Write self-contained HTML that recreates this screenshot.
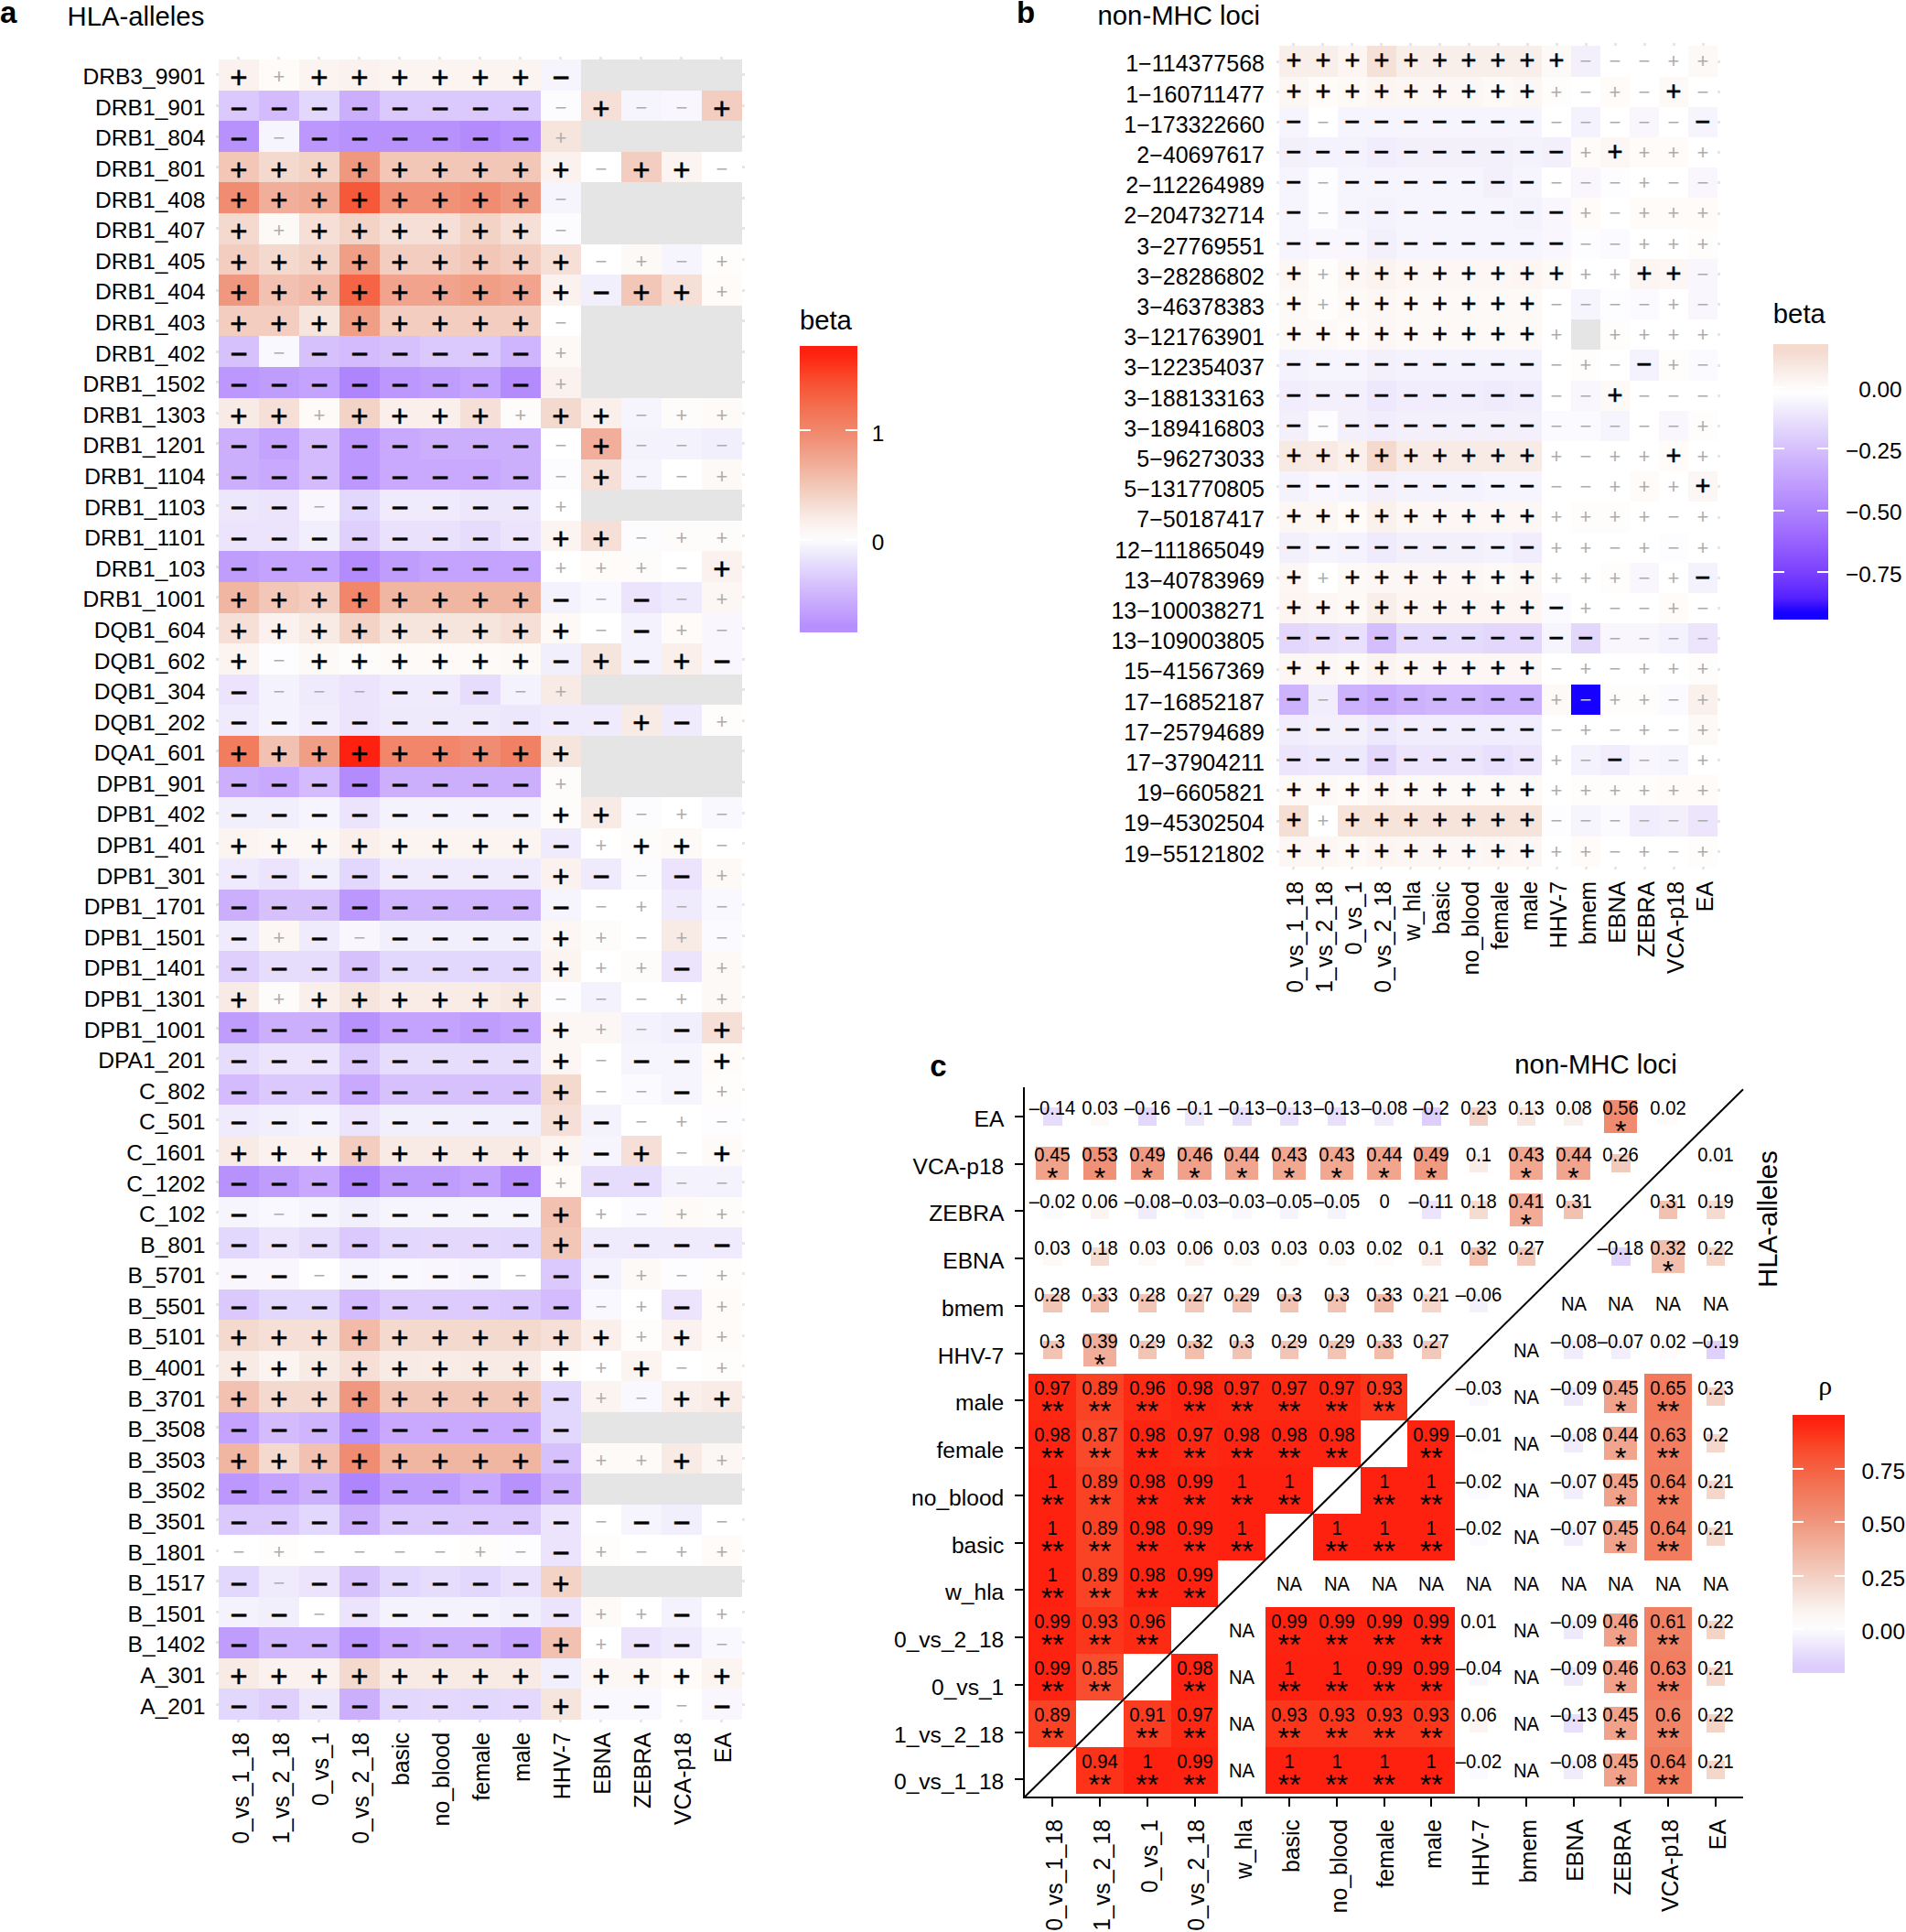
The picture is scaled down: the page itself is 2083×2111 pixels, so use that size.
<!DOCTYPE html>
<html><head><meta charset="utf-8"><title>figure</title><style>
html,body{margin:0;padding:0;background:#fff}
#r{position:relative;width:2083px;height:2111px;overflow:hidden;background:#fff;font-family:"Liberation Sans",Arial,Helvetica,sans-serif;color:#000}
#r div,#r i{position:absolute;display:block;white-space:nowrap}
.c{text-align:center;overflow:hidden}
.B{font-size:33px;line-height:38px;-webkit-text-stroke:0.5px #000}
.s{font-size:22px;line-height:37px;color:#adadad}
.b.B{font-size:29px;line-height:32px;-webkit-text-stroke:0.55px #000}
.b.s{line-height:33px}
.g{background:#e6e6e6}
.yb{font-size:25px !important}
.yl{width:300px;text-align:right;font-size:24.6px;line-height:30px;height:30px}
.ll{font-size:24.4px;line-height:30px;height:30px}
.xl{width:300px;height:30px;text-align:right;font-size:24.9px;line-height:30px;transform-origin:0 0;transform:rotate(-90deg)}
.tt{font-size:29.3px;line-height:36px;height:36px}
.pl{font-size:33px;line-height:40px;height:40px;font-weight:bold}
.t{height:2px;background:#fff}
.k{background:#000}
.v{width:80px;text-align:center;font-size:22.7px;line-height:24px;height:24px;transform:scaleX(0.89)}
.st{width:80px;text-align:center;font-size:32px;line-height:32px;height:32px}
.rho{width:60px;text-align:center;font-family:"Liberation Serif","DejaVu Serif",serif;font-size:30px;line-height:36px;height:36px}
</style></head><body><div id="r">
<i class="g" style="left:259.3px;top:62px;width:3px;height:1820px"></i>
<i class="g" style="left:303.3px;top:62px;width:3px;height:1820px"></i>
<i class="g" style="left:347.2px;top:62px;width:3px;height:1820px"></i>
<i class="g" style="left:391.2px;top:62px;width:3px;height:1820px"></i>
<i class="g" style="left:435.2px;top:62px;width:3px;height:1820px"></i>
<i class="g" style="left:479.2px;top:62px;width:3px;height:1820px"></i>
<i class="g" style="left:523.2px;top:62px;width:3px;height:1820px"></i>
<i class="g" style="left:567.1px;top:62px;width:3px;height:1820px"></i>
<i class="g" style="left:611.1px;top:62px;width:3px;height:1820px"></i>
<i class="g" style="left:655.1px;top:62px;width:3px;height:1820px"></i>
<i class="g" style="left:699.1px;top:62px;width:3px;height:1820px"></i>
<i class="g" style="left:743.1px;top:62px;width:3px;height:1820px"></i>
<i class="g" style="left:787.0px;top:62px;width:3px;height:1820px"></i>
<i class="g" style="left:236px;top:80.4px;width:578px;height:3px"></i>
<i class="g" style="left:236px;top:113.9px;width:578px;height:3px"></i>
<i class="g" style="left:236px;top:147.5px;width:578px;height:3px"></i>
<i class="g" style="left:236px;top:181.1px;width:578px;height:3px"></i>
<i class="g" style="left:236px;top:214.7px;width:578px;height:3px"></i>
<i class="g" style="left:236px;top:248.3px;width:578px;height:3px"></i>
<i class="g" style="left:236px;top:281.9px;width:578px;height:3px"></i>
<i class="g" style="left:236px;top:315.5px;width:578px;height:3px"></i>
<i class="g" style="left:236px;top:349.1px;width:578px;height:3px"></i>
<i class="g" style="left:236px;top:382.7px;width:578px;height:3px"></i>
<i class="g" style="left:236px;top:416.3px;width:578px;height:3px"></i>
<i class="g" style="left:236px;top:449.8px;width:578px;height:3px"></i>
<i class="g" style="left:236px;top:483.4px;width:578px;height:3px"></i>
<i class="g" style="left:236px;top:517.0px;width:578px;height:3px"></i>
<i class="g" style="left:236px;top:550.6px;width:578px;height:3px"></i>
<i class="g" style="left:236px;top:584.2px;width:578px;height:3px"></i>
<i class="g" style="left:236px;top:617.8px;width:578px;height:3px"></i>
<i class="g" style="left:236px;top:651.4px;width:578px;height:3px"></i>
<i class="g" style="left:236px;top:685.0px;width:578px;height:3px"></i>
<i class="g" style="left:236px;top:718.6px;width:578px;height:3px"></i>
<i class="g" style="left:236px;top:752.2px;width:578px;height:3px"></i>
<i class="g" style="left:236px;top:785.7px;width:578px;height:3px"></i>
<i class="g" style="left:236px;top:819.3px;width:578px;height:3px"></i>
<i class="g" style="left:236px;top:852.9px;width:578px;height:3px"></i>
<i class="g" style="left:236px;top:886.5px;width:578px;height:3px"></i>
<i class="g" style="left:236px;top:920.1px;width:578px;height:3px"></i>
<i class="g" style="left:236px;top:953.7px;width:578px;height:3px"></i>
<i class="g" style="left:236px;top:987.3px;width:578px;height:3px"></i>
<i class="g" style="left:236px;top:1020.9px;width:578px;height:3px"></i>
<i class="g" style="left:236px;top:1054.5px;width:578px;height:3px"></i>
<i class="g" style="left:236px;top:1088.1px;width:578px;height:3px"></i>
<i class="g" style="left:236px;top:1121.6px;width:578px;height:3px"></i>
<i class="g" style="left:236px;top:1155.2px;width:578px;height:3px"></i>
<i class="g" style="left:236px;top:1188.8px;width:578px;height:3px"></i>
<i class="g" style="left:236px;top:1222.4px;width:578px;height:3px"></i>
<i class="g" style="left:236px;top:1256.0px;width:578px;height:3px"></i>
<i class="g" style="left:236px;top:1289.6px;width:578px;height:3px"></i>
<i class="g" style="left:236px;top:1323.2px;width:578px;height:3px"></i>
<i class="g" style="left:236px;top:1356.8px;width:578px;height:3px"></i>
<i class="g" style="left:236px;top:1390.4px;width:578px;height:3px"></i>
<i class="g" style="left:236px;top:1424.0px;width:578px;height:3px"></i>
<i class="g" style="left:236px;top:1457.5px;width:578px;height:3px"></i>
<i class="g" style="left:236px;top:1491.1px;width:578px;height:3px"></i>
<i class="g" style="left:236px;top:1524.7px;width:578px;height:3px"></i>
<i class="g" style="left:236px;top:1558.3px;width:578px;height:3px"></i>
<i class="g" style="left:236px;top:1591.9px;width:578px;height:3px"></i>
<i class="g" style="left:236px;top:1625.5px;width:578px;height:3px"></i>
<i class="g" style="left:236px;top:1659.1px;width:578px;height:3px"></i>
<i class="g" style="left:236px;top:1692.7px;width:578px;height:3px"></i>
<i class="g" style="left:236px;top:1726.3px;width:578px;height:3px"></i>
<i class="g" style="left:236px;top:1759.9px;width:578px;height:3px"></i>
<i class="g" style="left:236px;top:1793.4px;width:578px;height:3px"></i>
<i class="g" style="left:236px;top:1827.0px;width:578px;height:3px"></i>
<i class="g" style="left:236px;top:1860.6px;width:578px;height:3px"></i>
<div class="yl ya" style="left:-75.6px;top:69.3px">DRB3_9901</div>
<div class="c a B" style="left:239px;top:65px;width:44px;height:34px;line-height:40.2px;background:#fbf2ef">+</div>
<div class="c a s" style="left:283px;top:65px;width:44px;height:34px;line-height:37.5px;background:#fefbf9">+</div>
<div class="c a B" style="left:327px;top:65px;width:44px;height:34px;line-height:40.2px;background:#fbf4f1">+</div>
<div class="c a B" style="left:371px;top:65px;width:44px;height:34px;line-height:40.2px;background:#fbf2ef">+</div>
<div class="c a B" style="left:415px;top:65px;width:44px;height:34px;line-height:40.2px;background:#fbf4f1">+</div>
<div class="c a B" style="left:459px;top:65px;width:44px;height:34px;line-height:40.2px;background:#fbf4f1">+</div>
<div class="c a B" style="left:503px;top:65px;width:44px;height:34px;line-height:40.2px;background:#fbf4f1">+</div>
<div class="c a B" style="left:547px;top:65px;width:44px;height:34px;line-height:40.2px;background:#fbf4f1">+</div>
<div class="c a B" style="left:591px;top:65px;width:44px;height:34px;line-height:40.2px;background:#f6f4fd">−</div>
<div class="c a" style="left:635px;top:65px;width:44px;height:34px;background:#e4e5e4"></div>
<div class="c a" style="left:679px;top:65px;width:44px;height:34px;background:#e4e5e4"></div>
<div class="c a" style="left:723px;top:65px;width:44px;height:34px;background:#e4e5e4"></div>
<div class="c a" style="left:767px;top:65px;width:44px;height:34px;background:#e4e5e4"></div>
<div class="yl ya" style="left:-75.6px;top:102.8px">DRB1_901</div>
<div class="c a B" style="left:239px;top:99px;width:44px;height:33px;line-height:40.2px;background:#dbc9fd">−</div>
<div class="c a B" style="left:283px;top:99px;width:44px;height:33px;line-height:40.2px;background:#d3bbfd">−</div>
<div class="c a B" style="left:327px;top:99px;width:44px;height:33px;line-height:40.2px;background:#e2d7fc">−</div>
<div class="c a B" style="left:371px;top:99px;width:44px;height:33px;line-height:40.2px;background:#cbaffd">−</div>
<div class="c a B" style="left:415px;top:99px;width:44px;height:33px;line-height:40.2px;background:#dbc9fd">−</div>
<div class="c a B" style="left:459px;top:99px;width:44px;height:33px;line-height:40.2px;background:#dbc9fd">−</div>
<div class="c a B" style="left:503px;top:99px;width:44px;height:33px;line-height:40.2px;background:#dbc9fd">−</div>
<div class="c a B" style="left:547px;top:99px;width:44px;height:33px;line-height:40.2px;background:#dbc9fd">−</div>
<div class="c a s" style="left:591px;top:99px;width:44px;height:33px;line-height:37.5px;background:#fcfbfe">−</div>
<div class="c a B" style="left:635px;top:99px;width:44px;height:33px;line-height:40.2px;background:#f5dfd6">+</div>
<div class="c a s" style="left:679px;top:99px;width:44px;height:33px;line-height:37.5px;background:#f6f4fd">−</div>
<div class="c a s" style="left:723px;top:99px;width:44px;height:33px;line-height:37.5px;background:#f9f7fd">−</div>
<div class="c a B" style="left:767px;top:99px;width:44px;height:33px;line-height:40.2px;background:#f3cdbf">+</div>
<div class="yl ya" style="left:-75.6px;top:136.4px">DRB1_804</div>
<div class="c a B" style="left:239px;top:132px;width:44px;height:34px;line-height:40.2px;background:#b792fd">−</div>
<div class="c a s" style="left:283px;top:132px;width:44px;height:34px;line-height:37.5px;background:#f6f4fd">−</div>
<div class="c a B" style="left:327px;top:132px;width:44px;height:34px;line-height:40.2px;background:#bc97fd">−</div>
<div class="c a B" style="left:371px;top:132px;width:44px;height:34px;line-height:40.2px;background:#b792fd">−</div>
<div class="c a B" style="left:415px;top:132px;width:44px;height:34px;line-height:40.2px;background:#b792fd">−</div>
<div class="c a B" style="left:459px;top:132px;width:44px;height:34px;line-height:40.2px;background:#b792fd">−</div>
<div class="c a B" style="left:503px;top:132px;width:44px;height:34px;line-height:40.2px;background:#b38bfd">−</div>
<div class="c a B" style="left:547px;top:132px;width:44px;height:34px;line-height:40.2px;background:#b792fd">−</div>
<div class="c a s" style="left:591px;top:132px;width:44px;height:34px;line-height:37.5px;background:#f6e5dd">+</div>
<div class="c a" style="left:635px;top:132px;width:44px;height:34px;background:#e4e5e4"></div>
<div class="c a" style="left:679px;top:132px;width:44px;height:34px;background:#e4e5e4"></div>
<div class="c a" style="left:723px;top:132px;width:44px;height:34px;background:#e4e5e4"></div>
<div class="c a" style="left:767px;top:132px;width:44px;height:34px;background:#e4e5e4"></div>
<div class="yl ya" style="left:-75.6px;top:170.0px">DRB1_801</div>
<div class="c a B" style="left:239px;top:166px;width:44px;height:33px;line-height:40.2px;background:#f2c7b8">+</div>
<div class="c a B" style="left:283px;top:166px;width:44px;height:33px;line-height:40.2px;background:#f4d9ce">+</div>
<div class="c a B" style="left:327px;top:166px;width:44px;height:33px;line-height:40.2px;background:#f4d3c7">+</div>
<div class="c a B" style="left:371px;top:166px;width:44px;height:33px;line-height:40.2px;background:#f0987f">+</div>
<div class="c a B" style="left:415px;top:166px;width:44px;height:33px;line-height:40.2px;background:#f2c7b8">+</div>
<div class="c a B" style="left:459px;top:166px;width:44px;height:33px;line-height:40.2px;background:#f2c7b8">+</div>
<div class="c a B" style="left:503px;top:166px;width:44px;height:33px;line-height:40.2px;background:#f2c7b8">+</div>
<div class="c a B" style="left:547px;top:166px;width:44px;height:33px;line-height:40.2px;background:#f2c7b8">+</div>
<div class="c a B" style="left:591px;top:166px;width:44px;height:33px;line-height:40.2px;background:#fbf2ef">+</div>
<div class="c a s" style="left:635px;top:166px;width:44px;height:33px;line-height:37.5px;background:#ffffff">−</div>
<div class="c a B" style="left:679px;top:166px;width:44px;height:33px;line-height:40.2px;background:#f3cdbf">+</div>
<div class="c a B" style="left:723px;top:166px;width:44px;height:33px;line-height:40.2px;background:#fbf4f1">+</div>
<div class="c a s" style="left:767px;top:166px;width:44px;height:33px;line-height:37.5px;background:#ffffff">−</div>
<div class="yl ya" style="left:-75.6px;top:203.6px">DRB1_408</div>
<div class="c a B" style="left:239px;top:199px;width:44px;height:34px;line-height:40.2px;background:#f08c71">+</div>
<div class="c a B" style="left:283px;top:199px;width:44px;height:34px;line-height:40.2px;background:#f1af9b">+</div>
<div class="c a B" style="left:327px;top:199px;width:44px;height:34px;line-height:40.2px;background:#f1aa94">+</div>
<div class="c a B" style="left:371px;top:199px;width:44px;height:34px;line-height:40.2px;background:#f65939">+</div>
<div class="c a B" style="left:415px;top:199px;width:44px;height:34px;line-height:40.2px;background:#f09178">+</div>
<div class="c a B" style="left:459px;top:199px;width:44px;height:34px;line-height:40.2px;background:#f09178">+</div>
<div class="c a B" style="left:503px;top:199px;width:44px;height:34px;line-height:40.2px;background:#f08c71">+</div>
<div class="c a B" style="left:547px;top:199px;width:44px;height:34px;line-height:40.2px;background:#f0987f">+</div>
<div class="c a s" style="left:591px;top:199px;width:44px;height:34px;line-height:37.5px;background:#f6f4fd">−</div>
<div class="c a" style="left:635px;top:199px;width:44px;height:34px;background:#e4e5e4"></div>
<div class="c a" style="left:679px;top:199px;width:44px;height:34px;background:#e4e5e4"></div>
<div class="c a" style="left:723px;top:199px;width:44px;height:34px;background:#e4e5e4"></div>
<div class="c a" style="left:767px;top:199px;width:44px;height:34px;background:#e4e5e4"></div>
<div class="yl ya" style="left:-75.6px;top:237.2px">DRB1_407</div>
<div class="c a B" style="left:239px;top:233px;width:44px;height:34px;line-height:40.2px;background:#f4d9ce">+</div>
<div class="c a s" style="left:283px;top:233px;width:44px;height:34px;line-height:37.5px;background:#fdf9f7">+</div>
<div class="c a B" style="left:327px;top:233px;width:44px;height:34px;line-height:40.2px;background:#f5dfd6">+</div>
<div class="c a B" style="left:371px;top:233px;width:44px;height:34px;line-height:40.2px;background:#f4d3c7">+</div>
<div class="c a B" style="left:415px;top:233px;width:44px;height:34px;line-height:40.2px;background:#f5dfd6">+</div>
<div class="c a B" style="left:459px;top:233px;width:44px;height:34px;line-height:40.2px;background:#f5dfd6">+</div>
<div class="c a B" style="left:503px;top:233px;width:44px;height:34px;line-height:40.2px;background:#f4d3c7">+</div>
<div class="c a B" style="left:547px;top:233px;width:44px;height:34px;line-height:40.2px;background:#f5dfd6">+</div>
<div class="c a s" style="left:591px;top:233px;width:44px;height:34px;line-height:37.5px;background:#fcfbfe">−</div>
<div class="c a" style="left:635px;top:233px;width:44px;height:34px;background:#e4e5e4"></div>
<div class="c a" style="left:679px;top:233px;width:44px;height:34px;background:#e4e5e4"></div>
<div class="c a" style="left:723px;top:233px;width:44px;height:34px;background:#e4e5e4"></div>
<div class="c a" style="left:767px;top:233px;width:44px;height:34px;background:#e4e5e4"></div>
<div class="yl ya" style="left:-75.6px;top:270.8px">DRB1_405</div>
<div class="c a B" style="left:239px;top:267px;width:44px;height:33px;line-height:40.2px;background:#f3cdbf">+</div>
<div class="c a B" style="left:283px;top:267px;width:44px;height:33px;line-height:40.2px;background:#f4d9ce">+</div>
<div class="c a B" style="left:327px;top:267px;width:44px;height:33px;line-height:40.2px;background:#f4d3c7">+</div>
<div class="c a B" style="left:371px;top:267px;width:44px;height:33px;line-height:40.2px;background:#f19e86">+</div>
<div class="c a B" style="left:415px;top:267px;width:44px;height:33px;line-height:40.2px;background:#f3cdbf">+</div>
<div class="c a B" style="left:459px;top:267px;width:44px;height:33px;line-height:40.2px;background:#f3cdbf">+</div>
<div class="c a B" style="left:503px;top:267px;width:44px;height:33px;line-height:40.2px;background:#f2c7b8">+</div>
<div class="c a B" style="left:547px;top:267px;width:44px;height:33px;line-height:40.2px;background:#f3cdbf">+</div>
<div class="c a B" style="left:591px;top:267px;width:44px;height:33px;line-height:40.2px;background:#f5dfd6">+</div>
<div class="c a s" style="left:635px;top:267px;width:44px;height:33px;line-height:37.5px;background:#ffffff">−</div>
<div class="c a s" style="left:679px;top:267px;width:44px;height:33px;line-height:37.5px;background:#fdf9f7">+</div>
<div class="c a s" style="left:723px;top:267px;width:44px;height:33px;line-height:37.5px;background:#f6f4fd">−</div>
<div class="c a s" style="left:767px;top:267px;width:44px;height:33px;line-height:37.5px;background:#fefdfc">+</div>
<div class="yl ya" style="left:-75.6px;top:304.4px">DRB1_404</div>
<div class="c a B" style="left:239px;top:300px;width:44px;height:34px;line-height:40.2px;background:#f0987f">+</div>
<div class="c a B" style="left:283px;top:300px;width:44px;height:34px;line-height:40.2px;background:#f2c1b1">+</div>
<div class="c a B" style="left:327px;top:300px;width:44px;height:34px;line-height:40.2px;background:#f2bba9">+</div>
<div class="c a B" style="left:371px;top:300px;width:44px;height:34px;line-height:40.2px;background:#f56545">+</div>
<div class="c a B" style="left:415px;top:300px;width:44px;height:34px;line-height:40.2px;background:#f1a38d">+</div>
<div class="c a B" style="left:459px;top:300px;width:44px;height:34px;line-height:40.2px;background:#f1a38d">+</div>
<div class="c a B" style="left:503px;top:300px;width:44px;height:34px;line-height:40.2px;background:#f19e86">+</div>
<div class="c a B" style="left:547px;top:300px;width:44px;height:34px;line-height:40.2px;background:#f1a38d">+</div>
<div class="c a B" style="left:591px;top:300px;width:44px;height:34px;line-height:40.2px;background:#fbf2ef">+</div>
<div class="c a B" style="left:635px;top:300px;width:44px;height:34px;line-height:40.2px;background:#f2effc">−</div>
<div class="c a B" style="left:679px;top:300px;width:44px;height:34px;line-height:40.2px;background:#f2c7b8">+</div>
<div class="c a B" style="left:723px;top:300px;width:44px;height:34px;line-height:40.2px;background:#f5dfd6">+</div>
<div class="c a s" style="left:767px;top:300px;width:44px;height:34px;line-height:37.5px;background:#fefbf9">+</div>
<div class="yl ya" style="left:-75.6px;top:338.0px">DRB1_403</div>
<div class="c a B" style="left:239px;top:334px;width:44px;height:33px;line-height:40.2px;background:#f3cdbf">+</div>
<div class="c a B" style="left:283px;top:334px;width:44px;height:33px;line-height:40.2px;background:#f3cdbf">+</div>
<div class="c a B" style="left:327px;top:334px;width:44px;height:33px;line-height:40.2px;background:#f6e5dd">+</div>
<div class="c a B" style="left:371px;top:334px;width:44px;height:33px;line-height:40.2px;background:#f19e86">+</div>
<div class="c a B" style="left:415px;top:334px;width:44px;height:33px;line-height:40.2px;background:#f3cdbf">+</div>
<div class="c a B" style="left:459px;top:334px;width:44px;height:33px;line-height:40.2px;background:#f3cdbf">+</div>
<div class="c a B" style="left:503px;top:334px;width:44px;height:33px;line-height:40.2px;background:#f3cdbf">+</div>
<div class="c a B" style="left:547px;top:334px;width:44px;height:33px;line-height:40.2px;background:#f3cdbf">+</div>
<div class="c a s" style="left:591px;top:334px;width:44px;height:33px;line-height:37.5px;background:#ffffff">−</div>
<div class="c a" style="left:635px;top:334px;width:44px;height:33px;background:#e4e5e4"></div>
<div class="c a" style="left:679px;top:334px;width:44px;height:33px;background:#e4e5e4"></div>
<div class="c a" style="left:723px;top:334px;width:44px;height:33px;background:#e4e5e4"></div>
<div class="c a" style="left:767px;top:334px;width:44px;height:33px;background:#e4e5e4"></div>
<div class="yl ya" style="left:-75.6px;top:371.6px">DRB1_402</div>
<div class="c a B" style="left:239px;top:367px;width:44px;height:34px;line-height:40.2px;background:#d7c1fd">−</div>
<div class="c a s" style="left:283px;top:367px;width:44px;height:34px;line-height:37.5px;background:#f9f8fe">−</div>
<div class="c a B" style="left:327px;top:367px;width:44px;height:34px;line-height:40.2px;background:#d7c1fd">−</div>
<div class="c a B" style="left:371px;top:367px;width:44px;height:34px;line-height:40.2px;background:#d3bbfd">−</div>
<div class="c a B" style="left:415px;top:367px;width:44px;height:34px;line-height:40.2px;background:#d7c1fd">−</div>
<div class="c a B" style="left:459px;top:367px;width:44px;height:34px;line-height:40.2px;background:#dbc9fd">−</div>
<div class="c a B" style="left:503px;top:367px;width:44px;height:34px;line-height:40.2px;background:#dbc9fd">−</div>
<div class="c a B" style="left:547px;top:367px;width:44px;height:34px;line-height:40.2px;background:#cfb5fd">−</div>
<div class="c a s" style="left:591px;top:367px;width:44px;height:34px;line-height:37.5px;background:#fdf9f7">+</div>
<div class="c a" style="left:635px;top:367px;width:44px;height:34px;background:#e4e5e4"></div>
<div class="c a" style="left:679px;top:367px;width:44px;height:34px;background:#e4e5e4"></div>
<div class="c a" style="left:723px;top:367px;width:44px;height:34px;background:#e4e5e4"></div>
<div class="c a" style="left:767px;top:367px;width:44px;height:34px;background:#e4e5e4"></div>
<div class="yl ya" style="left:-75.6px;top:405.2px">DRB1_1502</div>
<div class="c a B" style="left:239px;top:401px;width:44px;height:34px;line-height:40.2px;background:#bc97fd">−</div>
<div class="c a B" style="left:283px;top:401px;width:44px;height:34px;line-height:40.2px;background:#bf9dfd">−</div>
<div class="c a B" style="left:327px;top:401px;width:44px;height:34px;line-height:40.2px;background:#c3a3fd">−</div>
<div class="c a B" style="left:371px;top:401px;width:44px;height:34px;line-height:40.2px;background:#af85fd">−</div>
<div class="c a B" style="left:415px;top:401px;width:44px;height:34px;line-height:40.2px;background:#bc97fd">−</div>
<div class="c a B" style="left:459px;top:401px;width:44px;height:34px;line-height:40.2px;background:#bf9dfd">−</div>
<div class="c a B" style="left:503px;top:401px;width:44px;height:34px;line-height:40.2px;background:#c3a3fd">−</div>
<div class="c a B" style="left:547px;top:401px;width:44px;height:34px;line-height:40.2px;background:#b38bfd">−</div>
<div class="c a s" style="left:591px;top:401px;width:44px;height:34px;line-height:37.5px;background:#fbf2ef">+</div>
<div class="c a" style="left:635px;top:401px;width:44px;height:34px;background:#e4e5e4"></div>
<div class="c a" style="left:679px;top:401px;width:44px;height:34px;background:#e4e5e4"></div>
<div class="c a" style="left:723px;top:401px;width:44px;height:34px;background:#e4e5e4"></div>
<div class="c a" style="left:767px;top:401px;width:44px;height:34px;background:#e4e5e4"></div>
<div class="yl ya" style="left:-75.6px;top:438.7px">DRB1_1303</div>
<div class="c a B" style="left:239px;top:435px;width:44px;height:33px;line-height:40.2px;background:#f8eae4">+</div>
<div class="c a B" style="left:283px;top:435px;width:44px;height:33px;line-height:40.2px;background:#f5dfd6">+</div>
<div class="c a s" style="left:327px;top:435px;width:44px;height:33px;line-height:37.5px;background:#fdfaf8">+</div>
<div class="c a B" style="left:371px;top:435px;width:44px;height:33px;line-height:40.2px;background:#f4d3c7">+</div>
<div class="c a B" style="left:415px;top:435px;width:44px;height:33px;line-height:40.2px;background:#faefea">+</div>
<div class="c a B" style="left:459px;top:435px;width:44px;height:33px;line-height:40.2px;background:#faefea">+</div>
<div class="c a B" style="left:503px;top:435px;width:44px;height:33px;line-height:40.2px;background:#f5dfd6">+</div>
<div class="c a s" style="left:547px;top:435px;width:44px;height:33px;line-height:37.5px;background:#fefcfb">+</div>
<div class="c a B" style="left:591px;top:435px;width:44px;height:33px;line-height:40.2px;background:#f4d9ce">+</div>
<div class="c a B" style="left:635px;top:435px;width:44px;height:33px;line-height:40.2px;background:#faefea">+</div>
<div class="c a s" style="left:679px;top:435px;width:44px;height:33px;line-height:37.5px;background:#f6f4fd">−</div>
<div class="c a s" style="left:723px;top:435px;width:44px;height:33px;line-height:37.5px;background:#fefcfb">+</div>
<div class="c a s" style="left:767px;top:435px;width:44px;height:33px;line-height:37.5px;background:#fdfaf8">+</div>
<div class="yl ya" style="left:-75.6px;top:472.3px">DRB1_1201</div>
<div class="c a B" style="left:239px;top:468px;width:44px;height:34px;line-height:40.2px;background:#cbaffd">−</div>
<div class="c a B" style="left:283px;top:468px;width:44px;height:34px;line-height:40.2px;background:#c3a3fd">−</div>
<div class="c a B" style="left:327px;top:468px;width:44px;height:34px;line-height:40.2px;background:#d3bbfd">−</div>
<div class="c a B" style="left:371px;top:468px;width:44px;height:34px;line-height:40.2px;background:#bc97fd">−</div>
<div class="c a B" style="left:415px;top:468px;width:44px;height:34px;line-height:40.2px;background:#c8a9fd">−</div>
<div class="c a B" style="left:459px;top:468px;width:44px;height:34px;line-height:40.2px;background:#cbaffd">−</div>
<div class="c a B" style="left:503px;top:468px;width:44px;height:34px;line-height:40.2px;background:#cbaffd">−</div>
<div class="c a B" style="left:547px;top:468px;width:44px;height:34px;line-height:40.2px;background:#cbaffd">−</div>
<div class="c a s" style="left:591px;top:468px;width:44px;height:34px;line-height:37.5px;background:#ffffff">−</div>
<div class="c a B" style="left:635px;top:468px;width:44px;height:34px;line-height:40.2px;background:#f1af9b">+</div>
<div class="c a s" style="left:679px;top:468px;width:44px;height:34px;line-height:37.5px;background:#f4f2fc">−</div>
<div class="c a s" style="left:723px;top:468px;width:44px;height:34px;line-height:37.5px;background:#f4f2fc">−</div>
<div class="c a s" style="left:767px;top:468px;width:44px;height:34px;line-height:37.5px;background:#f2effc">−</div>
<div class="yl ya" style="left:-75.6px;top:505.9px">DRB1_1104</div>
<div class="c a B" style="left:239px;top:502px;width:44px;height:33px;line-height:40.2px;background:#cbaffd">−</div>
<div class="c a B" style="left:283px;top:502px;width:44px;height:33px;line-height:40.2px;background:#c8a9fd">−</div>
<div class="c a B" style="left:327px;top:502px;width:44px;height:33px;line-height:40.2px;background:#d3bbfd">−</div>
<div class="c a B" style="left:371px;top:502px;width:44px;height:33px;line-height:40.2px;background:#bc97fd">−</div>
<div class="c a B" style="left:415px;top:502px;width:44px;height:33px;line-height:40.2px;background:#c8a9fd">−</div>
<div class="c a B" style="left:459px;top:502px;width:44px;height:33px;line-height:40.2px;background:#c8a9fd">−</div>
<div class="c a B" style="left:503px;top:502px;width:44px;height:33px;line-height:40.2px;background:#c8a9fd">−</div>
<div class="c a B" style="left:547px;top:502px;width:44px;height:33px;line-height:40.2px;background:#cbaffd">−</div>
<div class="c a s" style="left:591px;top:502px;width:44px;height:33px;line-height:37.5px;background:#fcfbfe">−</div>
<div class="c a B" style="left:635px;top:502px;width:44px;height:33px;line-height:40.2px;background:#f5dfd6">+</div>
<div class="c a s" style="left:679px;top:502px;width:44px;height:33px;line-height:37.5px;background:#f6f4fd">−</div>
<div class="c a s" style="left:723px;top:502px;width:44px;height:33px;line-height:37.5px;background:#ffffff">−</div>
<div class="c a s" style="left:767px;top:502px;width:44px;height:33px;line-height:37.5px;background:#fdf9f7">+</div>
<div class="yl ya" style="left:-75.6px;top:539.5px">DRB1_1103</div>
<div class="c a B" style="left:239px;top:535px;width:44px;height:34px;line-height:40.2px;background:#ede7fc">−</div>
<div class="c a B" style="left:283px;top:535px;width:44px;height:34px;line-height:40.2px;background:#ebe4fc">−</div>
<div class="c a s" style="left:327px;top:535px;width:44px;height:34px;line-height:37.5px;background:#f9f7fd">−</div>
<div class="c a B" style="left:371px;top:535px;width:44px;height:34px;line-height:40.2px;background:#e2d7fc">−</div>
<div class="c a B" style="left:415px;top:535px;width:44px;height:34px;line-height:40.2px;background:#efebfc">−</div>
<div class="c a B" style="left:459px;top:535px;width:44px;height:34px;line-height:40.2px;background:#efebfc">−</div>
<div class="c a B" style="left:503px;top:535px;width:44px;height:34px;line-height:40.2px;background:#ede7fc">−</div>
<div class="c a B" style="left:547px;top:535px;width:44px;height:34px;line-height:40.2px;background:#ede7fc">−</div>
<div class="c a s" style="left:591px;top:535px;width:44px;height:34px;line-height:37.5px;background:#ffffff">+</div>
<div class="c a" style="left:635px;top:535px;width:44px;height:34px;background:#e4e5e4"></div>
<div class="c a" style="left:679px;top:535px;width:44px;height:34px;background:#e4e5e4"></div>
<div class="c a" style="left:723px;top:535px;width:44px;height:34px;background:#e4e5e4"></div>
<div class="c a" style="left:767px;top:535px;width:44px;height:34px;background:#e4e5e4"></div>
<div class="yl ya" style="left:-75.6px;top:573.1px">DRB1_1101</div>
<div class="c a B" style="left:239px;top:569px;width:44px;height:33px;line-height:40.2px;background:#ebe4fc">−</div>
<div class="c a B" style="left:283px;top:569px;width:44px;height:33px;line-height:40.2px;background:#ebe4fc">−</div>
<div class="c a B" style="left:327px;top:569px;width:44px;height:33px;line-height:40.2px;background:#f2effc">−</div>
<div class="c a B" style="left:371px;top:569px;width:44px;height:33px;line-height:40.2px;background:#decffc">−</div>
<div class="c a B" style="left:415px;top:569px;width:44px;height:33px;line-height:40.2px;background:#eae1fc">−</div>
<div class="c a B" style="left:459px;top:569px;width:44px;height:33px;line-height:40.2px;background:#eae1fc">−</div>
<div class="c a B" style="left:503px;top:569px;width:44px;height:33px;line-height:40.2px;background:#e6ddfc">−</div>
<div class="c a B" style="left:547px;top:569px;width:44px;height:33px;line-height:40.2px;background:#ebe4fc">−</div>
<div class="c a B" style="left:591px;top:569px;width:44px;height:33px;line-height:40.2px;background:#fbf4f1">+</div>
<div class="c a B" style="left:635px;top:569px;width:44px;height:33px;line-height:40.2px;background:#f5dfd6">+</div>
<div class="c a s" style="left:679px;top:569px;width:44px;height:33px;line-height:37.5px;background:#fcfbfe">−</div>
<div class="c a s" style="left:723px;top:569px;width:44px;height:33px;line-height:37.5px;background:#fefcfb">+</div>
<div class="c a s" style="left:767px;top:569px;width:44px;height:33px;line-height:37.5px;background:#fefcfb">+</div>
<div class="yl ya" style="left:-75.6px;top:606.7px">DRB1_103</div>
<div class="c a B" style="left:239px;top:602px;width:44px;height:34px;line-height:40.2px;background:#bf9dfd">−</div>
<div class="c a B" style="left:283px;top:602px;width:44px;height:34px;line-height:40.2px;background:#c3a3fd">−</div>
<div class="c a B" style="left:327px;top:602px;width:44px;height:34px;line-height:40.2px;background:#c3a3fd">−</div>
<div class="c a B" style="left:371px;top:602px;width:44px;height:34px;line-height:40.2px;background:#b38bfd">−</div>
<div class="c a B" style="left:415px;top:602px;width:44px;height:34px;line-height:40.2px;background:#bf9dfd">−</div>
<div class="c a B" style="left:459px;top:602px;width:44px;height:34px;line-height:40.2px;background:#c3a3fd">−</div>
<div class="c a B" style="left:503px;top:602px;width:44px;height:34px;line-height:40.2px;background:#c3a3fd">−</div>
<div class="c a B" style="left:547px;top:602px;width:44px;height:34px;line-height:40.2px;background:#c3a3fd">−</div>
<div class="c a s" style="left:591px;top:602px;width:44px;height:34px;line-height:37.5px;background:#ffffff">+</div>
<div class="c a s" style="left:635px;top:602px;width:44px;height:34px;line-height:37.5px;background:#fefbf9">+</div>
<div class="c a s" style="left:679px;top:602px;width:44px;height:34px;line-height:37.5px;background:#fefcfb">+</div>
<div class="c a s" style="left:723px;top:602px;width:44px;height:34px;line-height:37.5px;background:#ffffff">−</div>
<div class="c a B" style="left:767px;top:602px;width:44px;height:34px;line-height:40.2px;background:#fbf2ef">+</div>
<div class="yl ya" style="left:-75.6px;top:640.3px">DRB1_1001</div>
<div class="c a B" style="left:239px;top:636px;width:44px;height:34px;line-height:40.2px;background:#f1b6a2">+</div>
<div class="c a B" style="left:283px;top:636px;width:44px;height:34px;line-height:40.2px;background:#f2c7b8">+</div>
<div class="c a B" style="left:327px;top:636px;width:44px;height:34px;line-height:40.2px;background:#f3cdbf">+</div>
<div class="c a B" style="left:371px;top:636px;width:44px;height:34px;line-height:40.2px;background:#f1866a">+</div>
<div class="c a B" style="left:415px;top:636px;width:44px;height:34px;line-height:40.2px;background:#f1b6a2">+</div>
<div class="c a B" style="left:459px;top:636px;width:44px;height:34px;line-height:40.2px;background:#f1b6a2">+</div>
<div class="c a B" style="left:503px;top:636px;width:44px;height:34px;line-height:40.2px;background:#f1b6a2">+</div>
<div class="c a B" style="left:547px;top:636px;width:44px;height:34px;line-height:40.2px;background:#f1b6a2">+</div>
<div class="c a B" style="left:591px;top:636px;width:44px;height:34px;line-height:40.2px;background:#f4f2fc">−</div>
<div class="c a s" style="left:635px;top:636px;width:44px;height:34px;line-height:37.5px;background:#f9f8fe">−</div>
<div class="c a B" style="left:679px;top:636px;width:44px;height:34px;line-height:40.2px;background:#ebe4fc">−</div>
<div class="c a s" style="left:723px;top:636px;width:44px;height:34px;line-height:37.5px;background:#efebfc">−</div>
<div class="c a s" style="left:767px;top:636px;width:44px;height:34px;line-height:37.5px;background:#fcf7f4">+</div>
<div class="yl ya" style="left:-75.6px;top:673.9px">DQB1_604</div>
<div class="c a B" style="left:239px;top:670px;width:44px;height:33px;line-height:40.2px;background:#f5dfd6">+</div>
<div class="c a B" style="left:283px;top:670px;width:44px;height:33px;line-height:40.2px;background:#fbf2ef">+</div>
<div class="c a B" style="left:327px;top:670px;width:44px;height:33px;line-height:40.2px;background:#f8eae4">+</div>
<div class="c a B" style="left:371px;top:670px;width:44px;height:33px;line-height:40.2px;background:#f4d3c7">+</div>
<div class="c a B" style="left:415px;top:670px;width:44px;height:33px;line-height:40.2px;background:#f6e5dd">+</div>
<div class="c a B" style="left:459px;top:670px;width:44px;height:33px;line-height:40.2px;background:#f6e5dd">+</div>
<div class="c a B" style="left:503px;top:670px;width:44px;height:33px;line-height:40.2px;background:#f6e5dd">+</div>
<div class="c a B" style="left:547px;top:670px;width:44px;height:33px;line-height:40.2px;background:#f5dfd6">+</div>
<div class="c a B" style="left:591px;top:670px;width:44px;height:33px;line-height:40.2px;background:#fdf9f7">+</div>
<div class="c a s" style="left:635px;top:670px;width:44px;height:33px;line-height:37.5px;background:#ffffff">−</div>
<div class="c a B" style="left:679px;top:670px;width:44px;height:33px;line-height:40.2px;background:#f4f2fc">−</div>
<div class="c a s" style="left:723px;top:670px;width:44px;height:33px;line-height:37.5px;background:#fefbf9">+</div>
<div class="c a s" style="left:767px;top:670px;width:44px;height:33px;line-height:37.5px;background:#f9f7fd">−</div>
<div class="yl ya" style="left:-75.6px;top:707.5px">DQB1_602</div>
<div class="c a B" style="left:239px;top:703px;width:44px;height:34px;line-height:40.2px;background:#fbf4f1">+</div>
<div class="c a s" style="left:283px;top:703px;width:44px;height:34px;line-height:37.5px;background:#fdfcfe">−</div>
<div class="c a B" style="left:327px;top:703px;width:44px;height:34px;line-height:40.2px;background:#fdf9f7">+</div>
<div class="c a B" style="left:371px;top:703px;width:44px;height:34px;line-height:40.2px;background:#fefcfb">+</div>
<div class="c a B" style="left:415px;top:703px;width:44px;height:34px;line-height:40.2px;background:#fdfaf8">+</div>
<div class="c a B" style="left:459px;top:703px;width:44px;height:34px;line-height:40.2px;background:#fdfaf8">+</div>
<div class="c a B" style="left:503px;top:703px;width:44px;height:34px;line-height:40.2px;background:#fdfaf8">+</div>
<div class="c a B" style="left:547px;top:703px;width:44px;height:34px;line-height:40.2px;background:#fdf9f7">+</div>
<div class="c a B" style="left:591px;top:703px;width:44px;height:34px;line-height:40.2px;background:#f2effc">−</div>
<div class="c a B" style="left:635px;top:703px;width:44px;height:34px;line-height:40.2px;background:#f6e5dd">+</div>
<div class="c a B" style="left:679px;top:703px;width:44px;height:34px;line-height:40.2px;background:#f4f2fc">−</div>
<div class="c a B" style="left:723px;top:703px;width:44px;height:34px;line-height:40.2px;background:#faefea">+</div>
<div class="c a B" style="left:767px;top:703px;width:44px;height:34px;line-height:40.2px;background:#f9f7fd">−</div>
<div class="yl ya" style="left:-75.6px;top:741.1px">DQB1_304</div>
<div class="c a B" style="left:239px;top:737px;width:44px;height:33px;line-height:40.2px;background:#ebe4fc">−</div>
<div class="c a s" style="left:283px;top:737px;width:44px;height:33px;line-height:37.5px;background:#f4f2fc">−</div>
<div class="c a s" style="left:327px;top:737px;width:44px;height:33px;line-height:37.5px;background:#efebfc">−</div>
<div class="c a s" style="left:371px;top:737px;width:44px;height:33px;line-height:37.5px;background:#ebe4fc">−</div>
<div class="c a B" style="left:415px;top:737px;width:44px;height:33px;line-height:40.2px;background:#efebfc">−</div>
<div class="c a B" style="left:459px;top:737px;width:44px;height:33px;line-height:40.2px;background:#efebfc">−</div>
<div class="c a B" style="left:503px;top:737px;width:44px;height:33px;line-height:40.2px;background:#e6ddfc">−</div>
<div class="c a s" style="left:547px;top:737px;width:44px;height:33px;line-height:37.5px;background:#f4f2fc">−</div>
<div class="c a s" style="left:591px;top:737px;width:44px;height:33px;line-height:37.5px;background:#f8eae4">+</div>
<div class="c a" style="left:635px;top:737px;width:44px;height:33px;background:#e4e5e4"></div>
<div class="c a" style="left:679px;top:737px;width:44px;height:33px;background:#e4e5e4"></div>
<div class="c a" style="left:723px;top:737px;width:44px;height:33px;background:#e4e5e4"></div>
<div class="c a" style="left:767px;top:737px;width:44px;height:33px;background:#e4e5e4"></div>
<div class="yl ya" style="left:-75.6px;top:774.6px">DQB1_202</div>
<div class="c a B" style="left:239px;top:770px;width:44px;height:34px;line-height:40.2px;background:#efebfc">−</div>
<div class="c a B" style="left:283px;top:770px;width:44px;height:34px;line-height:40.2px;background:#f4f2fc">−</div>
<div class="c a B" style="left:327px;top:770px;width:44px;height:34px;line-height:40.2px;background:#f1edfc">−</div>
<div class="c a B" style="left:371px;top:770px;width:44px;height:34px;line-height:40.2px;background:#ebe4fc">−</div>
<div class="c a B" style="left:415px;top:770px;width:44px;height:34px;line-height:40.2px;background:#eeeafc">−</div>
<div class="c a B" style="left:459px;top:770px;width:44px;height:34px;line-height:40.2px;background:#eeeafc">−</div>
<div class="c a B" style="left:503px;top:770px;width:44px;height:34px;line-height:40.2px;background:#eeeafc">−</div>
<div class="c a B" style="left:547px;top:770px;width:44px;height:34px;line-height:40.2px;background:#ede7fc">−</div>
<div class="c a B" style="left:591px;top:770px;width:44px;height:34px;line-height:40.2px;background:#efebfc">−</div>
<div class="c a B" style="left:635px;top:770px;width:44px;height:34px;line-height:40.2px;background:#efebfc">−</div>
<div class="c a B" style="left:679px;top:770px;width:44px;height:34px;line-height:40.2px;background:#f8eae4">+</div>
<div class="c a B" style="left:723px;top:770px;width:44px;height:34px;line-height:40.2px;background:#efebfc">−</div>
<div class="c a s" style="left:767px;top:770px;width:44px;height:34px;line-height:37.5px;background:#fefdfc">+</div>
<div class="yl ya" style="left:-75.6px;top:808.2px">DQA1_601</div>
<div class="c a B" style="left:239px;top:804px;width:44px;height:34px;line-height:40.2px;background:#f27c5e">+</div>
<div class="c a B" style="left:283px;top:804px;width:44px;height:34px;line-height:40.2px;background:#f2c1b1">+</div>
<div class="c a B" style="left:327px;top:804px;width:44px;height:34px;line-height:40.2px;background:#f19e86">+</div>
<div class="c a B" style="left:371px;top:804px;width:44px;height:34px;line-height:40.2px;background:#fe2110">+</div>
<div class="c a B" style="left:415px;top:804px;width:44px;height:34px;line-height:40.2px;background:#f1866a">+</div>
<div class="c a B" style="left:459px;top:804px;width:44px;height:34px;line-height:40.2px;background:#f1866a">+</div>
<div class="c a B" style="left:503px;top:804px;width:44px;height:34px;line-height:40.2px;background:#f08c71">+</div>
<div class="c a B" style="left:547px;top:804px;width:44px;height:34px;line-height:40.2px;background:#f18165">+</div>
<div class="c a B" style="left:591px;top:804px;width:44px;height:34px;line-height:40.2px;background:#f6e5dd">+</div>
<div class="c a" style="left:635px;top:804px;width:44px;height:34px;background:#e4e5e4"></div>
<div class="c a" style="left:679px;top:804px;width:44px;height:34px;background:#e4e5e4"></div>
<div class="c a" style="left:723px;top:804px;width:44px;height:34px;background:#e4e5e4"></div>
<div class="c a" style="left:767px;top:804px;width:44px;height:34px;background:#e4e5e4"></div>
<div class="yl ya" style="left:-75.6px;top:841.8px">DPB1_901</div>
<div class="c a B" style="left:239px;top:838px;width:44px;height:33px;line-height:40.2px;background:#cbaffd">−</div>
<div class="c a B" style="left:283px;top:838px;width:44px;height:33px;line-height:40.2px;background:#c8a9fd">−</div>
<div class="c a B" style="left:327px;top:838px;width:44px;height:33px;line-height:40.2px;background:#d3bbfd">−</div>
<div class="c a B" style="left:371px;top:838px;width:44px;height:33px;line-height:40.2px;background:#b38bfd">−</div>
<div class="c a B" style="left:415px;top:838px;width:44px;height:33px;line-height:40.2px;background:#cbaffd">−</div>
<div class="c a B" style="left:459px;top:838px;width:44px;height:33px;line-height:40.2px;background:#cbaffd">−</div>
<div class="c a B" style="left:503px;top:838px;width:44px;height:33px;line-height:40.2px;background:#cbaffd">−</div>
<div class="c a B" style="left:547px;top:838px;width:44px;height:33px;line-height:40.2px;background:#cbaffd">−</div>
<div class="c a s" style="left:591px;top:838px;width:44px;height:33px;line-height:37.5px;background:#fefcfb">+</div>
<div class="c a" style="left:635px;top:838px;width:44px;height:33px;background:#e4e5e4"></div>
<div class="c a" style="left:679px;top:838px;width:44px;height:33px;background:#e4e5e4"></div>
<div class="c a" style="left:723px;top:838px;width:44px;height:33px;background:#e4e5e4"></div>
<div class="c a" style="left:767px;top:838px;width:44px;height:33px;background:#e4e5e4"></div>
<div class="yl ya" style="left:-75.6px;top:875.4px">DPB1_402</div>
<div class="c a B" style="left:239px;top:871px;width:44px;height:34px;line-height:40.2px;background:#f2effc">−</div>
<div class="c a B" style="left:283px;top:871px;width:44px;height:34px;line-height:40.2px;background:#f2effc">−</div>
<div class="c a B" style="left:327px;top:871px;width:44px;height:34px;line-height:40.2px;background:#f6f4fd">−</div>
<div class="c a B" style="left:371px;top:871px;width:44px;height:34px;line-height:40.2px;background:#ebe4fc">−</div>
<div class="c a B" style="left:415px;top:871px;width:44px;height:34px;line-height:40.2px;background:#f4f2fc">−</div>
<div class="c a B" style="left:459px;top:871px;width:44px;height:34px;line-height:40.2px;background:#f4f2fc">−</div>
<div class="c a B" style="left:503px;top:871px;width:44px;height:34px;line-height:40.2px;background:#f4f2fc">−</div>
<div class="c a B" style="left:547px;top:871px;width:44px;height:34px;line-height:40.2px;background:#f4f2fc">−</div>
<div class="c a B" style="left:591px;top:871px;width:44px;height:34px;line-height:40.2px;background:#fefcfb">+</div>
<div class="c a B" style="left:635px;top:871px;width:44px;height:34px;line-height:40.2px;background:#f8eae4">+</div>
<div class="c a s" style="left:679px;top:871px;width:44px;height:34px;line-height:37.5px;background:#fcfbfe">−</div>
<div class="c a s" style="left:723px;top:871px;width:44px;height:34px;line-height:37.5px;background:#ffffff">+</div>
<div class="c a s" style="left:767px;top:871px;width:44px;height:34px;line-height:37.5px;background:#f9f8fe">−</div>
<div class="yl ya" style="left:-75.6px;top:909.0px">DPB1_401</div>
<div class="c a B" style="left:239px;top:905px;width:44px;height:33px;line-height:40.2px;background:#fbf4f1">+</div>
<div class="c a B" style="left:283px;top:905px;width:44px;height:33px;line-height:40.2px;background:#fcf7f4">+</div>
<div class="c a B" style="left:327px;top:905px;width:44px;height:33px;line-height:40.2px;background:#fcf7f4">+</div>
<div class="c a B" style="left:371px;top:905px;width:44px;height:33px;line-height:40.2px;background:#faefea">+</div>
<div class="c a B" style="left:415px;top:905px;width:44px;height:33px;line-height:40.2px;background:#fbf4f1">+</div>
<div class="c a B" style="left:459px;top:905px;width:44px;height:33px;line-height:40.2px;background:#fbf4f1">+</div>
<div class="c a B" style="left:503px;top:905px;width:44px;height:33px;line-height:40.2px;background:#fbf4f1">+</div>
<div class="c a B" style="left:547px;top:905px;width:44px;height:33px;line-height:40.2px;background:#fbf4f1">+</div>
<div class="c a B" style="left:591px;top:905px;width:44px;height:33px;line-height:40.2px;background:#efebfc">−</div>
<div class="c a s" style="left:635px;top:905px;width:44px;height:33px;line-height:37.5px;background:#ffffff">+</div>
<div class="c a B" style="left:679px;top:905px;width:44px;height:33px;line-height:40.2px;background:#fefcfb">+</div>
<div class="c a B" style="left:723px;top:905px;width:44px;height:33px;line-height:40.2px;background:#fdf9f7">+</div>
<div class="c a s" style="left:767px;top:905px;width:44px;height:33px;line-height:37.5px;background:#ffffff">−</div>
<div class="yl ya" style="left:-75.6px;top:942.6px">DPB1_301</div>
<div class="c a B" style="left:239px;top:938px;width:44px;height:34px;line-height:40.2px;background:#efebfc">−</div>
<div class="c a B" style="left:283px;top:938px;width:44px;height:34px;line-height:40.2px;background:#ebe4fc">−</div>
<div class="c a B" style="left:327px;top:938px;width:44px;height:34px;line-height:40.2px;background:#f2effc">−</div>
<div class="c a B" style="left:371px;top:938px;width:44px;height:34px;line-height:40.2px;background:#e2d7fc">−</div>
<div class="c a B" style="left:415px;top:938px;width:44px;height:34px;line-height:40.2px;background:#efebfc">−</div>
<div class="c a B" style="left:459px;top:938px;width:44px;height:34px;line-height:40.2px;background:#efebfc">−</div>
<div class="c a B" style="left:503px;top:938px;width:44px;height:34px;line-height:40.2px;background:#efebfc">−</div>
<div class="c a B" style="left:547px;top:938px;width:44px;height:34px;line-height:40.2px;background:#efebfc">−</div>
<div class="c a B" style="left:591px;top:938px;width:44px;height:34px;line-height:40.2px;background:#fbf2ef">+</div>
<div class="c a B" style="left:635px;top:938px;width:44px;height:34px;line-height:40.2px;background:#efebfc">−</div>
<div class="c a s" style="left:679px;top:938px;width:44px;height:34px;line-height:37.5px;background:#fcfbfe">−</div>
<div class="c a B" style="left:723px;top:938px;width:44px;height:34px;line-height:40.2px;background:#ebe4fc">−</div>
<div class="c a s" style="left:767px;top:938px;width:44px;height:34px;line-height:37.5px;background:#fdf9f7">+</div>
<div class="yl ya" style="left:-75.6px;top:976.2px">DPB1_1701</div>
<div class="c a B" style="left:239px;top:972px;width:44px;height:34px;line-height:40.2px;background:#cbaffd">−</div>
<div class="c a B" style="left:283px;top:972px;width:44px;height:34px;line-height:40.2px;background:#d7c1fd">−</div>
<div class="c a B" style="left:327px;top:972px;width:44px;height:34px;line-height:40.2px;background:#d7c1fd">−</div>
<div class="c a B" style="left:371px;top:972px;width:44px;height:34px;line-height:40.2px;background:#bc97fd">−</div>
<div class="c a B" style="left:415px;top:972px;width:44px;height:34px;line-height:40.2px;background:#cfb5fd">−</div>
<div class="c a B" style="left:459px;top:972px;width:44px;height:34px;line-height:40.2px;background:#cfb5fd">−</div>
<div class="c a B" style="left:503px;top:972px;width:44px;height:34px;line-height:40.2px;background:#cfb5fd">−</div>
<div class="c a B" style="left:547px;top:972px;width:44px;height:34px;line-height:40.2px;background:#cfb5fd">−</div>
<div class="c a B" style="left:591px;top:972px;width:44px;height:34px;line-height:40.2px;background:#f6f4fd">−</div>
<div class="c a s" style="left:635px;top:972px;width:44px;height:34px;line-height:37.5px;background:#ffffff">−</div>
<div class="c a s" style="left:679px;top:972px;width:44px;height:34px;line-height:37.5px;background:#ffffff">+</div>
<div class="c a s" style="left:723px;top:972px;width:44px;height:34px;line-height:37.5px;background:#efebfc">−</div>
<div class="c a s" style="left:767px;top:972px;width:44px;height:34px;line-height:37.5px;background:#f9f8fe">−</div>
<div class="yl ya" style="left:-75.6px;top:1009.8px">DPB1_1501</div>
<div class="c a B" style="left:239px;top:1006px;width:44px;height:33px;line-height:40.2px;background:#efebfc">−</div>
<div class="c a s" style="left:283px;top:1006px;width:44px;height:33px;line-height:37.5px;background:#fcf7f4">+</div>
<div class="c a B" style="left:327px;top:1006px;width:44px;height:33px;line-height:40.2px;background:#efebfc">−</div>
<div class="c a s" style="left:371px;top:1006px;width:44px;height:33px;line-height:37.5px;background:#f9f7fd">−</div>
<div class="c a B" style="left:415px;top:1006px;width:44px;height:33px;line-height:40.2px;background:#f2effc">−</div>
<div class="c a B" style="left:459px;top:1006px;width:44px;height:33px;line-height:40.2px;background:#f2effc">−</div>
<div class="c a B" style="left:503px;top:1006px;width:44px;height:33px;line-height:40.2px;background:#f2effc">−</div>
<div class="c a B" style="left:547px;top:1006px;width:44px;height:33px;line-height:40.2px;background:#f2effc">−</div>
<div class="c a B" style="left:591px;top:1006px;width:44px;height:33px;line-height:40.2px;background:#fcf7f4">+</div>
<div class="c a s" style="left:635px;top:1006px;width:44px;height:33px;line-height:37.5px;background:#fefcfb">+</div>
<div class="c a s" style="left:679px;top:1006px;width:44px;height:33px;line-height:37.5px;background:#ffffff">−</div>
<div class="c a s" style="left:723px;top:1006px;width:44px;height:33px;line-height:37.5px;background:#f8eae4">+</div>
<div class="c a s" style="left:767px;top:1006px;width:44px;height:33px;line-height:37.5px;background:#fbfafe">−</div>
<div class="yl ya" style="left:-75.6px;top:1043.4px">DPB1_1401</div>
<div class="c a B" style="left:239px;top:1039px;width:44px;height:34px;line-height:40.2px;background:#decffc">−</div>
<div class="c a B" style="left:283px;top:1039px;width:44px;height:34px;line-height:40.2px;background:#e6ddfc">−</div>
<div class="c a B" style="left:327px;top:1039px;width:44px;height:34px;line-height:40.2px;background:#e6ddfc">−</div>
<div class="c a B" style="left:371px;top:1039px;width:44px;height:34px;line-height:40.2px;background:#d7c1fd">−</div>
<div class="c a B" style="left:415px;top:1039px;width:44px;height:34px;line-height:40.2px;background:#e2d7fc">−</div>
<div class="c a B" style="left:459px;top:1039px;width:44px;height:34px;line-height:40.2px;background:#e2d7fc">−</div>
<div class="c a B" style="left:503px;top:1039px;width:44px;height:34px;line-height:40.2px;background:#e2d7fc">−</div>
<div class="c a B" style="left:547px;top:1039px;width:44px;height:34px;line-height:40.2px;background:#e2d7fc">−</div>
<div class="c a B" style="left:591px;top:1039px;width:44px;height:34px;line-height:40.2px;background:#fbf4f1">+</div>
<div class="c a s" style="left:635px;top:1039px;width:44px;height:34px;line-height:37.5px;background:#ffffff">+</div>
<div class="c a s" style="left:679px;top:1039px;width:44px;height:34px;line-height:37.5px;background:#fefcfb">+</div>
<div class="c a B" style="left:723px;top:1039px;width:44px;height:34px;line-height:40.2px;background:#ebe4fc">−</div>
<div class="c a s" style="left:767px;top:1039px;width:44px;height:34px;line-height:37.5px;background:#fdf9f7">+</div>
<div class="yl ya" style="left:-75.6px;top:1077.0px">DPB1_1301</div>
<div class="c a B" style="left:239px;top:1073px;width:44px;height:33px;line-height:40.2px;background:#f8eae4">+</div>
<div class="c a s" style="left:283px;top:1073px;width:44px;height:33px;line-height:37.5px;background:#fefcfb">+</div>
<div class="c a B" style="left:327px;top:1073px;width:44px;height:33px;line-height:40.2px;background:#faefea">+</div>
<div class="c a B" style="left:371px;top:1073px;width:44px;height:33px;line-height:40.2px;background:#f6e5dd">+</div>
<div class="c a B" style="left:415px;top:1073px;width:44px;height:33px;line-height:40.2px;background:#f9ece6">+</div>
<div class="c a B" style="left:459px;top:1073px;width:44px;height:33px;line-height:40.2px;background:#f9ece6">+</div>
<div class="c a B" style="left:503px;top:1073px;width:44px;height:33px;line-height:40.2px;background:#f9ece6">+</div>
<div class="c a B" style="left:547px;top:1073px;width:44px;height:33px;line-height:40.2px;background:#f7e8e1">+</div>
<div class="c a s" style="left:591px;top:1073px;width:44px;height:33px;line-height:37.5px;background:#fdfcfe">−</div>
<div class="c a s" style="left:635px;top:1073px;width:44px;height:33px;line-height:37.5px;background:#f4f2fc">−</div>
<div class="c a s" style="left:679px;top:1073px;width:44px;height:33px;line-height:37.5px;background:#ffffff">−</div>
<div class="c a s" style="left:723px;top:1073px;width:44px;height:33px;line-height:37.5px;background:#ffffff">+</div>
<div class="c a s" style="left:767px;top:1073px;width:44px;height:33px;line-height:37.5px;background:#fdf9f7">+</div>
<div class="yl ya" style="left:-75.6px;top:1110.5px">DPB1_1001</div>
<div class="c a B" style="left:239px;top:1106px;width:44px;height:34px;line-height:40.2px;background:#bf9dfd">−</div>
<div class="c a B" style="left:283px;top:1106px;width:44px;height:34px;line-height:40.2px;background:#cbaffd">−</div>
<div class="c a B" style="left:327px;top:1106px;width:44px;height:34px;line-height:40.2px;background:#cbaffd">−</div>
<div class="c a B" style="left:371px;top:1106px;width:44px;height:34px;line-height:40.2px;background:#b792fd">−</div>
<div class="c a B" style="left:415px;top:1106px;width:44px;height:34px;line-height:40.2px;background:#c3a3fd">−</div>
<div class="c a B" style="left:459px;top:1106px;width:44px;height:34px;line-height:40.2px;background:#c3a3fd">−</div>
<div class="c a B" style="left:503px;top:1106px;width:44px;height:34px;line-height:40.2px;background:#bf9dfd">−</div>
<div class="c a B" style="left:547px;top:1106px;width:44px;height:34px;line-height:40.2px;background:#c3a3fd">−</div>
<div class="c a B" style="left:591px;top:1106px;width:44px;height:34px;line-height:40.2px;background:#fcf7f4">+</div>
<div class="c a s" style="left:635px;top:1106px;width:44px;height:34px;line-height:37.5px;background:#fcf7f4">+</div>
<div class="c a s" style="left:679px;top:1106px;width:44px;height:34px;line-height:37.5px;background:#f4f2fc">−</div>
<div class="c a B" style="left:723px;top:1106px;width:44px;height:34px;line-height:40.2px;background:#f2effc">−</div>
<div class="c a B" style="left:767px;top:1106px;width:44px;height:34px;line-height:40.2px;background:#f5dfd6">+</div>
<div class="yl ya" style="left:-75.6px;top:1144.1px">DPA1_201</div>
<div class="c a B" style="left:239px;top:1140px;width:44px;height:34px;line-height:40.2px;background:#e6ddfc">−</div>
<div class="c a B" style="left:283px;top:1140px;width:44px;height:34px;line-height:40.2px;background:#ebe4fc">−</div>
<div class="c a B" style="left:327px;top:1140px;width:44px;height:34px;line-height:40.2px;background:#ebe4fc">−</div>
<div class="c a B" style="left:371px;top:1140px;width:44px;height:34px;line-height:40.2px;background:#dbc9fd">−</div>
<div class="c a B" style="left:415px;top:1140px;width:44px;height:34px;line-height:40.2px;background:#e6ddfc">−</div>
<div class="c a B" style="left:459px;top:1140px;width:44px;height:34px;line-height:40.2px;background:#e6ddfc">−</div>
<div class="c a B" style="left:503px;top:1140px;width:44px;height:34px;line-height:40.2px;background:#e6ddfc">−</div>
<div class="c a B" style="left:547px;top:1140px;width:44px;height:34px;line-height:40.2px;background:#e6ddfc">−</div>
<div class="c a B" style="left:591px;top:1140px;width:44px;height:34px;line-height:40.2px;background:#fcf7f4">+</div>
<div class="c a s" style="left:635px;top:1140px;width:44px;height:34px;line-height:37.5px;background:#ffffff">−</div>
<div class="c a B" style="left:679px;top:1140px;width:44px;height:34px;line-height:40.2px;background:#f6f4fd">−</div>
<div class="c a B" style="left:723px;top:1140px;width:44px;height:34px;line-height:40.2px;background:#f6f4fd">−</div>
<div class="c a B" style="left:767px;top:1140px;width:44px;height:34px;line-height:40.2px;background:#fefbf9">+</div>
<div class="yl ya" style="left:-75.6px;top:1177.7px">C_802</div>
<div class="c a B" style="left:239px;top:1174px;width:44px;height:33px;line-height:40.2px;background:#d3bbfd">−</div>
<div class="c a B" style="left:283px;top:1174px;width:44px;height:33px;line-height:40.2px;background:#dbc9fd">−</div>
<div class="c a B" style="left:327px;top:1174px;width:44px;height:33px;line-height:40.2px;background:#dbc9fd">−</div>
<div class="c a B" style="left:371px;top:1174px;width:44px;height:33px;line-height:40.2px;background:#c8a9fd">−</div>
<div class="c a B" style="left:415px;top:1174px;width:44px;height:33px;line-height:40.2px;background:#d7c1fd">−</div>
<div class="c a B" style="left:459px;top:1174px;width:44px;height:33px;line-height:40.2px;background:#d7c1fd">−</div>
<div class="c a B" style="left:503px;top:1174px;width:44px;height:33px;line-height:40.2px;background:#d7c1fd">−</div>
<div class="c a B" style="left:547px;top:1174px;width:44px;height:33px;line-height:40.2px;background:#d7c1fd">−</div>
<div class="c a B" style="left:591px;top:1174px;width:44px;height:33px;line-height:40.2px;background:#f4d9ce">+</div>
<div class="c a s" style="left:635px;top:1174px;width:44px;height:33px;line-height:37.5px;background:#ffffff">−</div>
<div class="c a s" style="left:679px;top:1174px;width:44px;height:33px;line-height:37.5px;background:#fbfafe">−</div>
<div class="c a B" style="left:723px;top:1174px;width:44px;height:33px;line-height:40.2px;background:#f6f4fd">−</div>
<div class="c a s" style="left:767px;top:1174px;width:44px;height:33px;line-height:37.5px;background:#fefdfc">+</div>
<div class="yl ya" style="left:-75.6px;top:1211.3px">C_501</div>
<div class="c a B" style="left:239px;top:1207px;width:44px;height:34px;line-height:40.2px;background:#efebfc">−</div>
<div class="c a B" style="left:283px;top:1207px;width:44px;height:34px;line-height:40.2px;background:#f2effc">−</div>
<div class="c a B" style="left:327px;top:1207px;width:44px;height:34px;line-height:40.2px;background:#f4f2fc">−</div>
<div class="c a B" style="left:371px;top:1207px;width:44px;height:34px;line-height:40.2px;background:#ebe4fc">−</div>
<div class="c a B" style="left:415px;top:1207px;width:44px;height:34px;line-height:40.2px;background:#f2effc">−</div>
<div class="c a B" style="left:459px;top:1207px;width:44px;height:34px;line-height:40.2px;background:#f2effc">−</div>
<div class="c a B" style="left:503px;top:1207px;width:44px;height:34px;line-height:40.2px;background:#f2effc">−</div>
<div class="c a B" style="left:547px;top:1207px;width:44px;height:34px;line-height:40.2px;background:#f2effc">−</div>
<div class="c a B" style="left:591px;top:1207px;width:44px;height:34px;line-height:40.2px;background:#f5dfd6">+</div>
<div class="c a B" style="left:635px;top:1207px;width:44px;height:34px;line-height:40.2px;background:#f4f2fc">−</div>
<div class="c a s" style="left:679px;top:1207px;width:44px;height:34px;line-height:37.5px;background:#ffffff">−</div>
<div class="c a s" style="left:723px;top:1207px;width:44px;height:34px;line-height:37.5px;background:#ffffff">+</div>
<div class="c a s" style="left:767px;top:1207px;width:44px;height:34px;line-height:37.5px;background:#fdfcfe">−</div>
<div class="yl ya" style="left:-75.6px;top:1244.9px">C_1601</div>
<div class="c a B" style="left:239px;top:1241px;width:44px;height:33px;line-height:40.2px;background:#f8eae4">+</div>
<div class="c a B" style="left:283px;top:1241px;width:44px;height:33px;line-height:40.2px;background:#fbf2ef">+</div>
<div class="c a B" style="left:327px;top:1241px;width:44px;height:33px;line-height:40.2px;background:#fbf2ef">+</div>
<div class="c a B" style="left:371px;top:1241px;width:44px;height:33px;line-height:40.2px;background:#f3cdbf">+</div>
<div class="c a B" style="left:415px;top:1241px;width:44px;height:33px;line-height:40.2px;background:#f8eae4">+</div>
<div class="c a B" style="left:459px;top:1241px;width:44px;height:33px;line-height:40.2px;background:#f8eae4">+</div>
<div class="c a B" style="left:503px;top:1241px;width:44px;height:33px;line-height:40.2px;background:#f8eae4">+</div>
<div class="c a B" style="left:547px;top:1241px;width:44px;height:33px;line-height:40.2px;background:#f8eae4">+</div>
<div class="c a B" style="left:591px;top:1241px;width:44px;height:33px;line-height:40.2px;background:#fbf4f1">+</div>
<div class="c a B" style="left:635px;top:1241px;width:44px;height:33px;line-height:40.2px;background:#f6f4fd">−</div>
<div class="c a B" style="left:679px;top:1241px;width:44px;height:33px;line-height:40.2px;background:#f5dfd6">+</div>
<div class="c a s" style="left:723px;top:1241px;width:44px;height:33px;line-height:37.5px;background:#ffffff">−</div>
<div class="c a B" style="left:767px;top:1241px;width:44px;height:33px;line-height:40.2px;background:#fdfaf8">+</div>
<div class="yl ya" style="left:-75.6px;top:1278.5px">C_1202</div>
<div class="c a B" style="left:239px;top:1274px;width:44px;height:34px;line-height:40.2px;background:#b792fd">−</div>
<div class="c a B" style="left:283px;top:1274px;width:44px;height:34px;line-height:40.2px;background:#bf9dfd">−</div>
<div class="c a B" style="left:327px;top:1274px;width:44px;height:34px;line-height:40.2px;background:#c8a9fd">−</div>
<div class="c a B" style="left:371px;top:1274px;width:44px;height:34px;line-height:40.2px;background:#af85fd">−</div>
<div class="c a B" style="left:415px;top:1274px;width:44px;height:34px;line-height:40.2px;background:#bf9dfd">−</div>
<div class="c a B" style="left:459px;top:1274px;width:44px;height:34px;line-height:40.2px;background:#bf9dfd">−</div>
<div class="c a B" style="left:503px;top:1274px;width:44px;height:34px;line-height:40.2px;background:#c3a3fd">−</div>
<div class="c a B" style="left:547px;top:1274px;width:44px;height:34px;line-height:40.2px;background:#b38bfd">−</div>
<div class="c a s" style="left:591px;top:1274px;width:44px;height:34px;line-height:37.5px;background:#fefbf9">+</div>
<div class="c a B" style="left:635px;top:1274px;width:44px;height:34px;line-height:40.2px;background:#e6ddfc">−</div>
<div class="c a B" style="left:679px;top:1274px;width:44px;height:34px;line-height:40.2px;background:#e6ddfc">−</div>
<div class="c a s" style="left:723px;top:1274px;width:44px;height:34px;line-height:37.5px;background:#f4f2fc">−</div>
<div class="c a s" style="left:767px;top:1274px;width:44px;height:34px;line-height:37.5px;background:#f4f2fc">−</div>
<div class="yl ya" style="left:-75.6px;top:1312.1px">C_102</div>
<div class="c a B" style="left:239px;top:1308px;width:44px;height:33px;line-height:40.2px;background:#f6f4fd">−</div>
<div class="c a s" style="left:283px;top:1308px;width:44px;height:33px;line-height:37.5px;background:#f9f8fe">−</div>
<div class="c a B" style="left:327px;top:1308px;width:44px;height:33px;line-height:40.2px;background:#f6f4fd">−</div>
<div class="c a B" style="left:371px;top:1308px;width:44px;height:33px;line-height:40.2px;background:#f2effc">−</div>
<div class="c a B" style="left:415px;top:1308px;width:44px;height:33px;line-height:40.2px;background:#f6f4fd">−</div>
<div class="c a B" style="left:459px;top:1308px;width:44px;height:33px;line-height:40.2px;background:#f6f4fd">−</div>
<div class="c a B" style="left:503px;top:1308px;width:44px;height:33px;line-height:40.2px;background:#f6f4fd">−</div>
<div class="c a B" style="left:547px;top:1308px;width:44px;height:33px;line-height:40.2px;background:#f6f4fd">−</div>
<div class="c a B" style="left:591px;top:1308px;width:44px;height:33px;line-height:40.2px;background:#f2c1b1">+</div>
<div class="c a s" style="left:635px;top:1308px;width:44px;height:33px;line-height:37.5px;background:#ffffff">+</div>
<div class="c a s" style="left:679px;top:1308px;width:44px;height:33px;line-height:37.5px;background:#fbfafe">−</div>
<div class="c a s" style="left:723px;top:1308px;width:44px;height:33px;line-height:37.5px;background:#fdfaf8">+</div>
<div class="c a s" style="left:767px;top:1308px;width:44px;height:33px;line-height:37.5px;background:#fefcfb">+</div>
<div class="yl ya" style="left:-75.6px;top:1345.7px">B_801</div>
<div class="c a B" style="left:239px;top:1341px;width:44px;height:34px;line-height:40.2px;background:#e2d7fc">−</div>
<div class="c a B" style="left:283px;top:1341px;width:44px;height:34px;line-height:40.2px;background:#ebe4fc">−</div>
<div class="c a B" style="left:327px;top:1341px;width:44px;height:34px;line-height:40.2px;background:#e6ddfc">−</div>
<div class="c a B" style="left:371px;top:1341px;width:44px;height:34px;line-height:40.2px;background:#dbc9fd">−</div>
<div class="c a B" style="left:415px;top:1341px;width:44px;height:34px;line-height:40.2px;background:#e2d7fc">−</div>
<div class="c a B" style="left:459px;top:1341px;width:44px;height:34px;line-height:40.2px;background:#e4d9fc">−</div>
<div class="c a B" style="left:503px;top:1341px;width:44px;height:34px;line-height:40.2px;background:#e4d9fc">−</div>
<div class="c a B" style="left:547px;top:1341px;width:44px;height:34px;line-height:40.2px;background:#e2d7fc">−</div>
<div class="c a B" style="left:591px;top:1341px;width:44px;height:34px;line-height:40.2px;background:#f2c7b8">+</div>
<div class="c a B" style="left:635px;top:1341px;width:44px;height:34px;line-height:40.2px;background:#efebfc">−</div>
<div class="c a B" style="left:679px;top:1341px;width:44px;height:34px;line-height:40.2px;background:#efebfc">−</div>
<div class="c a B" style="left:723px;top:1341px;width:44px;height:34px;line-height:40.2px;background:#efebfc">−</div>
<div class="c a B" style="left:767px;top:1341px;width:44px;height:34px;line-height:40.2px;background:#efebfc">−</div>
<div class="yl ya" style="left:-75.6px;top:1379.3px">B_5701</div>
<div class="c a B" style="left:239px;top:1375px;width:44px;height:34px;line-height:40.2px;background:#f9f7fd">−</div>
<div class="c a B" style="left:283px;top:1375px;width:44px;height:34px;line-height:40.2px;background:#f9f7fd">−</div>
<div class="c a s" style="left:327px;top:1375px;width:44px;height:34px;line-height:37.5px;background:#ffffff">−</div>
<div class="c a B" style="left:371px;top:1375px;width:44px;height:34px;line-height:40.2px;background:#f6f4fd">−</div>
<div class="c a B" style="left:415px;top:1375px;width:44px;height:34px;line-height:40.2px;background:#f9f8fe">−</div>
<div class="c a B" style="left:459px;top:1375px;width:44px;height:34px;line-height:40.2px;background:#f9f7fd">−</div>
<div class="c a B" style="left:503px;top:1375px;width:44px;height:34px;line-height:40.2px;background:#f6f4fd">−</div>
<div class="c a s" style="left:547px;top:1375px;width:44px;height:34px;line-height:37.5px;background:#ffffff">−</div>
<div class="c a B" style="left:591px;top:1375px;width:44px;height:34px;line-height:40.2px;background:#dbc9fd">−</div>
<div class="c a B" style="left:635px;top:1375px;width:44px;height:34px;line-height:40.2px;background:#f4f2fc">−</div>
<div class="c a s" style="left:679px;top:1375px;width:44px;height:34px;line-height:37.5px;background:#fdf9f7">+</div>
<div class="c a s" style="left:723px;top:1375px;width:44px;height:34px;line-height:37.5px;background:#fdfcfe">−</div>
<div class="c a s" style="left:767px;top:1375px;width:44px;height:34px;line-height:37.5px;background:#fefdfc">+</div>
<div class="yl ya" style="left:-75.6px;top:1412.9px">B_5501</div>
<div class="c a B" style="left:239px;top:1409px;width:44px;height:33px;line-height:40.2px;background:#dbc9fd">−</div>
<div class="c a B" style="left:283px;top:1409px;width:44px;height:33px;line-height:40.2px;background:#e2d7fc">−</div>
<div class="c a B" style="left:327px;top:1409px;width:44px;height:33px;line-height:40.2px;background:#e2d7fc">−</div>
<div class="c a B" style="left:371px;top:1409px;width:44px;height:33px;line-height:40.2px;background:#d3bbfd">−</div>
<div class="c a B" style="left:415px;top:1409px;width:44px;height:33px;line-height:40.2px;background:#dccbfc">−</div>
<div class="c a B" style="left:459px;top:1409px;width:44px;height:33px;line-height:40.2px;background:#dccbfc">−</div>
<div class="c a B" style="left:503px;top:1409px;width:44px;height:33px;line-height:40.2px;background:#dccbfc">−</div>
<div class="c a B" style="left:547px;top:1409px;width:44px;height:33px;line-height:40.2px;background:#dbc9fd">−</div>
<div class="c a B" style="left:591px;top:1409px;width:44px;height:33px;line-height:40.2px;background:#d3bbfd">−</div>
<div class="c a s" style="left:635px;top:1409px;width:44px;height:33px;line-height:37.5px;background:#f9f8fe">−</div>
<div class="c a s" style="left:679px;top:1409px;width:44px;height:33px;line-height:37.5px;background:#ffffff">+</div>
<div class="c a B" style="left:723px;top:1409px;width:44px;height:33px;line-height:40.2px;background:#ebe4fc">−</div>
<div class="c a s" style="left:767px;top:1409px;width:44px;height:33px;line-height:37.5px;background:#fefbf9">+</div>
<div class="yl ya" style="left:-75.6px;top:1446.4px">B_5101</div>
<div class="c a B" style="left:239px;top:1442px;width:44px;height:34px;line-height:40.2px;background:#f4d9ce">+</div>
<div class="c a B" style="left:283px;top:1442px;width:44px;height:34px;line-height:40.2px;background:#f5dfd6">+</div>
<div class="c a B" style="left:327px;top:1442px;width:44px;height:34px;line-height:40.2px;background:#f5dfd6">+</div>
<div class="c a B" style="left:371px;top:1442px;width:44px;height:34px;line-height:40.2px;background:#f2bba9">+</div>
<div class="c a B" style="left:415px;top:1442px;width:44px;height:34px;line-height:40.2px;background:#f4d9ce">+</div>
<div class="c a B" style="left:459px;top:1442px;width:44px;height:34px;line-height:40.2px;background:#f4d9ce">+</div>
<div class="c a B" style="left:503px;top:1442px;width:44px;height:34px;line-height:40.2px;background:#f4d9ce">+</div>
<div class="c a B" style="left:547px;top:1442px;width:44px;height:34px;line-height:40.2px;background:#f4d9ce">+</div>
<div class="c a B" style="left:591px;top:1442px;width:44px;height:34px;line-height:40.2px;background:#f5dfd6">+</div>
<div class="c a B" style="left:635px;top:1442px;width:44px;height:34px;line-height:40.2px;background:#faefea">+</div>
<div class="c a s" style="left:679px;top:1442px;width:44px;height:34px;line-height:37.5px;background:#fefdfc">+</div>
<div class="c a B" style="left:723px;top:1442px;width:44px;height:34px;line-height:40.2px;background:#fbf2ef">+</div>
<div class="c a s" style="left:767px;top:1442px;width:44px;height:34px;line-height:37.5px;background:#fefbf9">+</div>
<div class="yl ya" style="left:-75.6px;top:1480.0px">B_4001</div>
<div class="c a B" style="left:239px;top:1476px;width:44px;height:33px;line-height:40.2px;background:#f8eae4">+</div>
<div class="c a B" style="left:283px;top:1476px;width:44px;height:33px;line-height:40.2px;background:#fbf4f1">+</div>
<div class="c a B" style="left:327px;top:1476px;width:44px;height:33px;line-height:40.2px;background:#f8eae4">+</div>
<div class="c a B" style="left:371px;top:1476px;width:44px;height:33px;line-height:40.2px;background:#f5dfd6">+</div>
<div class="c a B" style="left:415px;top:1476px;width:44px;height:33px;line-height:40.2px;background:#f8eae4">+</div>
<div class="c a B" style="left:459px;top:1476px;width:44px;height:33px;line-height:40.2px;background:#f9ece6">+</div>
<div class="c a B" style="left:503px;top:1476px;width:44px;height:33px;line-height:40.2px;background:#f8eae4">+</div>
<div class="c a B" style="left:547px;top:1476px;width:44px;height:33px;line-height:40.2px;background:#f8eae4">+</div>
<div class="c a B" style="left:591px;top:1476px;width:44px;height:33px;line-height:40.2px;background:#fefcfb">+</div>
<div class="c a s" style="left:635px;top:1476px;width:44px;height:33px;line-height:37.5px;background:#ffffff">+</div>
<div class="c a B" style="left:679px;top:1476px;width:44px;height:33px;line-height:40.2px;background:#fbf4f1">+</div>
<div class="c a s" style="left:723px;top:1476px;width:44px;height:33px;line-height:37.5px;background:#ffffff">−</div>
<div class="c a s" style="left:767px;top:1476px;width:44px;height:33px;line-height:37.5px;background:#fefdfc">+</div>
<div class="yl ya" style="left:-75.6px;top:1513.6px">B_3701</div>
<div class="c a B" style="left:239px;top:1509px;width:44px;height:34px;line-height:40.2px;background:#f2c1b1">+</div>
<div class="c a B" style="left:283px;top:1509px;width:44px;height:34px;line-height:40.2px;background:#f4d9ce">+</div>
<div class="c a B" style="left:327px;top:1509px;width:44px;height:34px;line-height:40.2px;background:#f4d9ce">+</div>
<div class="c a B" style="left:371px;top:1509px;width:44px;height:34px;line-height:40.2px;background:#f0987f">+</div>
<div class="c a B" style="left:415px;top:1509px;width:44px;height:34px;line-height:40.2px;background:#f2c7b8">+</div>
<div class="c a B" style="left:459px;top:1509px;width:44px;height:34px;line-height:40.2px;background:#f2c7b8">+</div>
<div class="c a B" style="left:503px;top:1509px;width:44px;height:34px;line-height:40.2px;background:#f2c7b8">+</div>
<div class="c a B" style="left:547px;top:1509px;width:44px;height:34px;line-height:40.2px;background:#f2c7b8">+</div>
<div class="c a B" style="left:591px;top:1509px;width:44px;height:34px;line-height:40.2px;background:#e2d7fc">−</div>
<div class="c a s" style="left:635px;top:1509px;width:44px;height:34px;line-height:37.5px;background:#fbf4f1">+</div>
<div class="c a s" style="left:679px;top:1509px;width:44px;height:34px;line-height:37.5px;background:#f9f8fe">−</div>
<div class="c a B" style="left:723px;top:1509px;width:44px;height:34px;line-height:40.2px;background:#faefea">+</div>
<div class="c a B" style="left:767px;top:1509px;width:44px;height:34px;line-height:40.2px;background:#f9ece6">+</div>
<div class="yl ya" style="left:-75.6px;top:1547.2px">B_3508</div>
<div class="c a B" style="left:239px;top:1543px;width:44px;height:34px;line-height:40.2px;background:#c3a3fd">−</div>
<div class="c a B" style="left:283px;top:1543px;width:44px;height:34px;line-height:40.2px;background:#d3bbfd">−</div>
<div class="c a B" style="left:327px;top:1543px;width:44px;height:34px;line-height:40.2px;background:#cfb5fd">−</div>
<div class="c a B" style="left:371px;top:1543px;width:44px;height:34px;line-height:40.2px;background:#b792fd">−</div>
<div class="c a B" style="left:415px;top:1543px;width:44px;height:34px;line-height:40.2px;background:#c8a9fd">−</div>
<div class="c a B" style="left:459px;top:1543px;width:44px;height:34px;line-height:40.2px;background:#c8a9fd">−</div>
<div class="c a B" style="left:503px;top:1543px;width:44px;height:34px;line-height:40.2px;background:#c8a9fd">−</div>
<div class="c a B" style="left:547px;top:1543px;width:44px;height:34px;line-height:40.2px;background:#c8a9fd">−</div>
<div class="c a B" style="left:591px;top:1543px;width:44px;height:34px;line-height:40.2px;background:#e2d7fc">−</div>
<div class="c a" style="left:635px;top:1543px;width:44px;height:34px;background:#e4e5e4"></div>
<div class="c a" style="left:679px;top:1543px;width:44px;height:34px;background:#e4e5e4"></div>
<div class="c a" style="left:723px;top:1543px;width:44px;height:34px;background:#e4e5e4"></div>
<div class="c a" style="left:767px;top:1543px;width:44px;height:34px;background:#e4e5e4"></div>
<div class="yl ya" style="left:-75.6px;top:1580.8px">B_3503</div>
<div class="c a B" style="left:239px;top:1577px;width:44px;height:33px;line-height:40.2px;background:#f1b6a2">+</div>
<div class="c a B" style="left:283px;top:1577px;width:44px;height:33px;line-height:40.2px;background:#f4d9ce">+</div>
<div class="c a B" style="left:327px;top:1577px;width:44px;height:33px;line-height:40.2px;background:#f2c1b1">+</div>
<div class="c a B" style="left:371px;top:1577px;width:44px;height:33px;line-height:40.2px;background:#f08c71">+</div>
<div class="c a B" style="left:415px;top:1577px;width:44px;height:33px;line-height:40.2px;background:#f1b6a2">+</div>
<div class="c a B" style="left:459px;top:1577px;width:44px;height:33px;line-height:40.2px;background:#f1b6a2">+</div>
<div class="c a B" style="left:503px;top:1577px;width:44px;height:33px;line-height:40.2px;background:#f1b6a2">+</div>
<div class="c a B" style="left:547px;top:1577px;width:44px;height:33px;line-height:40.2px;background:#f1b6a2">+</div>
<div class="c a B" style="left:591px;top:1577px;width:44px;height:33px;line-height:40.2px;background:#d7c1fd">−</div>
<div class="c a s" style="left:635px;top:1577px;width:44px;height:33px;line-height:37.5px;background:#fdfaf8">+</div>
<div class="c a s" style="left:679px;top:1577px;width:44px;height:33px;line-height:37.5px;background:#fdfaf8">+</div>
<div class="c a B" style="left:723px;top:1577px;width:44px;height:33px;line-height:40.2px;background:#f8eae4">+</div>
<div class="c a s" style="left:767px;top:1577px;width:44px;height:33px;line-height:37.5px;background:#fcf7f4">+</div>
<div class="yl ya" style="left:-75.6px;top:1614.4px">B_3502</div>
<div class="c a B" style="left:239px;top:1610px;width:44px;height:34px;line-height:40.2px;background:#bc97fd">−</div>
<div class="c a B" style="left:283px;top:1610px;width:44px;height:34px;line-height:40.2px;background:#c3a3fd">−</div>
<div class="c a B" style="left:327px;top:1610px;width:44px;height:34px;line-height:40.2px;background:#cbaffd">−</div>
<div class="c a B" style="left:371px;top:1610px;width:44px;height:34px;line-height:40.2px;background:#af85fd">−</div>
<div class="c a B" style="left:415px;top:1610px;width:44px;height:34px;line-height:40.2px;background:#bf9dfd">−</div>
<div class="c a B" style="left:459px;top:1610px;width:44px;height:34px;line-height:40.2px;background:#bf9dfd">−</div>
<div class="c a B" style="left:503px;top:1610px;width:44px;height:34px;line-height:40.2px;background:#c8a9fd">−</div>
<div class="c a B" style="left:547px;top:1610px;width:44px;height:34px;line-height:40.2px;background:#b792fd">−</div>
<div class="c a B" style="left:591px;top:1610px;width:44px;height:34px;line-height:40.2px;background:#cbaffd">−</div>
<div class="c a" style="left:635px;top:1610px;width:44px;height:34px;background:#e4e5e4"></div>
<div class="c a" style="left:679px;top:1610px;width:44px;height:34px;background:#e4e5e4"></div>
<div class="c a" style="left:723px;top:1610px;width:44px;height:34px;background:#e4e5e4"></div>
<div class="c a" style="left:767px;top:1610px;width:44px;height:34px;background:#e4e5e4"></div>
<div class="yl ya" style="left:-75.6px;top:1648.0px">B_3501</div>
<div class="c a B" style="left:239px;top:1644px;width:44px;height:33px;line-height:40.2px;background:#dbc9fd">−</div>
<div class="c a B" style="left:283px;top:1644px;width:44px;height:33px;line-height:40.2px;background:#dbc9fd">−</div>
<div class="c a B" style="left:327px;top:1644px;width:44px;height:33px;line-height:40.2px;background:#e2d7fc">−</div>
<div class="c a B" style="left:371px;top:1644px;width:44px;height:33px;line-height:40.2px;background:#cbaffd">−</div>
<div class="c a B" style="left:415px;top:1644px;width:44px;height:33px;line-height:40.2px;background:#dbc9fd">−</div>
<div class="c a B" style="left:459px;top:1644px;width:44px;height:33px;line-height:40.2px;background:#dbc9fd">−</div>
<div class="c a B" style="left:503px;top:1644px;width:44px;height:33px;line-height:40.2px;background:#dbc9fd">−</div>
<div class="c a B" style="left:547px;top:1644px;width:44px;height:33px;line-height:40.2px;background:#dbc9fd">−</div>
<div class="c a B" style="left:591px;top:1644px;width:44px;height:33px;line-height:40.2px;background:#ebe4fc">−</div>
<div class="c a s" style="left:635px;top:1644px;width:44px;height:33px;line-height:37.5px;background:#ffffff">−</div>
<div class="c a B" style="left:679px;top:1644px;width:44px;height:33px;line-height:40.2px;background:#f6f4fd">−</div>
<div class="c a B" style="left:723px;top:1644px;width:44px;height:33px;line-height:40.2px;background:#f2effc">−</div>
<div class="c a s" style="left:767px;top:1644px;width:44px;height:33px;line-height:37.5px;background:#ffffff">−</div>
<div class="yl ya" style="left:-75.6px;top:1681.6px">B_1801</div>
<div class="c a s" style="left:239px;top:1677px;width:44px;height:34px;line-height:37.5px;background:#ffffff">−</div>
<div class="c a s" style="left:283px;top:1677px;width:44px;height:34px;line-height:37.5px;background:#fefdfc">+</div>
<div class="c a s" style="left:327px;top:1677px;width:44px;height:34px;line-height:37.5px;background:#ffffff">−</div>
<div class="c a s" style="left:371px;top:1677px;width:44px;height:34px;line-height:37.5px;background:#ffffff">−</div>
<div class="c a s" style="left:415px;top:1677px;width:44px;height:34px;line-height:37.5px;background:#ffffff">−</div>
<div class="c a s" style="left:459px;top:1677px;width:44px;height:34px;line-height:37.5px;background:#ffffff">−</div>
<div class="c a s" style="left:503px;top:1677px;width:44px;height:34px;line-height:37.5px;background:#fefdfc">+</div>
<div class="c a s" style="left:547px;top:1677px;width:44px;height:34px;line-height:37.5px;background:#fdfcfe">−</div>
<div class="c a B" style="left:591px;top:1677px;width:44px;height:34px;line-height:40.2px;background:#ebe4fc">−</div>
<div class="c a s" style="left:635px;top:1677px;width:44px;height:34px;line-height:37.5px;background:#fefdfc">+</div>
<div class="c a s" style="left:679px;top:1677px;width:44px;height:34px;line-height:37.5px;background:#ffffff">−</div>
<div class="c a s" style="left:723px;top:1677px;width:44px;height:34px;line-height:37.5px;background:#ffffff">+</div>
<div class="c a s" style="left:767px;top:1677px;width:44px;height:34px;line-height:37.5px;background:#fefbf9">+</div>
<div class="yl ya" style="left:-75.6px;top:1715.2px">B_1517</div>
<div class="c a B" style="left:239px;top:1711px;width:44px;height:34px;line-height:40.2px;background:#e2d7fc">−</div>
<div class="c a s" style="left:283px;top:1711px;width:44px;height:34px;line-height:37.5px;background:#efebfc">−</div>
<div class="c a B" style="left:327px;top:1711px;width:44px;height:34px;line-height:40.2px;background:#ebe4fc">−</div>
<div class="c a B" style="left:371px;top:1711px;width:44px;height:34px;line-height:40.2px;background:#d7c1fd">−</div>
<div class="c a B" style="left:415px;top:1711px;width:44px;height:34px;line-height:40.2px;background:#e2d7fc">−</div>
<div class="c a B" style="left:459px;top:1711px;width:44px;height:34px;line-height:40.2px;background:#e6ddfc">−</div>
<div class="c a B" style="left:503px;top:1711px;width:44px;height:34px;line-height:40.2px;background:#e2d7fc">−</div>
<div class="c a B" style="left:547px;top:1711px;width:44px;height:34px;line-height:40.2px;background:#eae1fc">−</div>
<div class="c a B" style="left:591px;top:1711px;width:44px;height:34px;line-height:40.2px;background:#f4d3c7">+</div>
<div class="c a" style="left:635px;top:1711px;width:44px;height:34px;background:#e4e5e4"></div>
<div class="c a" style="left:679px;top:1711px;width:44px;height:34px;background:#e4e5e4"></div>
<div class="c a" style="left:723px;top:1711px;width:44px;height:34px;background:#e4e5e4"></div>
<div class="c a" style="left:767px;top:1711px;width:44px;height:34px;background:#e4e5e4"></div>
<div class="yl ya" style="left:-75.6px;top:1748.8px">B_1501</div>
<div class="c a B" style="left:239px;top:1745px;width:44px;height:33px;line-height:40.2px;background:#f4f2fc">−</div>
<div class="c a B" style="left:283px;top:1745px;width:44px;height:33px;line-height:40.2px;background:#f2effc">−</div>
<div class="c a s" style="left:327px;top:1745px;width:44px;height:33px;line-height:37.5px;background:#ffffff">−</div>
<div class="c a B" style="left:371px;top:1745px;width:44px;height:33px;line-height:40.2px;background:#ebe4fc">−</div>
<div class="c a B" style="left:415px;top:1745px;width:44px;height:33px;line-height:40.2px;background:#f4f2fc">−</div>
<div class="c a B" style="left:459px;top:1745px;width:44px;height:33px;line-height:40.2px;background:#f4f2fc">−</div>
<div class="c a B" style="left:503px;top:1745px;width:44px;height:33px;line-height:40.2px;background:#f4f2fc">−</div>
<div class="c a B" style="left:547px;top:1745px;width:44px;height:33px;line-height:40.2px;background:#f2effc">−</div>
<div class="c a B" style="left:591px;top:1745px;width:44px;height:33px;line-height:40.2px;background:#ebe4fc">−</div>
<div class="c a s" style="left:635px;top:1745px;width:44px;height:33px;line-height:37.5px;background:#fdfaf8">+</div>
<div class="c a s" style="left:679px;top:1745px;width:44px;height:33px;line-height:37.5px;background:#ffffff">+</div>
<div class="c a B" style="left:723px;top:1745px;width:44px;height:33px;line-height:40.2px;background:#f4f2fc">−</div>
<div class="c a s" style="left:767px;top:1745px;width:44px;height:33px;line-height:37.5px;background:#ffffff">+</div>
<div class="yl ya" style="left:-75.6px;top:1782.3px">B_1402</div>
<div class="c a B" style="left:239px;top:1778px;width:44px;height:34px;line-height:40.2px;background:#bf9dfd">−</div>
<div class="c a B" style="left:283px;top:1778px;width:44px;height:34px;line-height:40.2px;background:#cfb5fd">−</div>
<div class="c a B" style="left:327px;top:1778px;width:44px;height:34px;line-height:40.2px;background:#cfb5fd">−</div>
<div class="c a B" style="left:371px;top:1778px;width:44px;height:34px;line-height:40.2px;background:#bc97fd">−</div>
<div class="c a B" style="left:415px;top:1778px;width:44px;height:34px;line-height:40.2px;background:#c8a9fd">−</div>
<div class="c a B" style="left:459px;top:1778px;width:44px;height:34px;line-height:40.2px;background:#cbaffd">−</div>
<div class="c a B" style="left:503px;top:1778px;width:44px;height:34px;line-height:40.2px;background:#cbaffd">−</div>
<div class="c a B" style="left:547px;top:1778px;width:44px;height:34px;line-height:40.2px;background:#c3a3fd">−</div>
<div class="c a B" style="left:591px;top:1778px;width:44px;height:34px;line-height:40.2px;background:#f2c1b1">+</div>
<div class="c a s" style="left:635px;top:1778px;width:44px;height:34px;line-height:37.5px;background:#ffffff">+</div>
<div class="c a B" style="left:679px;top:1778px;width:44px;height:34px;line-height:40.2px;background:#ebe4fc">−</div>
<div class="c a B" style="left:723px;top:1778px;width:44px;height:34px;line-height:40.2px;background:#efebfc">−</div>
<div class="c a s" style="left:767px;top:1778px;width:44px;height:34px;line-height:37.5px;background:#f9f8fe">−</div>
<div class="yl ya" style="left:-75.6px;top:1815.9px">A_301</div>
<div class="c a B" style="left:239px;top:1812px;width:44px;height:33px;line-height:40.2px;background:#f8eae4">+</div>
<div class="c a B" style="left:283px;top:1812px;width:44px;height:33px;line-height:40.2px;background:#fbf2ef">+</div>
<div class="c a B" style="left:327px;top:1812px;width:44px;height:33px;line-height:40.2px;background:#fbf2ef">+</div>
<div class="c a B" style="left:371px;top:1812px;width:44px;height:33px;line-height:40.2px;background:#f4d9ce">+</div>
<div class="c a B" style="left:415px;top:1812px;width:44px;height:33px;line-height:40.2px;background:#f8eae4">+</div>
<div class="c a B" style="left:459px;top:1812px;width:44px;height:33px;line-height:40.2px;background:#f8eae4">+</div>
<div class="c a B" style="left:503px;top:1812px;width:44px;height:33px;line-height:40.2px;background:#f8eae4">+</div>
<div class="c a B" style="left:547px;top:1812px;width:44px;height:33px;line-height:40.2px;background:#f8eae4">+</div>
<div class="c a B" style="left:591px;top:1812px;width:44px;height:33px;line-height:40.2px;background:#f2effc">−</div>
<div class="c a B" style="left:635px;top:1812px;width:44px;height:33px;line-height:40.2px;background:#fcf7f4">+</div>
<div class="c a B" style="left:679px;top:1812px;width:44px;height:33px;line-height:40.2px;background:#fcf7f4">+</div>
<div class="c a B" style="left:723px;top:1812px;width:44px;height:33px;line-height:40.2px;background:#fefbf9">+</div>
<div class="c a B" style="left:767px;top:1812px;width:44px;height:33px;line-height:40.2px;background:#fbf4f1">+</div>
<div class="yl ya" style="left:-75.6px;top:1849.5px">A_201</div>
<div class="c a B" style="left:239px;top:1845px;width:44px;height:34px;line-height:40.2px;background:#e2d7fc">−</div>
<div class="c a B" style="left:283px;top:1845px;width:44px;height:34px;line-height:40.2px;background:#decffc">−</div>
<div class="c a B" style="left:327px;top:1845px;width:44px;height:34px;line-height:40.2px;background:#ede7fc">−</div>
<div class="c a B" style="left:371px;top:1845px;width:44px;height:34px;line-height:40.2px;background:#cbaffd">−</div>
<div class="c a B" style="left:415px;top:1845px;width:44px;height:34px;line-height:40.2px;background:#e2d7fc">−</div>
<div class="c a B" style="left:459px;top:1845px;width:44px;height:34px;line-height:40.2px;background:#e4d9fc">−</div>
<div class="c a B" style="left:503px;top:1845px;width:44px;height:34px;line-height:40.2px;background:#e2d7fc">−</div>
<div class="c a B" style="left:547px;top:1845px;width:44px;height:34px;line-height:40.2px;background:#e4d9fc">−</div>
<div class="c a B" style="left:591px;top:1845px;width:44px;height:34px;line-height:40.2px;background:#f6e5dd">+</div>
<div class="c a B" style="left:635px;top:1845px;width:44px;height:34px;line-height:40.2px;background:#f9f8fe">−</div>
<div class="c a B" style="left:679px;top:1845px;width:44px;height:34px;line-height:40.2px;background:#f9f8fe">−</div>
<div class="c a s" style="left:723px;top:1845px;width:44px;height:34px;line-height:37.5px;background:#ffffff">−</div>
<div class="c a B" style="left:767px;top:1845px;width:44px;height:34px;line-height:40.2px;background:#f9f7fd">−</div>
<div class="xl" style="left:247.5px;top:2192.8px">0_vs_1_18</div>
<div class="xl" style="left:291.5px;top:2192.8px">1_vs_2_18</div>
<div class="xl" style="left:335.4px;top:2192.8px">0_vs_1</div>
<div class="xl" style="left:379.4px;top:2192.8px">0_vs_2_18</div>
<div class="xl" style="left:423.4px;top:2192.8px">basic</div>
<div class="xl" style="left:467.4px;top:2192.8px">no_blood</div>
<div class="xl" style="left:511.4px;top:2192.8px">female</div>
<div class="xl" style="left:555.4px;top:2192.8px">male</div>
<div class="xl" style="left:599.3px;top:2192.8px">HHV-7</div>
<div class="xl" style="left:643.3px;top:2192.8px">EBNA</div>
<div class="xl" style="left:687.3px;top:2192.8px">ZEBRA</div>
<div class="xl" style="left:731.3px;top:2192.8px">VCA-p18</div>
<div class="xl" style="left:775.2px;top:2192.8px">EA</div>
<div style="position:absolute;left:873.9px;top:378.3px;width:62.8px;height:312.4px;background:linear-gradient(to bottom,#fe2110 2.5%,#fc381d 7.5%,#f84f31 12.5%,#f56242 17.5%,#f37254 22.5%,#f18165 27.5%,#f09076 32.5%,#f1a18a 37.5%,#f1b29e 42.5%,#f2c3b2 47.5%,#f4d3c7 52.5%,#f6e4dc 57.5%,#fbf2ef 62.5%,#fcfcfe 67.5%,#eeeafc 72.5%,#e2d7fc 77.5%,#d8c4fd 82.5%,#cdb2fd 87.5%,#c2a1fd 92.5%,#b790fd 97.5%)"></div>
<i class="t" style="left:873.9px;top:469.2px;width:12.6px"></i>
<i class="t" style="left:924.1px;top:469.2px;width:12.6px"></i>
<div class="ll" style="left:952.8px;top:458.8px">1</div>
<i class="t" style="left:873.9px;top:588.5px;width:12.6px"></i>
<i class="t" style="left:924.1px;top:588.5px;width:12.6px"></i>
<div class="ll" style="left:952.8px;top:578.1px">0</div>
<div class="tt" style="left:873.9px;top:331.5px">beta</div>
<div class="pl" style="left:0px;top:-5.6px">a</div>
<div class="tt" style="left:73.5px;top:-0.5px">HLA-alleles</div>
<i class="g" style="left:1412.1px;top:47px;width:3px;height:903px"></i>
<i class="g" style="left:1444.1px;top:47px;width:3px;height:903px"></i>
<i class="g" style="left:1476.0px;top:47px;width:3px;height:903px"></i>
<i class="g" style="left:1508.0px;top:47px;width:3px;height:903px"></i>
<i class="g" style="left:1540.0px;top:47px;width:3px;height:903px"></i>
<i class="g" style="left:1572.0px;top:47px;width:3px;height:903px"></i>
<i class="g" style="left:1604.0px;top:47px;width:3px;height:903px"></i>
<i class="g" style="left:1635.9px;top:47px;width:3px;height:903px"></i>
<i class="g" style="left:1667.9px;top:47px;width:3px;height:903px"></i>
<i class="g" style="left:1699.9px;top:47px;width:3px;height:903px"></i>
<i class="g" style="left:1731.9px;top:47px;width:3px;height:903px"></i>
<i class="g" style="left:1763.9px;top:47px;width:3px;height:903px"></i>
<i class="g" style="left:1795.8px;top:47px;width:3px;height:903px"></i>
<i class="g" style="left:1827.8px;top:47px;width:3px;height:903px"></i>
<i class="g" style="left:1859.8px;top:47px;width:3px;height:903px"></i>
<i class="g" style="left:1395px;top:65.5px;width:485px;height:3px"></i>
<i class="g" style="left:1395px;top:98.7px;width:485px;height:3px"></i>
<i class="g" style="left:1395px;top:131.9px;width:485px;height:3px"></i>
<i class="g" style="left:1395px;top:165.1px;width:485px;height:3px"></i>
<i class="g" style="left:1395px;top:198.3px;width:485px;height:3px"></i>
<i class="g" style="left:1395px;top:231.5px;width:485px;height:3px"></i>
<i class="g" style="left:1395px;top:264.7px;width:485px;height:3px"></i>
<i class="g" style="left:1395px;top:297.9px;width:485px;height:3px"></i>
<i class="g" style="left:1395px;top:331.1px;width:485px;height:3px"></i>
<i class="g" style="left:1395px;top:364.3px;width:485px;height:3px"></i>
<i class="g" style="left:1395px;top:397.5px;width:485px;height:3px"></i>
<i class="g" style="left:1395px;top:430.7px;width:485px;height:3px"></i>
<i class="g" style="left:1395px;top:463.9px;width:485px;height:3px"></i>
<i class="g" style="left:1395px;top:497.1px;width:485px;height:3px"></i>
<i class="g" style="left:1395px;top:530.3px;width:485px;height:3px"></i>
<i class="g" style="left:1395px;top:563.5px;width:485px;height:3px"></i>
<i class="g" style="left:1395px;top:596.7px;width:485px;height:3px"></i>
<i class="g" style="left:1395px;top:629.9px;width:485px;height:3px"></i>
<i class="g" style="left:1395px;top:663.1px;width:485px;height:3px"></i>
<i class="g" style="left:1395px;top:696.3px;width:485px;height:3px"></i>
<i class="g" style="left:1395px;top:729.5px;width:485px;height:3px"></i>
<i class="g" style="left:1395px;top:762.7px;width:485px;height:3px"></i>
<i class="g" style="left:1395px;top:795.9px;width:485px;height:3px"></i>
<i class="g" style="left:1395px;top:829.1px;width:485px;height:3px"></i>
<i class="g" style="left:1395px;top:862.3px;width:485px;height:3px"></i>
<i class="g" style="left:1395px;top:895.5px;width:485px;height:3px"></i>
<i class="g" style="left:1395px;top:928.7px;width:485px;height:3px"></i>
<div class="yl yb" style="left:1082.0px;top:54.4px">1−114377568</div>
<div class="c b B" style="left:1398px;top:50px;width:32px;height:34px;line-height:33.8px;background:#f9efea">+</div>
<div class="c b B" style="left:1430px;top:50px;width:32px;height:34px;line-height:33.8px;background:#f9efea">+</div>
<div class="c b B" style="left:1462px;top:50px;width:32px;height:34px;line-height:33.8px;background:#fcf5f2">+</div>
<div class="c b B" style="left:1494px;top:50px;width:32px;height:34px;line-height:33.8px;background:#f5e1d8">+</div>
<div class="c b B" style="left:1526px;top:50px;width:32px;height:34px;line-height:33.8px;background:#f9efea">+</div>
<div class="c b B" style="left:1558px;top:50px;width:31px;height:34px;line-height:33.8px;background:#f9efea">+</div>
<div class="c b B" style="left:1589px;top:50px;width:32px;height:34px;line-height:33.8px;background:#f9efea">+</div>
<div class="c b B" style="left:1621px;top:50px;width:32px;height:34px;line-height:33.8px;background:#f9efea">+</div>
<div class="c b B" style="left:1653px;top:50px;width:32px;height:34px;line-height:33.8px;background:#f9efea">+</div>
<div class="c b B" style="left:1685px;top:50px;width:32px;height:34px;line-height:33.8px;background:#fdf9f7">+</div>
<div class="c b s" style="left:1717px;top:50px;width:32px;height:34px;line-height:33.5px;background:#f3f0fc">−</div>
<div class="c b s" style="left:1749px;top:50px;width:32px;height:34px;line-height:33.5px;background:#ffffff">−</div>
<div class="c b s" style="left:1781px;top:50px;width:32px;height:34px;line-height:33.5px;background:#ffffff">−</div>
<div class="c b s" style="left:1813px;top:50px;width:32px;height:34px;line-height:33.5px;background:#ffffff">+</div>
<div class="c b s" style="left:1845px;top:50px;width:32px;height:34px;line-height:33.5px;background:#fdf9f7">+</div>
<div class="yl yb" style="left:1082.0px;top:87.6px">1−160711477</div>
<div class="c b B" style="left:1398px;top:84px;width:32px;height:33px;line-height:33.8px;background:#fcf7f5">+</div>
<div class="c b B" style="left:1430px;top:84px;width:32px;height:33px;line-height:33.8px;background:#fefbf9">+</div>
<div class="c b B" style="left:1462px;top:84px;width:32px;height:33px;line-height:33.8px;background:#fdf9f7">+</div>
<div class="c b B" style="left:1494px;top:84px;width:32px;height:33px;line-height:33.8px;background:#fcf5f2">+</div>
<div class="c b B" style="left:1526px;top:84px;width:32px;height:33px;line-height:33.8px;background:#fcf7f5">+</div>
<div class="c b B" style="left:1558px;top:84px;width:31px;height:33px;line-height:33.8px;background:#fcf7f5">+</div>
<div class="c b B" style="left:1589px;top:84px;width:32px;height:33px;line-height:33.8px;background:#fcf7f5">+</div>
<div class="c b B" style="left:1621px;top:84px;width:32px;height:33px;line-height:33.8px;background:#fdf9f7">+</div>
<div class="c b B" style="left:1653px;top:84px;width:32px;height:33px;line-height:33.8px;background:#fcf7f5">+</div>
<div class="c b s" style="left:1685px;top:84px;width:32px;height:33px;line-height:33.5px;background:#fefdfc">+</div>
<div class="c b s" style="left:1717px;top:84px;width:32px;height:33px;line-height:33.5px;background:#ffffff">−</div>
<div class="c b s" style="left:1749px;top:84px;width:32px;height:33px;line-height:33.5px;background:#fefbf9">+</div>
<div class="c b s" style="left:1781px;top:84px;width:32px;height:33px;line-height:33.5px;background:#ffffff">−</div>
<div class="c b B" style="left:1813px;top:84px;width:32px;height:33px;line-height:33.8px;background:#fdf9f7">+</div>
<div class="c b s" style="left:1845px;top:84px;width:32px;height:33px;line-height:33.5px;background:#ffffff">−</div>
<div class="yl yb" style="left:1082.0px;top:120.8px">1−173322660</div>
<div class="c b B" style="left:1398px;top:117px;width:32px;height:33px;line-height:33.8px;background:#f6f5fd">−</div>
<div class="c b s" style="left:1430px;top:117px;width:32px;height:33px;line-height:33.5px;background:#ffffff">−</div>
<div class="c b B" style="left:1462px;top:117px;width:32px;height:33px;line-height:33.8px;background:#f6f5fd">−</div>
<div class="c b B" style="left:1494px;top:117px;width:32px;height:33px;line-height:33.8px;background:#f6f5fd">−</div>
<div class="c b B" style="left:1526px;top:117px;width:32px;height:33px;line-height:33.8px;background:#f6f5fd">−</div>
<div class="c b B" style="left:1558px;top:117px;width:31px;height:33px;line-height:33.8px;background:#f6f5fd">−</div>
<div class="c b B" style="left:1589px;top:117px;width:32px;height:33px;line-height:33.8px;background:#f6f5fd">−</div>
<div class="c b B" style="left:1621px;top:117px;width:32px;height:33px;line-height:33.8px;background:#f6f5fd">−</div>
<div class="c b B" style="left:1653px;top:117px;width:32px;height:33px;line-height:33.8px;background:#f6f5fd">−</div>
<div class="c b s" style="left:1685px;top:117px;width:32px;height:33px;line-height:33.5px;background:#ffffff">−</div>
<div class="c b s" style="left:1717px;top:117px;width:32px;height:33px;line-height:33.5px;background:#f4f2fc">−</div>
<div class="c b s" style="left:1749px;top:117px;width:32px;height:33px;line-height:33.5px;background:#ffffff">−</div>
<div class="c b s" style="left:1781px;top:117px;width:32px;height:33px;line-height:33.5px;background:#f9f7fd">−</div>
<div class="c b s" style="left:1813px;top:117px;width:32px;height:33px;line-height:33.5px;background:#ffffff">−</div>
<div class="c b B" style="left:1845px;top:117px;width:32px;height:33px;line-height:33.8px;background:#f6f5fd">−</div>
<div class="yl yb" style="left:1082.0px;top:154.0px">2−40697617</div>
<div class="c b B" style="left:1398px;top:150px;width:32px;height:33px;line-height:33.8px;background:#f3f0fc">−</div>
<div class="c b B" style="left:1430px;top:150px;width:32px;height:33px;line-height:33.8px;background:#f4f2fc">−</div>
<div class="c b B" style="left:1462px;top:150px;width:32px;height:33px;line-height:33.8px;background:#f4f2fc">−</div>
<div class="c b B" style="left:1494px;top:150px;width:32px;height:33px;line-height:33.8px;background:#f1edfc">−</div>
<div class="c b B" style="left:1526px;top:150px;width:32px;height:33px;line-height:33.8px;background:#f3f0fc">−</div>
<div class="c b B" style="left:1558px;top:150px;width:31px;height:33px;line-height:33.8px;background:#f3f0fc">−</div>
<div class="c b B" style="left:1589px;top:150px;width:32px;height:33px;line-height:33.8px;background:#f3f0fc">−</div>
<div class="c b B" style="left:1621px;top:150px;width:32px;height:33px;line-height:33.8px;background:#f3f0fc">−</div>
<div class="c b B" style="left:1653px;top:150px;width:32px;height:33px;line-height:33.8px;background:#f4f2fc">−</div>
<div class="c b B" style="left:1685px;top:150px;width:32px;height:33px;line-height:33.8px;background:#f3f0fc">−</div>
<div class="c b s" style="left:1717px;top:150px;width:32px;height:33px;line-height:33.5px;background:#fefbf9">+</div>
<div class="c b B" style="left:1749px;top:150px;width:32px;height:33px;line-height:33.8px;background:#fcf7f5">+</div>
<div class="c b s" style="left:1781px;top:150px;width:32px;height:33px;line-height:33.5px;background:#fefbf9">+</div>
<div class="c b s" style="left:1813px;top:150px;width:32px;height:33px;line-height:33.5px;background:#fefbf9">+</div>
<div class="c b s" style="left:1845px;top:150px;width:32px;height:33px;line-height:33.5px;background:#ffffff">+</div>
<div class="yl yb" style="left:1082.0px;top:187.2px">2−112264989</div>
<div class="c b B" style="left:1398px;top:183px;width:32px;height:33px;line-height:33.8px;background:#f6f5fd">−</div>
<div class="c b s" style="left:1430px;top:183px;width:32px;height:33px;line-height:33.5px;background:#fdfcfe">−</div>
<div class="c b B" style="left:1462px;top:183px;width:32px;height:33px;line-height:33.8px;background:#f6f5fd">−</div>
<div class="c b B" style="left:1494px;top:183px;width:32px;height:33px;line-height:33.8px;background:#f6f5fd">−</div>
<div class="c b B" style="left:1526px;top:183px;width:32px;height:33px;line-height:33.8px;background:#f6f5fd">−</div>
<div class="c b B" style="left:1558px;top:183px;width:31px;height:33px;line-height:33.8px;background:#f6f5fd">−</div>
<div class="c b B" style="left:1589px;top:183px;width:32px;height:33px;line-height:33.8px;background:#f6f5fd">−</div>
<div class="c b B" style="left:1621px;top:183px;width:32px;height:33px;line-height:33.8px;background:#f3f0fc">−</div>
<div class="c b B" style="left:1653px;top:183px;width:32px;height:33px;line-height:33.8px;background:#f6f5fd">−</div>
<div class="c b s" style="left:1685px;top:183px;width:32px;height:33px;line-height:33.5px;background:#ffffff">−</div>
<div class="c b s" style="left:1717px;top:183px;width:32px;height:33px;line-height:33.5px;background:#f9f7fd">−</div>
<div class="c b s" style="left:1749px;top:183px;width:32px;height:33px;line-height:33.5px;background:#fdfcfe">−</div>
<div class="c b s" style="left:1781px;top:183px;width:32px;height:33px;line-height:33.5px;background:#ffffff">+</div>
<div class="c b s" style="left:1813px;top:183px;width:32px;height:33px;line-height:33.5px;background:#ffffff">−</div>
<div class="c b s" style="left:1845px;top:183px;width:32px;height:33px;line-height:33.5px;background:#f9f7fd">−</div>
<div class="yl yb" style="left:1082.0px;top:220.4px">2−204732714</div>
<div class="c b B" style="left:1398px;top:216px;width:32px;height:34px;line-height:33.8px;background:#f6f5fd">−</div>
<div class="c b s" style="left:1430px;top:216px;width:32px;height:34px;line-height:33.5px;background:#fdfcfe">−</div>
<div class="c b B" style="left:1462px;top:216px;width:32px;height:34px;line-height:33.8px;background:#f6f5fd">−</div>
<div class="c b B" style="left:1494px;top:216px;width:32px;height:34px;line-height:33.8px;background:#f4f2fc">−</div>
<div class="c b B" style="left:1526px;top:216px;width:32px;height:34px;line-height:33.8px;background:#f6f5fd">−</div>
<div class="c b B" style="left:1558px;top:216px;width:31px;height:34px;line-height:33.8px;background:#f6f5fd">−</div>
<div class="c b B" style="left:1589px;top:216px;width:32px;height:34px;line-height:33.8px;background:#f6f5fd">−</div>
<div class="c b B" style="left:1621px;top:216px;width:32px;height:34px;line-height:33.8px;background:#f6f5fd">−</div>
<div class="c b B" style="left:1653px;top:216px;width:32px;height:34px;line-height:33.8px;background:#f4f2fc">−</div>
<div class="c b B" style="left:1685px;top:216px;width:32px;height:34px;line-height:33.8px;background:#f9f7fd">−</div>
<div class="c b s" style="left:1717px;top:216px;width:32px;height:34px;line-height:33.5px;background:#fefbf9">+</div>
<div class="c b s" style="left:1749px;top:216px;width:32px;height:34px;line-height:33.5px;background:#ffffff">−</div>
<div class="c b s" style="left:1781px;top:216px;width:32px;height:34px;line-height:33.5px;background:#fefbf9">+</div>
<div class="c b s" style="left:1813px;top:216px;width:32px;height:34px;line-height:33.5px;background:#fefbf9">+</div>
<div class="c b s" style="left:1845px;top:216px;width:32px;height:34px;line-height:33.5px;background:#fefbf9">+</div>
<div class="yl yb" style="left:1082.0px;top:253.6px">3−27769551</div>
<div class="c b B" style="left:1398px;top:250px;width:32px;height:33px;line-height:33.8px;background:#f6f5fd">−</div>
<div class="c b B" style="left:1430px;top:250px;width:32px;height:33px;line-height:33.8px;background:#f9f7fd">−</div>
<div class="c b B" style="left:1462px;top:250px;width:32px;height:33px;line-height:33.8px;background:#f9f7fd">−</div>
<div class="c b B" style="left:1494px;top:250px;width:32px;height:33px;line-height:33.8px;background:#f3f0fc">−</div>
<div class="c b B" style="left:1526px;top:250px;width:32px;height:33px;line-height:33.8px;background:#f6f5fd">−</div>
<div class="c b B" style="left:1558px;top:250px;width:31px;height:33px;line-height:33.8px;background:#f6f5fd">−</div>
<div class="c b B" style="left:1589px;top:250px;width:32px;height:33px;line-height:33.8px;background:#f6f5fd">−</div>
<div class="c b B" style="left:1621px;top:250px;width:32px;height:33px;line-height:33.8px;background:#f6f5fd">−</div>
<div class="c b B" style="left:1653px;top:250px;width:32px;height:33px;line-height:33.8px;background:#f6f5fd">−</div>
<div class="c b B" style="left:1685px;top:250px;width:32px;height:33px;line-height:33.8px;background:#f9f7fd">−</div>
<div class="c b s" style="left:1717px;top:250px;width:32px;height:33px;line-height:33.5px;background:#fdfcfe">−</div>
<div class="c b s" style="left:1749px;top:250px;width:32px;height:33px;line-height:33.5px;background:#fbfafe">−</div>
<div class="c b s" style="left:1781px;top:250px;width:32px;height:33px;line-height:33.5px;background:#ffffff">+</div>
<div class="c b s" style="left:1813px;top:250px;width:32px;height:33px;line-height:33.5px;background:#ffffff">+</div>
<div class="c b s" style="left:1845px;top:250px;width:32px;height:33px;line-height:33.5px;background:#fefdfc">+</div>
<div class="yl yb" style="left:1082.0px;top:286.8px">3−28286802</div>
<div class="c b B" style="left:1398px;top:283px;width:32px;height:33px;line-height:33.8px;background:#fcf7f5">+</div>
<div class="c b s" style="left:1430px;top:283px;width:32px;height:33px;line-height:33.5px;background:#fefdfc">+</div>
<div class="c b B" style="left:1462px;top:283px;width:32px;height:33px;line-height:33.8px;background:#fcf7f5">+</div>
<div class="c b B" style="left:1494px;top:283px;width:32px;height:33px;line-height:33.8px;background:#fbf3ef">+</div>
<div class="c b B" style="left:1526px;top:283px;width:32px;height:33px;line-height:33.8px;background:#fcf7f5">+</div>
<div class="c b B" style="left:1558px;top:283px;width:31px;height:33px;line-height:33.8px;background:#fcf7f5">+</div>
<div class="c b B" style="left:1589px;top:283px;width:32px;height:33px;line-height:33.8px;background:#fcf7f5">+</div>
<div class="c b B" style="left:1621px;top:283px;width:32px;height:33px;line-height:33.8px;background:#fcf7f5">+</div>
<div class="c b B" style="left:1653px;top:283px;width:32px;height:33px;line-height:33.8px;background:#fcf5f2">+</div>
<div class="c b B" style="left:1685px;top:283px;width:32px;height:33px;line-height:33.8px;background:#fdf9f7">+</div>
<div class="c b s" style="left:1717px;top:283px;width:32px;height:33px;line-height:33.5px;background:#ffffff">+</div>
<div class="c b s" style="left:1749px;top:283px;width:32px;height:33px;line-height:33.5px;background:#ffffff">+</div>
<div class="c b B" style="left:1781px;top:283px;width:32px;height:33px;line-height:33.8px;background:#fcf5f2">+</div>
<div class="c b B" style="left:1813px;top:283px;width:32px;height:33px;line-height:33.8px;background:#fcf7f5">+</div>
<div class="c b s" style="left:1845px;top:283px;width:32px;height:33px;line-height:33.5px;background:#f9f7fd">−</div>
<div class="yl yb" style="left:1082.0px;top:320.0px">3−46378383</div>
<div class="c b B" style="left:1398px;top:316px;width:32px;height:33px;line-height:33.8px;background:#fdf9f7">+</div>
<div class="c b s" style="left:1430px;top:316px;width:32px;height:33px;line-height:33.5px;background:#fefdfc">+</div>
<div class="c b B" style="left:1462px;top:316px;width:32px;height:33px;line-height:33.8px;background:#fdf9f7">+</div>
<div class="c b B" style="left:1494px;top:316px;width:32px;height:33px;line-height:33.8px;background:#fcf7f5">+</div>
<div class="c b B" style="left:1526px;top:316px;width:32px;height:33px;line-height:33.8px;background:#fdf9f7">+</div>
<div class="c b B" style="left:1558px;top:316px;width:31px;height:33px;line-height:33.8px;background:#fdf9f7">+</div>
<div class="c b B" style="left:1589px;top:316px;width:32px;height:33px;line-height:33.8px;background:#fdf9f7">+</div>
<div class="c b B" style="left:1621px;top:316px;width:32px;height:33px;line-height:33.8px;background:#fdf9f7">+</div>
<div class="c b B" style="left:1653px;top:316px;width:32px;height:33px;line-height:33.8px;background:#fdf9f7">+</div>
<div class="c b s" style="left:1685px;top:316px;width:32px;height:33px;line-height:33.5px;background:#ffffff">−</div>
<div class="c b s" style="left:1717px;top:316px;width:32px;height:33px;line-height:33.5px;background:#f6f5fd">−</div>
<div class="c b s" style="left:1749px;top:316px;width:32px;height:33px;line-height:33.5px;background:#fdfcfe">−</div>
<div class="c b s" style="left:1781px;top:316px;width:32px;height:33px;line-height:33.5px;background:#fbfafe">−</div>
<div class="c b s" style="left:1813px;top:316px;width:32px;height:33px;line-height:33.5px;background:#ffffff">+</div>
<div class="c b s" style="left:1845px;top:316px;width:32px;height:33px;line-height:33.5px;background:#f9f7fd">−</div>
<div class="yl yb" style="left:1082.0px;top:353.2px">3−121763901</div>
<div class="c b B" style="left:1398px;top:349px;width:32px;height:33px;line-height:33.8px;background:#fdf9f7">+</div>
<div class="c b B" style="left:1430px;top:349px;width:32px;height:33px;line-height:33.8px;background:#fdf9f7">+</div>
<div class="c b B" style="left:1462px;top:349px;width:32px;height:33px;line-height:33.8px;background:#fefbf9">+</div>
<div class="c b B" style="left:1494px;top:349px;width:32px;height:33px;line-height:33.8px;background:#fcf7f5">+</div>
<div class="c b B" style="left:1526px;top:349px;width:32px;height:33px;line-height:33.8px;background:#fdf9f7">+</div>
<div class="c b B" style="left:1558px;top:349px;width:31px;height:33px;line-height:33.8px;background:#fdf9f7">+</div>
<div class="c b B" style="left:1589px;top:349px;width:32px;height:33px;line-height:33.8px;background:#fdf9f7">+</div>
<div class="c b B" style="left:1621px;top:349px;width:32px;height:33px;line-height:33.8px;background:#fdf9f7">+</div>
<div class="c b B" style="left:1653px;top:349px;width:32px;height:33px;line-height:33.8px;background:#fdf9f7">+</div>
<div class="c b s" style="left:1685px;top:349px;width:32px;height:33px;line-height:33.5px;background:#ffffff">+</div>
<div class="c b" style="left:1717px;top:349px;width:32px;height:33px;background:#e4e5e4"></div>
<div class="c b s" style="left:1749px;top:349px;width:32px;height:33px;line-height:33.5px;background:#fefdfc">+</div>
<div class="c b s" style="left:1781px;top:349px;width:32px;height:33px;line-height:33.5px;background:#ffffff">+</div>
<div class="c b s" style="left:1813px;top:349px;width:32px;height:33px;line-height:33.5px;background:#ffffff">+</div>
<div class="c b s" style="left:1845px;top:349px;width:32px;height:33px;line-height:33.5px;background:#ffffff">+</div>
<div class="yl yb" style="left:1082.0px;top:386.4px">3−122354037</div>
<div class="c b B" style="left:1398px;top:382px;width:32px;height:34px;line-height:33.8px;background:#f4f2fc">−</div>
<div class="c b B" style="left:1430px;top:382px;width:32px;height:34px;line-height:33.8px;background:#f6f5fd">−</div>
<div class="c b B" style="left:1462px;top:382px;width:32px;height:34px;line-height:33.8px;background:#f6f5fd">−</div>
<div class="c b B" style="left:1494px;top:382px;width:32px;height:34px;line-height:33.8px;background:#f3f0fc">−</div>
<div class="c b B" style="left:1526px;top:382px;width:32px;height:34px;line-height:33.8px;background:#f4f2fc">−</div>
<div class="c b B" style="left:1558px;top:382px;width:31px;height:34px;line-height:33.8px;background:#f4f2fc">−</div>
<div class="c b B" style="left:1589px;top:382px;width:32px;height:34px;line-height:33.8px;background:#f4f2fc">−</div>
<div class="c b B" style="left:1621px;top:382px;width:32px;height:34px;line-height:33.8px;background:#f4f2fc">−</div>
<div class="c b B" style="left:1653px;top:382px;width:32px;height:34px;line-height:33.8px;background:#f4f2fc">−</div>
<div class="c b s" style="left:1685px;top:382px;width:32px;height:34px;line-height:33.5px;background:#ffffff">−</div>
<div class="c b s" style="left:1717px;top:382px;width:32px;height:34px;line-height:33.5px;background:#fefdfc">+</div>
<div class="c b s" style="left:1749px;top:382px;width:32px;height:34px;line-height:33.5px;background:#ffffff">−</div>
<div class="c b B" style="left:1781px;top:382px;width:32px;height:34px;line-height:33.8px;background:#f4f2fc">−</div>
<div class="c b s" style="left:1813px;top:382px;width:32px;height:34px;line-height:33.5px;background:#fefdfc">+</div>
<div class="c b s" style="left:1845px;top:382px;width:32px;height:34px;line-height:33.5px;background:#fbfafe">−</div>
<div class="yl yb" style="left:1082.0px;top:419.6px">3−188133163</div>
<div class="c b B" style="left:1398px;top:416px;width:32px;height:33px;line-height:33.8px;background:#f1edfc">−</div>
<div class="c b B" style="left:1430px;top:416px;width:32px;height:33px;line-height:33.8px;background:#f3f0fc">−</div>
<div class="c b B" style="left:1462px;top:416px;width:32px;height:33px;line-height:33.8px;background:#f3f0fc">−</div>
<div class="c b B" style="left:1494px;top:416px;width:32px;height:33px;line-height:33.8px;background:#ede8fc">−</div>
<div class="c b B" style="left:1526px;top:416px;width:32px;height:33px;line-height:33.8px;background:#f1edfc">−</div>
<div class="c b B" style="left:1558px;top:416px;width:31px;height:33px;line-height:33.8px;background:#f1edfc">−</div>
<div class="c b B" style="left:1589px;top:416px;width:32px;height:33px;line-height:33.8px;background:#f1edfc">−</div>
<div class="c b B" style="left:1621px;top:416px;width:32px;height:33px;line-height:33.8px;background:#efebfc">−</div>
<div class="c b B" style="left:1653px;top:416px;width:32px;height:33px;line-height:33.8px;background:#f1edfc">−</div>
<div class="c b s" style="left:1685px;top:416px;width:32px;height:33px;line-height:33.5px;background:#ffffff">−</div>
<div class="c b s" style="left:1717px;top:416px;width:32px;height:33px;line-height:33.5px;background:#f9f7fd">−</div>
<div class="c b B" style="left:1749px;top:416px;width:32px;height:33px;line-height:33.8px;background:#fdf9f7">+</div>
<div class="c b s" style="left:1781px;top:416px;width:32px;height:33px;line-height:33.5px;background:#ffffff">−</div>
<div class="c b s" style="left:1813px;top:416px;width:32px;height:33px;line-height:33.5px;background:#ffffff">−</div>
<div class="c b s" style="left:1845px;top:416px;width:32px;height:33px;line-height:33.5px;background:#ffffff">−</div>
<div class="yl yb" style="left:1082.0px;top:452.8px">3−189416803</div>
<div class="c b B" style="left:1398px;top:449px;width:32px;height:33px;line-height:33.8px;background:#f3f0fc">−</div>
<div class="c b s" style="left:1430px;top:449px;width:32px;height:33px;line-height:33.5px;background:#fdfcfe">−</div>
<div class="c b B" style="left:1462px;top:449px;width:32px;height:33px;line-height:33.8px;background:#f3f0fc">−</div>
<div class="c b B" style="left:1494px;top:449px;width:32px;height:33px;line-height:33.8px;background:#f1edfc">−</div>
<div class="c b B" style="left:1526px;top:449px;width:32px;height:33px;line-height:33.8px;background:#f3f0fc">−</div>
<div class="c b B" style="left:1558px;top:449px;width:31px;height:33px;line-height:33.8px;background:#f3f0fc">−</div>
<div class="c b B" style="left:1589px;top:449px;width:32px;height:33px;line-height:33.8px;background:#f3f0fc">−</div>
<div class="c b B" style="left:1621px;top:449px;width:32px;height:33px;line-height:33.8px;background:#f3f0fc">−</div>
<div class="c b B" style="left:1653px;top:449px;width:32px;height:33px;line-height:33.8px;background:#f3f0fc">−</div>
<div class="c b s" style="left:1685px;top:449px;width:32px;height:33px;line-height:33.5px;background:#fbfafe">−</div>
<div class="c b s" style="left:1717px;top:449px;width:32px;height:33px;line-height:33.5px;background:#fbfafe">−</div>
<div class="c b s" style="left:1749px;top:449px;width:32px;height:33px;line-height:33.5px;background:#f6f5fd">−</div>
<div class="c b s" style="left:1781px;top:449px;width:32px;height:33px;line-height:33.5px;background:#ffffff">−</div>
<div class="c b s" style="left:1813px;top:449px;width:32px;height:33px;line-height:33.5px;background:#f9f7fd">−</div>
<div class="c b s" style="left:1845px;top:449px;width:32px;height:33px;line-height:33.5px;background:#fefdfc">+</div>
<div class="yl yb" style="left:1082.0px;top:486.0px">5−96273033</div>
<div class="c b B" style="left:1398px;top:482px;width:32px;height:33px;line-height:33.8px;background:#f7e9e3">+</div>
<div class="c b B" style="left:1430px;top:482px;width:32px;height:33px;line-height:33.8px;background:#f8ebe5">+</div>
<div class="c b B" style="left:1462px;top:482px;width:32px;height:33px;line-height:33.8px;background:#faf1ed">+</div>
<div class="c b B" style="left:1494px;top:482px;width:32px;height:33px;line-height:33.8px;background:#f4d9ce">+</div>
<div class="c b B" style="left:1526px;top:482px;width:32px;height:33px;line-height:33.8px;background:#f8ebe5">+</div>
<div class="c b B" style="left:1558px;top:482px;width:31px;height:33px;line-height:33.8px;background:#f8ebe5">+</div>
<div class="c b B" style="left:1589px;top:482px;width:32px;height:33px;line-height:33.8px;background:#f8ebe5">+</div>
<div class="c b B" style="left:1621px;top:482px;width:32px;height:33px;line-height:33.8px;background:#f8ebe5">+</div>
<div class="c b B" style="left:1653px;top:482px;width:32px;height:33px;line-height:33.8px;background:#f8ebe5">+</div>
<div class="c b s" style="left:1685px;top:482px;width:32px;height:33px;line-height:33.5px;background:#ffffff">+</div>
<div class="c b s" style="left:1717px;top:482px;width:32px;height:33px;line-height:33.5px;background:#ffffff">−</div>
<div class="c b s" style="left:1749px;top:482px;width:32px;height:33px;line-height:33.5px;background:#ffffff">+</div>
<div class="c b s" style="left:1781px;top:482px;width:32px;height:33px;line-height:33.5px;background:#ffffff">+</div>
<div class="c b B" style="left:1813px;top:482px;width:32px;height:33px;line-height:33.8px;background:#fefbf9">+</div>
<div class="c b s" style="left:1845px;top:482px;width:32px;height:33px;line-height:33.5px;background:#ffffff">+</div>
<div class="yl yb" style="left:1082.0px;top:519.2px">5−131770805</div>
<div class="c b B" style="left:1398px;top:515px;width:32px;height:33px;line-height:33.8px;background:#f4f2fc">−</div>
<div class="c b B" style="left:1430px;top:515px;width:32px;height:33px;line-height:33.8px;background:#f9f7fd">−</div>
<div class="c b B" style="left:1462px;top:515px;width:32px;height:33px;line-height:33.8px;background:#f6f5fd">−</div>
<div class="c b B" style="left:1494px;top:515px;width:32px;height:33px;line-height:33.8px;background:#f3f0fc">−</div>
<div class="c b B" style="left:1526px;top:515px;width:32px;height:33px;line-height:33.8px;background:#f4f2fc">−</div>
<div class="c b B" style="left:1558px;top:515px;width:31px;height:33px;line-height:33.8px;background:#f4f2fc">−</div>
<div class="c b B" style="left:1589px;top:515px;width:32px;height:33px;line-height:33.8px;background:#f4f2fc">−</div>
<div class="c b B" style="left:1621px;top:515px;width:32px;height:33px;line-height:33.8px;background:#f6f5fd">−</div>
<div class="c b B" style="left:1653px;top:515px;width:32px;height:33px;line-height:33.8px;background:#f6f5fd">−</div>
<div class="c b s" style="left:1685px;top:515px;width:32px;height:33px;line-height:33.5px;background:#ffffff">−</div>
<div class="c b s" style="left:1717px;top:515px;width:32px;height:33px;line-height:33.5px;background:#ffffff">−</div>
<div class="c b s" style="left:1749px;top:515px;width:32px;height:33px;line-height:33.5px;background:#ffffff">+</div>
<div class="c b s" style="left:1781px;top:515px;width:32px;height:33px;line-height:33.5px;background:#fefbf9">+</div>
<div class="c b s" style="left:1813px;top:515px;width:32px;height:33px;line-height:33.5px;background:#ffffff">+</div>
<div class="c b B" style="left:1845px;top:515px;width:32px;height:33px;line-height:33.8px;background:#fcf7f5">+</div>
<div class="yl yb" style="left:1082.0px;top:552.4px">7−50187417</div>
<div class="c b B" style="left:1398px;top:548px;width:32px;height:34px;line-height:33.8px;background:#fcf7f5">+</div>
<div class="c b B" style="left:1430px;top:548px;width:32px;height:34px;line-height:33.8px;background:#fcf7f5">+</div>
<div class="c b B" style="left:1462px;top:548px;width:32px;height:34px;line-height:33.8px;background:#fefbf9">+</div>
<div class="c b B" style="left:1494px;top:548px;width:32px;height:34px;line-height:33.8px;background:#faf1ed">+</div>
<div class="c b B" style="left:1526px;top:548px;width:32px;height:34px;line-height:33.8px;background:#fcf7f5">+</div>
<div class="c b B" style="left:1558px;top:548px;width:31px;height:34px;line-height:33.8px;background:#fcf7f5">+</div>
<div class="c b B" style="left:1589px;top:548px;width:32px;height:34px;line-height:33.8px;background:#fcf7f5">+</div>
<div class="c b B" style="left:1621px;top:548px;width:32px;height:34px;line-height:33.8px;background:#fcf7f5">+</div>
<div class="c b B" style="left:1653px;top:548px;width:32px;height:34px;line-height:33.8px;background:#fcf7f5">+</div>
<div class="c b s" style="left:1685px;top:548px;width:32px;height:34px;line-height:33.5px;background:#ffffff">+</div>
<div class="c b s" style="left:1717px;top:548px;width:32px;height:34px;line-height:33.5px;background:#fefdfc">+</div>
<div class="c b s" style="left:1749px;top:548px;width:32px;height:34px;line-height:33.5px;background:#fefdfc">+</div>
<div class="c b s" style="left:1781px;top:548px;width:32px;height:34px;line-height:33.5px;background:#ffffff">+</div>
<div class="c b s" style="left:1813px;top:548px;width:32px;height:34px;line-height:33.5px;background:#ffffff">−</div>
<div class="c b s" style="left:1845px;top:548px;width:32px;height:34px;line-height:33.5px;background:#ffffff">+</div>
<div class="yl yb" style="left:1082.0px;top:585.6px">12−111865049</div>
<div class="c b B" style="left:1398px;top:582px;width:32px;height:33px;line-height:33.8px;background:#f3f0fc">−</div>
<div class="c b B" style="left:1430px;top:582px;width:32px;height:33px;line-height:33.8px;background:#f6f5fd">−</div>
<div class="c b B" style="left:1462px;top:582px;width:32px;height:33px;line-height:33.8px;background:#f4f2fc">−</div>
<div class="c b B" style="left:1494px;top:582px;width:32px;height:33px;line-height:33.8px;background:#efebfc">−</div>
<div class="c b B" style="left:1526px;top:582px;width:32px;height:33px;line-height:33.8px;background:#f3f0fc">−</div>
<div class="c b B" style="left:1558px;top:582px;width:31px;height:33px;line-height:33.8px;background:#f3f0fc">−</div>
<div class="c b B" style="left:1589px;top:582px;width:32px;height:33px;line-height:33.8px;background:#f3f0fc">−</div>
<div class="c b B" style="left:1621px;top:582px;width:32px;height:33px;line-height:33.8px;background:#f4f2fc">−</div>
<div class="c b B" style="left:1653px;top:582px;width:32px;height:33px;line-height:33.8px;background:#f1edfc">−</div>
<div class="c b s" style="left:1685px;top:582px;width:32px;height:33px;line-height:33.5px;background:#ffffff">+</div>
<div class="c b s" style="left:1717px;top:582px;width:32px;height:33px;line-height:33.5px;background:#ffffff">+</div>
<div class="c b s" style="left:1749px;top:582px;width:32px;height:33px;line-height:33.5px;background:#ffffff">−</div>
<div class="c b s" style="left:1781px;top:582px;width:32px;height:33px;line-height:33.5px;background:#ffffff">+</div>
<div class="c b s" style="left:1813px;top:582px;width:32px;height:33px;line-height:33.5px;background:#fdfcfe">−</div>
<div class="c b s" style="left:1845px;top:582px;width:32px;height:33px;line-height:33.5px;background:#ffffff">+</div>
<div class="yl yb" style="left:1082.0px;top:618.8px">13−40783969</div>
<div class="c b B" style="left:1398px;top:615px;width:32px;height:33px;line-height:33.8px;background:#fcf7f5">+</div>
<div class="c b s" style="left:1430px;top:615px;width:32px;height:33px;line-height:33.5px;background:#ffffff">+</div>
<div class="c b B" style="left:1462px;top:615px;width:32px;height:33px;line-height:33.8px;background:#fdf9f7">+</div>
<div class="c b B" style="left:1494px;top:615px;width:32px;height:33px;line-height:33.8px;background:#fcf7f5">+</div>
<div class="c b B" style="left:1526px;top:615px;width:32px;height:33px;line-height:33.8px;background:#fcf7f5">+</div>
<div class="c b B" style="left:1558px;top:615px;width:31px;height:33px;line-height:33.8px;background:#fcf7f5">+</div>
<div class="c b B" style="left:1589px;top:615px;width:32px;height:33px;line-height:33.8px;background:#fcf7f5">+</div>
<div class="c b B" style="left:1621px;top:615px;width:32px;height:33px;line-height:33.8px;background:#fdf9f7">+</div>
<div class="c b B" style="left:1653px;top:615px;width:32px;height:33px;line-height:33.8px;background:#fcf7f5">+</div>
<div class="c b s" style="left:1685px;top:615px;width:32px;height:33px;line-height:33.5px;background:#ffffff">+</div>
<div class="c b s" style="left:1717px;top:615px;width:32px;height:33px;line-height:33.5px;background:#ffffff">+</div>
<div class="c b s" style="left:1749px;top:615px;width:32px;height:33px;line-height:33.5px;background:#fefdfc">+</div>
<div class="c b s" style="left:1781px;top:615px;width:32px;height:33px;line-height:33.5px;background:#f9f7fd">−</div>
<div class="c b s" style="left:1813px;top:615px;width:32px;height:33px;line-height:33.5px;background:#ffffff">+</div>
<div class="c b B" style="left:1845px;top:615px;width:32px;height:33px;line-height:33.8px;background:#f4f2fc">−</div>
<div class="yl yb" style="left:1082.0px;top:652.0px">13−100038271</div>
<div class="c b B" style="left:1398px;top:648px;width:32px;height:33px;line-height:33.8px;background:#fcf5f2">+</div>
<div class="c b B" style="left:1430px;top:648px;width:32px;height:33px;line-height:33.8px;background:#fcf7f5">+</div>
<div class="c b B" style="left:1462px;top:648px;width:32px;height:33px;line-height:33.8px;background:#fdf9f7">+</div>
<div class="c b B" style="left:1494px;top:648px;width:32px;height:33px;line-height:33.8px;background:#f9efea">+</div>
<div class="c b B" style="left:1526px;top:648px;width:32px;height:33px;line-height:33.8px;background:#fcf5f2">+</div>
<div class="c b B" style="left:1558px;top:648px;width:31px;height:33px;line-height:33.8px;background:#fcf5f2">+</div>
<div class="c b B" style="left:1589px;top:648px;width:32px;height:33px;line-height:33.8px;background:#fcf5f2">+</div>
<div class="c b B" style="left:1621px;top:648px;width:32px;height:33px;line-height:33.8px;background:#fcf5f2">+</div>
<div class="c b B" style="left:1653px;top:648px;width:32px;height:33px;line-height:33.8px;background:#fcf5f2">+</div>
<div class="c b B" style="left:1685px;top:648px;width:32px;height:33px;line-height:33.8px;background:#fbfafe">−</div>
<div class="c b s" style="left:1717px;top:648px;width:32px;height:33px;line-height:33.5px;background:#ffffff">+</div>
<div class="c b s" style="left:1749px;top:648px;width:32px;height:33px;line-height:33.5px;background:#ffffff">−</div>
<div class="c b s" style="left:1781px;top:648px;width:32px;height:33px;line-height:33.5px;background:#ffffff">−</div>
<div class="c b s" style="left:1813px;top:648px;width:32px;height:33px;line-height:33.5px;background:#fefbf9">+</div>
<div class="c b s" style="left:1845px;top:648px;width:32px;height:33px;line-height:33.5px;background:#ffffff">−</div>
<div class="yl yb" style="left:1082.0px;top:685.2px">13−109003805</div>
<div class="c b B" style="left:1398px;top:681px;width:32px;height:33px;line-height:33.8px;background:#e3d8fc">−</div>
<div class="c b B" style="left:1430px;top:681px;width:32px;height:33px;line-height:33.8px;background:#e6ddfc">−</div>
<div class="c b B" style="left:1462px;top:681px;width:32px;height:33px;line-height:33.8px;background:#e8e0fc">−</div>
<div class="c b B" style="left:1494px;top:681px;width:32px;height:33px;line-height:33.8px;background:#d5befd">−</div>
<div class="c b B" style="left:1526px;top:681px;width:32px;height:33px;line-height:33.8px;background:#e5dbfc">−</div>
<div class="c b B" style="left:1558px;top:681px;width:31px;height:33px;line-height:33.8px;background:#e5dbfc">−</div>
<div class="c b B" style="left:1589px;top:681px;width:32px;height:33px;line-height:33.8px;background:#e5dbfc">−</div>
<div class="c b B" style="left:1621px;top:681px;width:32px;height:33px;line-height:33.8px;background:#e3d8fc">−</div>
<div class="c b B" style="left:1653px;top:681px;width:32px;height:33px;line-height:33.8px;background:#e3d8fc">−</div>
<div class="c b B" style="left:1685px;top:681px;width:32px;height:33px;line-height:33.8px;background:#f6f5fd">−</div>
<div class="c b B" style="left:1717px;top:681px;width:32px;height:33px;line-height:33.8px;background:#e3d8fc">−</div>
<div class="c b s" style="left:1749px;top:681px;width:32px;height:33px;line-height:33.5px;background:#f9f7fd">−</div>
<div class="c b s" style="left:1781px;top:681px;width:32px;height:33px;line-height:33.5px;background:#f9f7fd">−</div>
<div class="c b s" style="left:1813px;top:681px;width:32px;height:33px;line-height:33.5px;background:#f4f2fc">−</div>
<div class="c b s" style="left:1845px;top:681px;width:32px;height:33px;line-height:33.5px;background:#ece5fc">−</div>
<div class="yl yb" style="left:1082.0px;top:718.4px">15−41567369</div>
<div class="c b B" style="left:1398px;top:714px;width:32px;height:34px;line-height:33.8px;background:#fcf7f5">+</div>
<div class="c b B" style="left:1430px;top:714px;width:32px;height:34px;line-height:33.8px;background:#fcf7f5">+</div>
<div class="c b B" style="left:1462px;top:714px;width:32px;height:34px;line-height:33.8px;background:#fdf9f7">+</div>
<div class="c b B" style="left:1494px;top:714px;width:32px;height:34px;line-height:33.8px;background:#fbf3ef">+</div>
<div class="c b B" style="left:1526px;top:714px;width:32px;height:34px;line-height:33.8px;background:#fcf7f5">+</div>
<div class="c b B" style="left:1558px;top:714px;width:31px;height:34px;line-height:33.8px;background:#fcf7f5">+</div>
<div class="c b B" style="left:1589px;top:714px;width:32px;height:34px;line-height:33.8px;background:#fcf7f5">+</div>
<div class="c b B" style="left:1621px;top:714px;width:32px;height:34px;line-height:33.8px;background:#fcf7f5">+</div>
<div class="c b B" style="left:1653px;top:714px;width:32px;height:34px;line-height:33.8px;background:#fcf7f5">+</div>
<div class="c b s" style="left:1685px;top:714px;width:32px;height:34px;line-height:33.5px;background:#ffffff">−</div>
<div class="c b s" style="left:1717px;top:714px;width:32px;height:34px;line-height:33.5px;background:#ffffff">+</div>
<div class="c b s" style="left:1749px;top:714px;width:32px;height:34px;line-height:33.5px;background:#ffffff">−</div>
<div class="c b s" style="left:1781px;top:714px;width:32px;height:34px;line-height:33.5px;background:#ffffff">+</div>
<div class="c b s" style="left:1813px;top:714px;width:32px;height:34px;line-height:33.5px;background:#ffffff">+</div>
<div class="c b s" style="left:1845px;top:714px;width:32px;height:34px;line-height:33.5px;background:#fefdfc">+</div>
<div class="yl yb" style="left:1082.0px;top:751.6px">17−16852187</div>
<div class="c b B" style="left:1398px;top:748px;width:32px;height:33px;line-height:33.8px;background:#cdb3fd">−</div>
<div class="c b s" style="left:1430px;top:748px;width:32px;height:33px;line-height:33.5px;background:#f1edfc">−</div>
<div class="c b B" style="left:1462px;top:748px;width:32px;height:33px;line-height:33.8px;background:#cdb3fd">−</div>
<div class="c b B" style="left:1494px;top:748px;width:32px;height:33px;line-height:33.8px;background:#c9abfd">−</div>
<div class="c b B" style="left:1526px;top:748px;width:32px;height:33px;line-height:33.8px;background:#cdb3fd">−</div>
<div class="c b B" style="left:1558px;top:748px;width:31px;height:33px;line-height:33.8px;background:#d0b6fd">−</div>
<div class="c b B" style="left:1589px;top:748px;width:32px;height:33px;line-height:33.8px;background:#d0b6fd">−</div>
<div class="c b B" style="left:1621px;top:748px;width:32px;height:33px;line-height:33.8px;background:#cdb3fd">−</div>
<div class="c b B" style="left:1653px;top:748px;width:32px;height:33px;line-height:33.8px;background:#cdb3fd">−</div>
<div class="c b s" style="left:1685px;top:748px;width:32px;height:33px;line-height:33.5px;background:#fdf9f7">+</div>
<div class="c b s" style="left:1717px;top:748px;width:32px;height:33px;line-height:33.5px;background:#1600ff;color:#c9c9d9">−</div>
<div class="c b s" style="left:1749px;top:748px;width:32px;height:33px;line-height:33.5px;background:#fefdfc">+</div>
<div class="c b s" style="left:1781px;top:748px;width:32px;height:33px;line-height:33.5px;background:#fefdfc">+</div>
<div class="c b s" style="left:1813px;top:748px;width:32px;height:33px;line-height:33.5px;background:#fbfafe">−</div>
<div class="c b s" style="left:1845px;top:748px;width:32px;height:33px;line-height:33.5px;background:#faf1ed">+</div>
<div class="yl yb" style="left:1082.0px;top:784.8px">17−25794689</div>
<div class="c b B" style="left:1398px;top:781px;width:32px;height:33px;line-height:33.8px;background:#f1edfc">−</div>
<div class="c b B" style="left:1430px;top:781px;width:32px;height:33px;line-height:33.8px;background:#f3f0fc">−</div>
<div class="c b B" style="left:1462px;top:781px;width:32px;height:33px;line-height:33.8px;background:#f3f0fc">−</div>
<div class="c b B" style="left:1494px;top:781px;width:32px;height:33px;line-height:33.8px;background:#ede8fc">−</div>
<div class="c b B" style="left:1526px;top:781px;width:32px;height:33px;line-height:33.8px;background:#f1edfc">−</div>
<div class="c b B" style="left:1558px;top:781px;width:31px;height:33px;line-height:33.8px;background:#f1edfc">−</div>
<div class="c b B" style="left:1589px;top:781px;width:32px;height:33px;line-height:33.8px;background:#f1edfc">−</div>
<div class="c b B" style="left:1621px;top:781px;width:32px;height:33px;line-height:33.8px;background:#f1edfc">−</div>
<div class="c b B" style="left:1653px;top:781px;width:32px;height:33px;line-height:33.8px;background:#f1edfc">−</div>
<div class="c b s" style="left:1685px;top:781px;width:32px;height:33px;line-height:33.5px;background:#ffffff">−</div>
<div class="c b s" style="left:1717px;top:781px;width:32px;height:33px;line-height:33.5px;background:#ffffff">+</div>
<div class="c b s" style="left:1749px;top:781px;width:32px;height:33px;line-height:33.5px;background:#ffffff">−</div>
<div class="c b s" style="left:1781px;top:781px;width:32px;height:33px;line-height:33.5px;background:#ffffff">+</div>
<div class="c b s" style="left:1813px;top:781px;width:32px;height:33px;line-height:33.5px;background:#ffffff">−</div>
<div class="c b s" style="left:1845px;top:781px;width:32px;height:33px;line-height:33.5px;background:#fdf9f7">+</div>
<div class="yl yb" style="left:1082.0px;top:818.0px">17−37904211</div>
<div class="c b B" style="left:1398px;top:814px;width:32px;height:33px;line-height:33.8px;background:#ece5fc">−</div>
<div class="c b B" style="left:1430px;top:814px;width:32px;height:33px;line-height:33.8px;background:#ede8fc">−</div>
<div class="c b B" style="left:1462px;top:814px;width:32px;height:33px;line-height:33.8px;background:#ede8fc">−</div>
<div class="c b B" style="left:1494px;top:814px;width:32px;height:33px;line-height:33.8px;background:#e3d8fc">−</div>
<div class="c b B" style="left:1526px;top:814px;width:32px;height:33px;line-height:33.8px;background:#ece5fc">−</div>
<div class="c b B" style="left:1558px;top:814px;width:31px;height:33px;line-height:33.8px;background:#ece5fc">−</div>
<div class="c b B" style="left:1589px;top:814px;width:32px;height:33px;line-height:33.8px;background:#ece5fc">−</div>
<div class="c b B" style="left:1621px;top:814px;width:32px;height:33px;line-height:33.8px;background:#e8e0fc">−</div>
<div class="c b B" style="left:1653px;top:814px;width:32px;height:33px;line-height:33.8px;background:#ece5fc">−</div>
<div class="c b s" style="left:1685px;top:814px;width:32px;height:33px;line-height:33.5px;background:#ffffff">+</div>
<div class="c b s" style="left:1717px;top:814px;width:32px;height:33px;line-height:33.5px;background:#f4f2fc">−</div>
<div class="c b B" style="left:1749px;top:814px;width:32px;height:33px;line-height:33.8px;background:#f1edfc">−</div>
<div class="c b s" style="left:1781px;top:814px;width:32px;height:33px;line-height:33.5px;background:#f9f7fd">−</div>
<div class="c b s" style="left:1813px;top:814px;width:32px;height:33px;line-height:33.5px;background:#f6f5fd">−</div>
<div class="c b s" style="left:1845px;top:814px;width:32px;height:33px;line-height:33.5px;background:#ffffff">+</div>
<div class="yl yb" style="left:1082.0px;top:851.2px">19−6605821</div>
<div class="c b B" style="left:1398px;top:847px;width:32px;height:33px;line-height:33.8px;background:#fdf9f7">+</div>
<div class="c b B" style="left:1430px;top:847px;width:32px;height:33px;line-height:33.8px;background:#fdf9f7">+</div>
<div class="c b B" style="left:1462px;top:847px;width:32px;height:33px;line-height:33.8px;background:#fefbf9">+</div>
<div class="c b B" style="left:1494px;top:847px;width:32px;height:33px;line-height:33.8px;background:#fcf7f5">+</div>
<div class="c b B" style="left:1526px;top:847px;width:32px;height:33px;line-height:33.8px;background:#fdf9f7">+</div>
<div class="c b B" style="left:1558px;top:847px;width:31px;height:33px;line-height:33.8px;background:#fdf9f7">+</div>
<div class="c b B" style="left:1589px;top:847px;width:32px;height:33px;line-height:33.8px;background:#fdf9f7">+</div>
<div class="c b B" style="left:1621px;top:847px;width:32px;height:33px;line-height:33.8px;background:#fdf9f7">+</div>
<div class="c b B" style="left:1653px;top:847px;width:32px;height:33px;line-height:33.8px;background:#fdf9f7">+</div>
<div class="c b s" style="left:1685px;top:847px;width:32px;height:33px;line-height:33.5px;background:#ffffff">+</div>
<div class="c b s" style="left:1717px;top:847px;width:32px;height:33px;line-height:33.5px;background:#fefdfc">+</div>
<div class="c b s" style="left:1749px;top:847px;width:32px;height:33px;line-height:33.5px;background:#fefdfc">+</div>
<div class="c b s" style="left:1781px;top:847px;width:32px;height:33px;line-height:33.5px;background:#fefdfc">+</div>
<div class="c b s" style="left:1813px;top:847px;width:32px;height:33px;line-height:33.5px;background:#fefbf9">+</div>
<div class="c b s" style="left:1845px;top:847px;width:32px;height:33px;line-height:33.5px;background:#fefbf9">+</div>
<div class="yl yb" style="left:1082.0px;top:884.4px">19−45302504</div>
<div class="c b B" style="left:1398px;top:880px;width:32px;height:34px;line-height:33.8px;background:#f5dfd5">+</div>
<div class="c b s" style="left:1430px;top:880px;width:32px;height:34px;line-height:33.5px;background:#ffffff">+</div>
<div class="c b B" style="left:1462px;top:880px;width:32px;height:34px;line-height:33.8px;background:#f6e3da">+</div>
<div class="c b B" style="left:1494px;top:880px;width:32px;height:34px;line-height:33.8px;background:#f6e3da">+</div>
<div class="c b B" style="left:1526px;top:880px;width:32px;height:34px;line-height:33.8px;background:#f6e3da">+</div>
<div class="c b B" style="left:1558px;top:880px;width:31px;height:34px;line-height:33.8px;background:#f6e3da">+</div>
<div class="c b B" style="left:1589px;top:880px;width:32px;height:34px;line-height:33.8px;background:#f6e3da">+</div>
<div class="c b B" style="left:1621px;top:880px;width:32px;height:34px;line-height:33.8px;background:#f6e3da">+</div>
<div class="c b B" style="left:1653px;top:880px;width:32px;height:34px;line-height:33.8px;background:#f6e3da">+</div>
<div class="c b s" style="left:1685px;top:880px;width:32px;height:34px;line-height:33.5px;background:#fdfcfe">−</div>
<div class="c b s" style="left:1717px;top:880px;width:32px;height:34px;line-height:33.5px;background:#f6f5fd">−</div>
<div class="c b s" style="left:1749px;top:880px;width:32px;height:34px;line-height:33.5px;background:#fbfafe">−</div>
<div class="c b s" style="left:1781px;top:880px;width:32px;height:34px;line-height:33.5px;background:#f1edfc">−</div>
<div class="c b s" style="left:1813px;top:880px;width:32px;height:34px;line-height:33.5px;background:#f3f0fc">−</div>
<div class="c b s" style="left:1845px;top:880px;width:32px;height:34px;line-height:33.5px;background:#ece5fc">−</div>
<div class="yl yb" style="left:1082.0px;top:917.6px">19−55121802</div>
<div class="c b B" style="left:1398px;top:914px;width:32px;height:33px;line-height:33.8px;background:#fcf7f5">+</div>
<div class="c b B" style="left:1430px;top:914px;width:32px;height:33px;line-height:33.8px;background:#fcf7f5">+</div>
<div class="c b B" style="left:1462px;top:914px;width:32px;height:33px;line-height:33.8px;background:#fdf9f7">+</div>
<div class="c b B" style="left:1494px;top:914px;width:32px;height:33px;line-height:33.8px;background:#fcf5f2">+</div>
<div class="c b B" style="left:1526px;top:914px;width:32px;height:33px;line-height:33.8px;background:#fcf7f5">+</div>
<div class="c b B" style="left:1558px;top:914px;width:31px;height:33px;line-height:33.8px;background:#fcf7f5">+</div>
<div class="c b B" style="left:1589px;top:914px;width:32px;height:33px;line-height:33.8px;background:#fcf7f5">+</div>
<div class="c b B" style="left:1621px;top:914px;width:32px;height:33px;line-height:33.8px;background:#fcf5f2">+</div>
<div class="c b B" style="left:1653px;top:914px;width:32px;height:33px;line-height:33.8px;background:#fcf7f5">+</div>
<div class="c b s" style="left:1685px;top:914px;width:32px;height:33px;line-height:33.5px;background:#ffffff">+</div>
<div class="c b s" style="left:1717px;top:914px;width:32px;height:33px;line-height:33.5px;background:#fefbf9">+</div>
<div class="c b s" style="left:1749px;top:914px;width:32px;height:33px;line-height:33.5px;background:#ffffff">−</div>
<div class="c b s" style="left:1781px;top:914px;width:32px;height:33px;line-height:33.5px;background:#ffffff">+</div>
<div class="c b s" style="left:1813px;top:914px;width:32px;height:33px;line-height:33.5px;background:#ffffff">−</div>
<div class="c b s" style="left:1845px;top:914px;width:32px;height:33px;line-height:33.5px;background:#fefdfc">+</div>
<div class="xl" style="left:1400.3px;top:1262.5px">0_vs_1_18</div>
<div class="xl" style="left:1432.3px;top:1262.5px">1_vs_2_18</div>
<div class="xl" style="left:1464.2px;top:1262.5px">0_vs_1</div>
<div class="xl" style="left:1496.2px;top:1262.5px">0_vs_2_18</div>
<div class="xl" style="left:1528.2px;top:1262.5px">w_hla</div>
<div class="xl" style="left:1560.2px;top:1262.5px">basic</div>
<div class="xl" style="left:1592.2px;top:1262.5px">no_blood</div>
<div class="xl" style="left:1624.1px;top:1262.5px">female</div>
<div class="xl" style="left:1656.1px;top:1262.5px">male</div>
<div class="xl" style="left:1688.1px;top:1262.5px">HHV-7</div>
<div class="xl" style="left:1720.1px;top:1262.5px">bmem</div>
<div class="xl" style="left:1752.1px;top:1262.5px">EBNA</div>
<div class="xl" style="left:1784.0px;top:1262.5px">ZEBRA</div>
<div class="xl" style="left:1816.0px;top:1262.5px">VCA-p18</div>
<div class="xl" style="left:1848.0px;top:1262.5px">EA</div>
<div style="position:absolute;left:1937.8px;top:375.6px;width:60.2px;height:301.1px;background:linear-gradient(to bottom,#f5dad0 2.5%,#f7e7e1 7.5%,#fbf3f0 12.5%,#ffffff 17.5%,#f3f0fc 22.5%,#e9e0fc 27.5%,#dfd1fc 32.5%,#d7c1fd 37.5%,#ceb3fd 42.5%,#c5a6fd 47.5%,#bd98fd 52.5%,#b38bfd 57.5%,#aa7dfd 62.5%,#a16ffe 67.5%,#9560fe 72.5%,#8951fe 77.5%,#7b42fe 82.5%,#6a32ff 87.5%,#521fff 92.5%,#1600ff 97.5%)"></div>
<i class="t" style="left:1937.8px;top:421.9px;width:12.0px"></i>
<i class="t" style="left:1986.0px;top:421.9px;width:12.0px"></i>
<div class="ll" style="left:1878.7px;width:200px;text-align:right;top:410.7px">0.00</div>
<i class="t" style="left:1937.8px;top:489.2px;width:12.0px"></i>
<i class="t" style="left:1986.0px;top:489.2px;width:12.0px"></i>
<div class="ll" style="left:1878.7px;width:200px;text-align:right;top:478.0px">−0.25</div>
<i class="t" style="left:1937.8px;top:556.6px;width:12.0px"></i>
<i class="t" style="left:1986.0px;top:556.6px;width:12.0px"></i>
<div class="ll" style="left:1878.7px;width:200px;text-align:right;top:545.4px">−0.50</div>
<i class="t" style="left:1937.8px;top:623.9px;width:12.0px"></i>
<i class="t" style="left:1986.0px;top:623.9px;width:12.0px"></i>
<div class="ll" style="left:1878.7px;width:200px;text-align:right;top:612.7px">−0.75</div>
<div class="tt" style="left:1937.8px;top:325.1px">beta</div>
<div class="pl" style="left:1111px;top:-6.0px">b</div>
<div class="tt" style="left:1199.5px;top:-0.7px">non-MHC loci</div>
<i class="k" style="left:1108.5px;top:1218.7px;width:10px;height:2px"></i>
<div class="yl" style="left:797.3px;top:1207.7px">EA</div>
<i class="q" style="left:1140.0px;top:1209.9px;width:20.7px;height:20.4px;background:#e6ddfc"></i>
<div class="v" style="left:1110.3px;top:1198.1px">–0.14</div>
<i class="q" style="left:1191.7px;top:1209.9px;width:20.7px;height:20.4px;background:#fdf9f7"></i>
<div class="v" style="left:1162.0px;top:1198.1px">0.03</div>
<i class="q" style="left:1243.5px;top:1209.9px;width:20.7px;height:20.4px;background:#e3d8fc"></i>
<div class="v" style="left:1213.8px;top:1198.1px">–0.16</div>
<i class="q" style="left:1295.2px;top:1209.9px;width:20.7px;height:20.4px;background:#ede7fc"></i>
<div class="v" style="left:1265.5px;top:1198.1px">–0.1</div>
<i class="q" style="left:1347.0px;top:1209.9px;width:20.7px;height:20.4px;background:#e7dffc"></i>
<div class="v" style="left:1317.3px;top:1198.1px">–0.13</div>
<i class="q" style="left:1398.7px;top:1209.9px;width:20.7px;height:20.4px;background:#e7dffc"></i>
<div class="v" style="left:1369.0px;top:1198.1px">–0.13</div>
<i class="q" style="left:1450.5px;top:1209.9px;width:20.7px;height:20.4px;background:#e7dffc"></i>
<div class="v" style="left:1420.8px;top:1198.1px">–0.13</div>
<i class="q" style="left:1502.2px;top:1209.9px;width:20.7px;height:20.4px;background:#f0ecfc"></i>
<div class="v" style="left:1472.5px;top:1198.1px">–0.08</div>
<i class="q" style="left:1554.0px;top:1209.9px;width:20.7px;height:20.4px;background:#ddcefc"></i>
<div class="v" style="left:1524.3px;top:1198.1px">–0.2</div>
<i class="q" style="left:1605.7px;top:1209.9px;width:20.7px;height:20.4px;background:#f3d1c5"></i>
<div class="v" style="left:1576.0px;top:1198.1px">0.23</div>
<i class="q" style="left:1657.5px;top:1209.9px;width:20.7px;height:20.4px;background:#f7e6df"></i>
<div class="v" style="left:1627.8px;top:1198.1px">0.13</div>
<i class="q" style="left:1709.2px;top:1209.9px;width:20.7px;height:20.4px;background:#faf0eb"></i>
<div class="v" style="left:1679.5px;top:1198.1px">0.08</div>
<i class="q" style="left:1753.2px;top:1202.2px;width:36.2px;height:35.7px;background:#f08b70"></i>
<div class="v" style="left:1731.3px;top:1198.1px">0.56</div>
<div class="st" style="left:1731.3px;top:1219.6px">*</div>
<i class="q" style="left:1812.7px;top:1209.9px;width:20.7px;height:20.4px;background:#fefbfa"></i>
<div class="v" style="left:1783.0px;top:1198.1px">0.02</div>
<i class="k" style="left:1108.5px;top:1270.5px;width:10px;height:2px"></i>
<div class="yl" style="left:797.3px;top:1259.5px">VCA-p18</div>
<i class="q" style="left:1132.2px;top:1253.2px;width:36.2px;height:35.7px;background:#f1a28b"></i>
<div class="v" style="left:1110.3px;top:1249.1px">0.45</div>
<div class="st" style="left:1110.3px;top:1270.6px">*</div>
<i class="q" style="left:1183.9px;top:1253.2px;width:36.2px;height:35.7px;background:#f09177"></i>
<div class="v" style="left:1162.0px;top:1249.1px">0.53</div>
<div class="st" style="left:1162.0px;top:1270.6px">*</div>
<i class="q" style="left:1235.7px;top:1253.2px;width:36.2px;height:35.7px;background:#f09a82"></i>
<div class="v" style="left:1213.8px;top:1249.1px">0.49</div>
<div class="st" style="left:1213.8px;top:1270.6px">*</div>
<i class="q" style="left:1287.4px;top:1253.2px;width:36.2px;height:35.7px;background:#f1a089"></i>
<div class="v" style="left:1265.5px;top:1249.1px">0.46</div>
<div class="st" style="left:1265.5px;top:1270.6px">*</div>
<i class="q" style="left:1339.2px;top:1253.2px;width:36.2px;height:35.7px;background:#f1a58e"></i>
<div class="v" style="left:1317.3px;top:1249.1px">0.44</div>
<div class="st" style="left:1317.3px;top:1270.6px">*</div>
<i class="q" style="left:1390.9px;top:1253.2px;width:36.2px;height:35.7px;background:#f1a790"></i>
<div class="v" style="left:1369.0px;top:1249.1px">0.43</div>
<div class="st" style="left:1369.0px;top:1270.6px">*</div>
<i class="q" style="left:1442.7px;top:1253.2px;width:36.2px;height:35.7px;background:#f1a790"></i>
<div class="v" style="left:1420.8px;top:1249.1px">0.43</div>
<div class="st" style="left:1420.8px;top:1270.6px">*</div>
<i class="q" style="left:1494.4px;top:1253.2px;width:36.2px;height:35.7px;background:#f1a58e"></i>
<div class="v" style="left:1472.5px;top:1249.1px">0.44</div>
<div class="st" style="left:1472.5px;top:1270.6px">*</div>
<i class="q" style="left:1546.2px;top:1253.2px;width:36.2px;height:35.7px;background:#f09a82"></i>
<div class="v" style="left:1524.3px;top:1249.1px">0.49</div>
<div class="st" style="left:1524.3px;top:1270.6px">*</div>
<i class="q" style="left:1605.7px;top:1260.9px;width:20.7px;height:20.4px;background:#f9ece6"></i>
<div class="v" style="left:1576.0px;top:1249.1px">0.1</div>
<i class="q" style="left:1649.7px;top:1253.2px;width:36.2px;height:35.7px;background:#f1a790"></i>
<div class="v" style="left:1627.8px;top:1249.1px">0.43</div>
<div class="st" style="left:1627.8px;top:1270.6px">*</div>
<i class="q" style="left:1701.4px;top:1253.2px;width:36.2px;height:35.7px;background:#f1a58e"></i>
<div class="v" style="left:1679.5px;top:1249.1px">0.44</div>
<div class="st" style="left:1679.5px;top:1270.6px">*</div>
<i class="q" style="left:1761.0px;top:1260.9px;width:20.7px;height:20.4px;background:#f3cbbc"></i>
<div class="v" style="left:1731.3px;top:1249.1px">0.26</div>
<i class="q" style="left:1864.5px;top:1260.9px;width:20.7px;height:20.4px;background:#fefdfc"></i>
<div class="v" style="left:1834.8px;top:1249.1px">0.01</div>
<i class="k" style="left:1108.5px;top:1322.2px;width:10px;height:2px"></i>
<div class="yl" style="left:797.3px;top:1311.2px">ZEBRA</div>
<i class="q" style="left:1140.0px;top:1311.9px;width:20.7px;height:20.4px;background:#fbfafe"></i>
<div class="v" style="left:1110.3px;top:1300.1px">–0.02</div>
<i class="q" style="left:1191.7px;top:1311.9px;width:20.7px;height:20.4px;background:#fbf4f0"></i>
<div class="v" style="left:1162.0px;top:1300.1px">0.06</div>
<i class="q" style="left:1243.5px;top:1311.9px;width:20.7px;height:20.4px;background:#f0ecfc"></i>
<div class="v" style="left:1213.8px;top:1300.1px">–0.08</div>
<i class="q" style="left:1295.2px;top:1311.9px;width:20.7px;height:20.4px;background:#f9f8fe"></i>
<div class="v" style="left:1265.5px;top:1300.1px">–0.03</div>
<i class="q" style="left:1347.0px;top:1311.9px;width:20.7px;height:20.4px;background:#f9f8fe"></i>
<div class="v" style="left:1317.3px;top:1300.1px">–0.03</div>
<i class="q" style="left:1398.7px;top:1311.9px;width:20.7px;height:20.4px;background:#f5f3fc"></i>
<div class="v" style="left:1369.0px;top:1300.1px">–0.05</div>
<i class="q" style="left:1450.5px;top:1311.9px;width:20.7px;height:20.4px;background:#f5f3fc"></i>
<div class="v" style="left:1420.8px;top:1300.1px">–0.05</div>
<i class="q" style="left:1502.2px;top:1311.9px;width:20.7px;height:20.4px;background:#ffffff"></i>
<div class="v" style="left:1472.5px;top:1300.1px">0</div>
<i class="q" style="left:1554.0px;top:1311.9px;width:20.7px;height:20.4px;background:#ebe4fc"></i>
<div class="v" style="left:1524.3px;top:1300.1px">–0.11</div>
<i class="q" style="left:1605.7px;top:1311.9px;width:20.7px;height:20.4px;background:#f5dcd1"></i>
<div class="v" style="left:1576.0px;top:1300.1px">0.18</div>
<i class="q" style="left:1649.7px;top:1304.2px;width:36.2px;height:35.7px;background:#f1ab96"></i>
<div class="v" style="left:1627.8px;top:1300.1px">0.41</div>
<div class="st" style="left:1627.8px;top:1321.6px">*</div>
<i class="q" style="left:1709.2px;top:1311.9px;width:20.7px;height:20.4px;background:#f2c1b0"></i>
<div class="v" style="left:1679.5px;top:1300.1px">0.31</div>
<i class="q" style="left:1812.7px;top:1311.9px;width:20.7px;height:20.4px;background:#f2c1b0"></i>
<div class="v" style="left:1783.0px;top:1300.1px">0.31</div>
<i class="q" style="left:1864.5px;top:1311.9px;width:20.7px;height:20.4px;background:#f5dacf"></i>
<div class="v" style="left:1834.8px;top:1300.1px">0.19</div>
<i class="k" style="left:1108.5px;top:1374.0px;width:10px;height:2px"></i>
<div class="yl" style="left:797.3px;top:1363.0px">EBNA</div>
<i class="q" style="left:1140.0px;top:1362.9px;width:20.7px;height:20.4px;background:#fdf9f7"></i>
<div class="v" style="left:1110.3px;top:1351.1px">0.03</div>
<i class="q" style="left:1191.7px;top:1362.9px;width:20.7px;height:20.4px;background:#f5dcd1"></i>
<div class="v" style="left:1162.0px;top:1351.1px">0.18</div>
<i class="q" style="left:1243.5px;top:1362.9px;width:20.7px;height:20.4px;background:#fdf9f7"></i>
<div class="v" style="left:1213.8px;top:1351.1px">0.03</div>
<i class="q" style="left:1295.2px;top:1362.9px;width:20.7px;height:20.4px;background:#fbf4f0"></i>
<div class="v" style="left:1265.5px;top:1351.1px">0.06</div>
<i class="q" style="left:1347.0px;top:1362.9px;width:20.7px;height:20.4px;background:#fdf9f7"></i>
<div class="v" style="left:1317.3px;top:1351.1px">0.03</div>
<i class="q" style="left:1398.7px;top:1362.9px;width:20.7px;height:20.4px;background:#fdf9f7"></i>
<div class="v" style="left:1369.0px;top:1351.1px">0.03</div>
<i class="q" style="left:1450.5px;top:1362.9px;width:20.7px;height:20.4px;background:#fdf9f7"></i>
<div class="v" style="left:1420.8px;top:1351.1px">0.03</div>
<i class="q" style="left:1502.2px;top:1362.9px;width:20.7px;height:20.4px;background:#fefbfa"></i>
<div class="v" style="left:1472.5px;top:1351.1px">0.02</div>
<i class="q" style="left:1554.0px;top:1362.9px;width:20.7px;height:20.4px;background:#f9ece6"></i>
<div class="v" style="left:1524.3px;top:1351.1px">0.1</div>
<i class="q" style="left:1605.7px;top:1362.9px;width:20.7px;height:20.4px;background:#f2bfad"></i>
<div class="v" style="left:1576.0px;top:1351.1px">0.32</div>
<i class="q" style="left:1657.5px;top:1362.9px;width:20.7px;height:20.4px;background:#f2c8ba"></i>
<div class="v" style="left:1627.8px;top:1351.1px">0.27</div>
<i class="q" style="left:1761.0px;top:1362.9px;width:20.7px;height:20.4px;background:#e0d4fc"></i>
<div class="v" style="left:1731.3px;top:1351.1px">–0.18</div>
<i class="q" style="left:1804.9px;top:1355.2px;width:36.2px;height:35.7px;background:#f2bfad"></i>
<div class="v" style="left:1783.0px;top:1351.1px">0.32</div>
<div class="st" style="left:1783.0px;top:1372.6px">*</div>
<i class="q" style="left:1864.5px;top:1362.9px;width:20.7px;height:20.4px;background:#f4d4c7"></i>
<div class="v" style="left:1834.8px;top:1351.1px">0.22</div>
<i class="k" style="left:1108.5px;top:1425.7px;width:10px;height:2px"></i>
<div class="yl" style="left:797.3px;top:1414.7px">bmem</div>
<i class="q" style="left:1140.0px;top:1413.9px;width:20.7px;height:20.4px;background:#f2c6b7"></i>
<div class="v" style="left:1110.3px;top:1402.1px">0.28</div>
<i class="q" style="left:1191.7px;top:1413.9px;width:20.7px;height:20.4px;background:#f2bcaa"></i>
<div class="v" style="left:1162.0px;top:1402.1px">0.33</div>
<i class="q" style="left:1243.5px;top:1413.9px;width:20.7px;height:20.4px;background:#f2c6b7"></i>
<div class="v" style="left:1213.8px;top:1402.1px">0.28</div>
<i class="q" style="left:1295.2px;top:1413.9px;width:20.7px;height:20.4px;background:#f2c8ba"></i>
<div class="v" style="left:1265.5px;top:1402.1px">0.27</div>
<i class="q" style="left:1347.0px;top:1413.9px;width:20.7px;height:20.4px;background:#f2c4b5"></i>
<div class="v" style="left:1317.3px;top:1402.1px">0.29</div>
<i class="q" style="left:1398.7px;top:1413.9px;width:20.7px;height:20.4px;background:#f2c3b2"></i>
<div class="v" style="left:1369.0px;top:1402.1px">0.3</div>
<i class="q" style="left:1450.5px;top:1413.9px;width:20.7px;height:20.4px;background:#f2c3b2"></i>
<div class="v" style="left:1420.8px;top:1402.1px">0.3</div>
<i class="q" style="left:1502.2px;top:1413.9px;width:20.7px;height:20.4px;background:#f2bcaa"></i>
<div class="v" style="left:1472.5px;top:1402.1px">0.33</div>
<i class="q" style="left:1554.0px;top:1413.9px;width:20.7px;height:20.4px;background:#f4d6ca"></i>
<div class="v" style="left:1524.3px;top:1402.1px">0.21</div>
<i class="q" style="left:1605.7px;top:1413.9px;width:20.7px;height:20.4px;background:#f3f1fc"></i>
<div class="v" style="left:1576.0px;top:1402.1px">–0.06</div>
<div class="v" style="left:1679.5px;top:1412.1px">NA</div>
<div class="v" style="left:1731.3px;top:1412.1px">NA</div>
<div class="v" style="left:1783.0px;top:1412.1px">NA</div>
<div class="v" style="left:1834.8px;top:1412.1px">NA</div>
<i class="k" style="left:1108.5px;top:1477.5px;width:10px;height:2px"></i>
<div class="yl" style="left:797.3px;top:1466.5px">HHV-7</div>
<i class="q" style="left:1140.0px;top:1464.9px;width:20.7px;height:20.4px;background:#f2c3b2"></i>
<div class="v" style="left:1110.3px;top:1453.1px">0.3</div>
<i class="q" style="left:1183.9px;top:1457.2px;width:36.2px;height:35.7px;background:#f1af9b"></i>
<div class="v" style="left:1162.0px;top:1453.1px">0.39</div>
<div class="st" style="left:1162.0px;top:1474.6px">*</div>
<i class="q" style="left:1243.5px;top:1464.9px;width:20.7px;height:20.4px;background:#f2c4b5"></i>
<div class="v" style="left:1213.8px;top:1453.1px">0.29</div>
<i class="q" style="left:1295.2px;top:1464.9px;width:20.7px;height:20.4px;background:#f2bfad"></i>
<div class="v" style="left:1265.5px;top:1453.1px">0.32</div>
<i class="q" style="left:1347.0px;top:1464.9px;width:20.7px;height:20.4px;background:#f2c3b2"></i>
<div class="v" style="left:1317.3px;top:1453.1px">0.3</div>
<i class="q" style="left:1398.7px;top:1464.9px;width:20.7px;height:20.4px;background:#f2c4b5"></i>
<div class="v" style="left:1369.0px;top:1453.1px">0.29</div>
<i class="q" style="left:1450.5px;top:1464.9px;width:20.7px;height:20.4px;background:#f2c4b5"></i>
<div class="v" style="left:1420.8px;top:1453.1px">0.29</div>
<i class="q" style="left:1502.2px;top:1464.9px;width:20.7px;height:20.4px;background:#f2bcaa"></i>
<div class="v" style="left:1472.5px;top:1453.1px">0.33</div>
<i class="q" style="left:1554.0px;top:1464.9px;width:20.7px;height:20.4px;background:#f2c8ba"></i>
<div class="v" style="left:1524.3px;top:1453.1px">0.27</div>
<div class="v" style="left:1627.8px;top:1463.1px">NA</div>
<i class="q" style="left:1709.2px;top:1464.9px;width:20.7px;height:20.4px;background:#f0ecfc"></i>
<div class="v" style="left:1679.5px;top:1453.1px">–0.08</div>
<i class="q" style="left:1761.0px;top:1464.9px;width:20.7px;height:20.4px;background:#f2eefc"></i>
<div class="v" style="left:1731.3px;top:1453.1px">–0.07</div>
<i class="q" style="left:1812.7px;top:1464.9px;width:20.7px;height:20.4px;background:#fefbfa"></i>
<div class="v" style="left:1783.0px;top:1453.1px">0.02</div>
<i class="q" style="left:1864.5px;top:1464.9px;width:20.7px;height:20.4px;background:#dfd0fc"></i>
<div class="v" style="left:1834.8px;top:1453.1px">–0.19</div>
<i class="k" style="left:1108.5px;top:1529.2px;width:10px;height:2px"></i>
<div class="yl" style="left:797.3px;top:1518.2px">male</div>
<i class="q" style="left:1124.0px;top:1501.0px;width:52.0px;height:51.0px;background:#fd2812"></i>
<div class="v" style="left:1110.3px;top:1504.1px">0.97</div>
<div class="st" style="left:1110.3px;top:1525.6px">**</div>
<i class="q" style="left:1176.0px;top:1501.0px;width:52.0px;height:51.0px;background:#fa4225"></i>
<div class="v" style="left:1162.0px;top:1504.1px">0.89</div>
<div class="st" style="left:1162.0px;top:1525.6px">**</div>
<i class="q" style="left:1228.0px;top:1501.0px;width:52.0px;height:51.0px;background:#fd2b14"></i>
<div class="v" style="left:1213.8px;top:1504.1px">0.96</div>
<div class="st" style="left:1213.8px;top:1525.6px">**</div>
<i class="q" style="left:1280.0px;top:1501.0px;width:51.0px;height:51.0px;background:#fd2411"></i>
<div class="v" style="left:1265.5px;top:1504.1px">0.98</div>
<div class="st" style="left:1265.5px;top:1525.6px">**</div>
<i class="q" style="left:1331.0px;top:1501.0px;width:52.0px;height:51.0px;background:#fd2812"></i>
<div class="v" style="left:1317.3px;top:1504.1px">0.97</div>
<div class="st" style="left:1317.3px;top:1525.6px">**</div>
<i class="q" style="left:1383.0px;top:1501.0px;width:52.0px;height:51.0px;background:#fd2812"></i>
<div class="v" style="left:1369.0px;top:1504.1px">0.97</div>
<div class="st" style="left:1369.0px;top:1525.6px">**</div>
<i class="q" style="left:1435.0px;top:1501.0px;width:52.0px;height:51.0px;background:#fd2812"></i>
<div class="v" style="left:1420.8px;top:1504.1px">0.97</div>
<div class="st" style="left:1420.8px;top:1525.6px">**</div>
<i class="q" style="left:1487.0px;top:1501.0px;width:51.0px;height:51.0px;background:#fc361b"></i>
<div class="v" style="left:1472.5px;top:1504.1px">0.93</div>
<div class="st" style="left:1472.5px;top:1525.6px">**</div>
<i class="q" style="left:1605.7px;top:1515.9px;width:20.7px;height:20.4px;background:#f9f8fe"></i>
<div class="v" style="left:1576.0px;top:1504.1px">–0.03</div>
<div class="v" style="left:1627.8px;top:1514.1px">NA</div>
<i class="q" style="left:1709.2px;top:1515.9px;width:20.7px;height:20.4px;background:#eeeafc"></i>
<div class="v" style="left:1679.5px;top:1504.1px">–0.09</div>
<i class="q" style="left:1753.2px;top:1508.2px;width:36.2px;height:35.7px;background:#f1a28b"></i>
<div class="v" style="left:1731.3px;top:1504.1px">0.45</div>
<div class="st" style="left:1731.3px;top:1525.6px">*</div>
<i class="q" style="left:1797.0px;top:1501.0px;width:52.0px;height:51.0px;background:#f2795c"></i>
<div class="v" style="left:1783.0px;top:1504.1px">0.65</div>
<div class="st" style="left:1783.0px;top:1525.6px">**</div>
<i class="q" style="left:1864.5px;top:1515.9px;width:20.7px;height:20.4px;background:#f3d1c5"></i>
<div class="v" style="left:1834.8px;top:1504.1px">0.23</div>
<i class="k" style="left:1108.5px;top:1581.0px;width:10px;height:2px"></i>
<div class="yl" style="left:797.3px;top:1570.0px">female</div>
<i class="q" style="left:1124.0px;top:1552.0px;width:52.0px;height:51.0px;background:#fd2411"></i>
<div class="v" style="left:1110.3px;top:1555.1px">0.98</div>
<div class="st" style="left:1110.3px;top:1576.6px">**</div>
<i class="q" style="left:1176.0px;top:1552.0px;width:52.0px;height:51.0px;background:#f9482a"></i>
<div class="v" style="left:1162.0px;top:1555.1px">0.87</div>
<div class="st" style="left:1162.0px;top:1576.6px">**</div>
<i class="q" style="left:1228.0px;top:1552.0px;width:52.0px;height:51.0px;background:#fd2411"></i>
<div class="v" style="left:1213.8px;top:1555.1px">0.98</div>
<div class="st" style="left:1213.8px;top:1576.6px">**</div>
<i class="q" style="left:1280.0px;top:1552.0px;width:51.0px;height:51.0px;background:#fd2812"></i>
<div class="v" style="left:1265.5px;top:1555.1px">0.97</div>
<div class="st" style="left:1265.5px;top:1576.6px">**</div>
<i class="q" style="left:1331.0px;top:1552.0px;width:52.0px;height:51.0px;background:#fd2411"></i>
<div class="v" style="left:1317.3px;top:1555.1px">0.98</div>
<div class="st" style="left:1317.3px;top:1576.6px">**</div>
<i class="q" style="left:1383.0px;top:1552.0px;width:52.0px;height:51.0px;background:#fd2411"></i>
<div class="v" style="left:1369.0px;top:1555.1px">0.98</div>
<div class="st" style="left:1369.0px;top:1576.6px">**</div>
<i class="q" style="left:1435.0px;top:1552.0px;width:52.0px;height:51.0px;background:#fd2411"></i>
<div class="v" style="left:1420.8px;top:1555.1px">0.98</div>
<div class="st" style="left:1420.8px;top:1576.6px">**</div>
<i class="q" style="left:1538.0px;top:1552.0px;width:52.0px;height:51.0px;background:#fe2210"></i>
<div class="v" style="left:1524.3px;top:1555.1px">0.99</div>
<div class="st" style="left:1524.3px;top:1576.6px">**</div>
<i class="q" style="left:1605.7px;top:1566.9px;width:20.7px;height:20.4px;background:#fdfdfe"></i>
<div class="v" style="left:1576.0px;top:1555.1px">–0.01</div>
<div class="v" style="left:1627.8px;top:1565.1px">NA</div>
<i class="q" style="left:1709.2px;top:1566.9px;width:20.7px;height:20.4px;background:#f0ecfc"></i>
<div class="v" style="left:1679.5px;top:1555.1px">–0.08</div>
<i class="q" style="left:1753.2px;top:1559.2px;width:36.2px;height:35.7px;background:#f1a58e"></i>
<div class="v" style="left:1731.3px;top:1555.1px">0.44</div>
<div class="st" style="left:1731.3px;top:1576.6px">*</div>
<i class="q" style="left:1797.0px;top:1552.0px;width:52.0px;height:51.0px;background:#f27d60"></i>
<div class="v" style="left:1783.0px;top:1555.1px">0.63</div>
<div class="st" style="left:1783.0px;top:1576.6px">**</div>
<i class="q" style="left:1864.5px;top:1566.9px;width:20.7px;height:20.4px;background:#f4d8cc"></i>
<div class="v" style="left:1834.8px;top:1555.1px">0.2</div>
<i class="k" style="left:1108.5px;top:1632.7px;width:10px;height:2px"></i>
<div class="yl" style="left:797.3px;top:1621.7px">no_blood</div>
<i class="q" style="left:1124.0px;top:1603.0px;width:52.0px;height:51.0px;background:#fe2110"></i>
<div class="v" style="left:1110.3px;top:1606.1px">1</div>
<div class="st" style="left:1110.3px;top:1627.6px">**</div>
<i class="q" style="left:1176.0px;top:1603.0px;width:52.0px;height:51.0px;background:#fa4225"></i>
<div class="v" style="left:1162.0px;top:1606.1px">0.89</div>
<div class="st" style="left:1162.0px;top:1627.6px">**</div>
<i class="q" style="left:1228.0px;top:1603.0px;width:52.0px;height:51.0px;background:#fd2411"></i>
<div class="v" style="left:1213.8px;top:1606.1px">0.98</div>
<div class="st" style="left:1213.8px;top:1627.6px">**</div>
<i class="q" style="left:1280.0px;top:1603.0px;width:51.0px;height:51.0px;background:#fe2210"></i>
<div class="v" style="left:1265.5px;top:1606.1px">0.99</div>
<div class="st" style="left:1265.5px;top:1627.6px">**</div>
<i class="q" style="left:1331.0px;top:1603.0px;width:52.0px;height:51.0px;background:#fe2110"></i>
<div class="v" style="left:1317.3px;top:1606.1px">1</div>
<div class="st" style="left:1317.3px;top:1627.6px">**</div>
<i class="q" style="left:1383.0px;top:1603.0px;width:52.0px;height:51.0px;background:#fe2110"></i>
<div class="v" style="left:1369.0px;top:1606.1px">1</div>
<div class="st" style="left:1369.0px;top:1627.6px">**</div>
<i class="q" style="left:1487.0px;top:1603.0px;width:51.0px;height:51.0px;background:#fe2110"></i>
<div class="v" style="left:1472.5px;top:1606.1px">1</div>
<div class="st" style="left:1472.5px;top:1627.6px">**</div>
<i class="q" style="left:1538.0px;top:1603.0px;width:52.0px;height:51.0px;background:#fe2110"></i>
<div class="v" style="left:1524.3px;top:1606.1px">1</div>
<div class="st" style="left:1524.3px;top:1627.6px">**</div>
<i class="q" style="left:1605.7px;top:1617.9px;width:20.7px;height:20.4px;background:#fbfafe"></i>
<div class="v" style="left:1576.0px;top:1606.1px">–0.02</div>
<div class="v" style="left:1627.8px;top:1616.1px">NA</div>
<i class="q" style="left:1709.2px;top:1617.9px;width:20.7px;height:20.4px;background:#f2eefc"></i>
<div class="v" style="left:1679.5px;top:1606.1px">–0.07</div>
<i class="q" style="left:1753.2px;top:1610.2px;width:36.2px;height:35.7px;background:#f1a28b"></i>
<div class="v" style="left:1731.3px;top:1606.1px">0.45</div>
<div class="st" style="left:1731.3px;top:1627.6px">*</div>
<i class="q" style="left:1797.0px;top:1603.0px;width:52.0px;height:51.0px;background:#f27c5e"></i>
<div class="v" style="left:1783.0px;top:1606.1px">0.64</div>
<div class="st" style="left:1783.0px;top:1627.6px">**</div>
<i class="q" style="left:1864.5px;top:1617.9px;width:20.7px;height:20.4px;background:#f4d6ca"></i>
<div class="v" style="left:1834.8px;top:1606.1px">0.21</div>
<i class="k" style="left:1108.5px;top:1684.5px;width:10px;height:2px"></i>
<div class="yl" style="left:797.3px;top:1673.5px">basic</div>
<i class="q" style="left:1124.0px;top:1654.0px;width:52.0px;height:51.0px;background:#fe2110"></i>
<div class="v" style="left:1110.3px;top:1657.1px">1</div>
<div class="st" style="left:1110.3px;top:1678.6px">**</div>
<i class="q" style="left:1176.0px;top:1654.0px;width:52.0px;height:51.0px;background:#fa4225"></i>
<div class="v" style="left:1162.0px;top:1657.1px">0.89</div>
<div class="st" style="left:1162.0px;top:1678.6px">**</div>
<i class="q" style="left:1228.0px;top:1654.0px;width:52.0px;height:51.0px;background:#fd2411"></i>
<div class="v" style="left:1213.8px;top:1657.1px">0.98</div>
<div class="st" style="left:1213.8px;top:1678.6px">**</div>
<i class="q" style="left:1280.0px;top:1654.0px;width:51.0px;height:51.0px;background:#fe2210"></i>
<div class="v" style="left:1265.5px;top:1657.1px">0.99</div>
<div class="st" style="left:1265.5px;top:1678.6px">**</div>
<i class="q" style="left:1331.0px;top:1654.0px;width:52.0px;height:51.0px;background:#fe2110"></i>
<div class="v" style="left:1317.3px;top:1657.1px">1</div>
<div class="st" style="left:1317.3px;top:1678.6px">**</div>
<i class="q" style="left:1435.0px;top:1654.0px;width:52.0px;height:51.0px;background:#fe2110"></i>
<div class="v" style="left:1420.8px;top:1657.1px">1</div>
<div class="st" style="left:1420.8px;top:1678.6px">**</div>
<i class="q" style="left:1487.0px;top:1654.0px;width:51.0px;height:51.0px;background:#fe2110"></i>
<div class="v" style="left:1472.5px;top:1657.1px">1</div>
<div class="st" style="left:1472.5px;top:1678.6px">**</div>
<i class="q" style="left:1538.0px;top:1654.0px;width:52.0px;height:51.0px;background:#fe2110"></i>
<div class="v" style="left:1524.3px;top:1657.1px">1</div>
<div class="st" style="left:1524.3px;top:1678.6px">**</div>
<i class="q" style="left:1605.7px;top:1668.9px;width:20.7px;height:20.4px;background:#fbfafe"></i>
<div class="v" style="left:1576.0px;top:1657.1px">–0.02</div>
<div class="v" style="left:1627.8px;top:1667.1px">NA</div>
<i class="q" style="left:1709.2px;top:1668.9px;width:20.7px;height:20.4px;background:#f2eefc"></i>
<div class="v" style="left:1679.5px;top:1657.1px">–0.07</div>
<i class="q" style="left:1753.2px;top:1661.2px;width:36.2px;height:35.7px;background:#f1a28b"></i>
<div class="v" style="left:1731.3px;top:1657.1px">0.45</div>
<div class="st" style="left:1731.3px;top:1678.6px">*</div>
<i class="q" style="left:1797.0px;top:1654.0px;width:52.0px;height:51.0px;background:#f27c5e"></i>
<div class="v" style="left:1783.0px;top:1657.1px">0.64</div>
<div class="st" style="left:1783.0px;top:1678.6px">**</div>
<i class="q" style="left:1864.5px;top:1668.9px;width:20.7px;height:20.4px;background:#f4d6ca"></i>
<div class="v" style="left:1834.8px;top:1657.1px">0.21</div>
<i class="k" style="left:1108.5px;top:1736.2px;width:10px;height:2px"></i>
<div class="yl" style="left:797.3px;top:1725.2px">w_hla</div>
<i class="q" style="left:1124.0px;top:1705.0px;width:52.0px;height:51.0px;background:#fe2110"></i>
<div class="v" style="left:1110.3px;top:1708.1px">1</div>
<div class="st" style="left:1110.3px;top:1729.6px">**</div>
<i class="q" style="left:1176.0px;top:1705.0px;width:52.0px;height:51.0px;background:#fa4225"></i>
<div class="v" style="left:1162.0px;top:1708.1px">0.89</div>
<div class="st" style="left:1162.0px;top:1729.6px">**</div>
<i class="q" style="left:1228.0px;top:1705.0px;width:52.0px;height:51.0px;background:#fd2411"></i>
<div class="v" style="left:1213.8px;top:1708.1px">0.98</div>
<div class="st" style="left:1213.8px;top:1729.6px">**</div>
<i class="q" style="left:1280.0px;top:1705.0px;width:51.0px;height:51.0px;background:#fe2210"></i>
<div class="v" style="left:1265.5px;top:1708.1px">0.99</div>
<div class="st" style="left:1265.5px;top:1729.6px">**</div>
<div class="v" style="left:1369.0px;top:1718.1px">NA</div>
<div class="v" style="left:1420.8px;top:1718.1px">NA</div>
<div class="v" style="left:1472.5px;top:1718.1px">NA</div>
<div class="v" style="left:1524.3px;top:1718.1px">NA</div>
<div class="v" style="left:1576.0px;top:1718.1px">NA</div>
<div class="v" style="left:1627.8px;top:1718.1px">NA</div>
<div class="v" style="left:1679.5px;top:1718.1px">NA</div>
<div class="v" style="left:1731.3px;top:1718.1px">NA</div>
<div class="v" style="left:1783.0px;top:1718.1px">NA</div>
<div class="v" style="left:1834.8px;top:1718.1px">NA</div>
<i class="k" style="left:1108.5px;top:1788.0px;width:10px;height:2px"></i>
<div class="yl" style="left:797.3px;top:1777.0px">0_vs_2_18</div>
<i class="q" style="left:1124.0px;top:1756.0px;width:52.0px;height:51.0px;background:#fe2210"></i>
<div class="v" style="left:1110.3px;top:1759.1px">0.99</div>
<div class="st" style="left:1110.3px;top:1780.6px">**</div>
<i class="q" style="left:1176.0px;top:1756.0px;width:52.0px;height:51.0px;background:#fc361b"></i>
<div class="v" style="left:1162.0px;top:1759.1px">0.93</div>
<div class="st" style="left:1162.0px;top:1780.6px">**</div>
<i class="q" style="left:1228.0px;top:1756.0px;width:52.0px;height:51.0px;background:#fd2b14"></i>
<div class="v" style="left:1213.8px;top:1759.1px">0.96</div>
<div class="st" style="left:1213.8px;top:1780.6px">**</div>
<div class="v" style="left:1317.3px;top:1769.1px">NA</div>
<i class="q" style="left:1383.0px;top:1756.0px;width:52.0px;height:51.0px;background:#fe2210"></i>
<div class="v" style="left:1369.0px;top:1759.1px">0.99</div>
<div class="st" style="left:1369.0px;top:1780.6px">**</div>
<i class="q" style="left:1435.0px;top:1756.0px;width:52.0px;height:51.0px;background:#fe2210"></i>
<div class="v" style="left:1420.8px;top:1759.1px">0.99</div>
<div class="st" style="left:1420.8px;top:1780.6px">**</div>
<i class="q" style="left:1487.0px;top:1756.0px;width:51.0px;height:51.0px;background:#fe2210"></i>
<div class="v" style="left:1472.5px;top:1759.1px">0.99</div>
<div class="st" style="left:1472.5px;top:1780.6px">**</div>
<i class="q" style="left:1538.0px;top:1756.0px;width:52.0px;height:51.0px;background:#fe2210"></i>
<div class="v" style="left:1524.3px;top:1759.1px">0.99</div>
<div class="st" style="left:1524.3px;top:1780.6px">**</div>
<i class="q" style="left:1605.7px;top:1770.9px;width:20.7px;height:20.4px;background:#fefdfc"></i>
<div class="v" style="left:1576.0px;top:1759.1px">0.01</div>
<div class="v" style="left:1627.8px;top:1769.1px">NA</div>
<i class="q" style="left:1709.2px;top:1770.9px;width:20.7px;height:20.4px;background:#eeeafc"></i>
<div class="v" style="left:1679.5px;top:1759.1px">–0.09</div>
<i class="q" style="left:1753.2px;top:1763.2px;width:36.2px;height:35.7px;background:#f1a089"></i>
<div class="v" style="left:1731.3px;top:1759.1px">0.46</div>
<div class="st" style="left:1731.3px;top:1780.6px">*</div>
<i class="q" style="left:1797.0px;top:1756.0px;width:52.0px;height:51.0px;background:#f18165"></i>
<div class="v" style="left:1783.0px;top:1759.1px">0.61</div>
<div class="st" style="left:1783.0px;top:1780.6px">**</div>
<i class="q" style="left:1864.5px;top:1770.9px;width:20.7px;height:20.4px;background:#f4d4c7"></i>
<div class="v" style="left:1834.8px;top:1759.1px">0.22</div>
<i class="k" style="left:1108.5px;top:1839.7px;width:10px;height:2px"></i>
<div class="yl" style="left:797.3px;top:1828.7px">0_vs_1</div>
<i class="q" style="left:1124.0px;top:1807.0px;width:52.0px;height:51.0px;background:#fe2210"></i>
<div class="v" style="left:1110.3px;top:1810.1px">0.99</div>
<div class="st" style="left:1110.3px;top:1831.6px">**</div>
<i class="q" style="left:1176.0px;top:1807.0px;width:52.0px;height:51.0px;background:#f84d2f"></i>
<div class="v" style="left:1162.0px;top:1810.1px">0.85</div>
<div class="st" style="left:1162.0px;top:1831.6px">**</div>
<i class="q" style="left:1280.0px;top:1807.0px;width:51.0px;height:51.0px;background:#fd2411"></i>
<div class="v" style="left:1265.5px;top:1810.1px">0.98</div>
<div class="st" style="left:1265.5px;top:1831.6px">**</div>
<div class="v" style="left:1317.3px;top:1820.1px">NA</div>
<i class="q" style="left:1383.0px;top:1807.0px;width:52.0px;height:51.0px;background:#fe2110"></i>
<div class="v" style="left:1369.0px;top:1810.1px">1</div>
<div class="st" style="left:1369.0px;top:1831.6px">**</div>
<i class="q" style="left:1435.0px;top:1807.0px;width:52.0px;height:51.0px;background:#fe2110"></i>
<div class="v" style="left:1420.8px;top:1810.1px">1</div>
<div class="st" style="left:1420.8px;top:1831.6px">**</div>
<i class="q" style="left:1487.0px;top:1807.0px;width:51.0px;height:51.0px;background:#fe2210"></i>
<div class="v" style="left:1472.5px;top:1810.1px">0.99</div>
<div class="st" style="left:1472.5px;top:1831.6px">**</div>
<i class="q" style="left:1538.0px;top:1807.0px;width:52.0px;height:51.0px;background:#fe2210"></i>
<div class="v" style="left:1524.3px;top:1810.1px">0.99</div>
<div class="st" style="left:1524.3px;top:1831.6px">**</div>
<i class="q" style="left:1605.7px;top:1821.9px;width:20.7px;height:20.4px;background:#f7f6fd"></i>
<div class="v" style="left:1576.0px;top:1810.1px">–0.04</div>
<div class="v" style="left:1627.8px;top:1820.1px">NA</div>
<i class="q" style="left:1709.2px;top:1821.9px;width:20.7px;height:20.4px;background:#eeeafc"></i>
<div class="v" style="left:1679.5px;top:1810.1px">–0.09</div>
<i class="q" style="left:1753.2px;top:1814.2px;width:36.2px;height:35.7px;background:#f1a089"></i>
<div class="v" style="left:1731.3px;top:1810.1px">0.46</div>
<div class="st" style="left:1731.3px;top:1831.6px">*</div>
<i class="q" style="left:1797.0px;top:1807.0px;width:52.0px;height:51.0px;background:#f27d60"></i>
<div class="v" style="left:1783.0px;top:1810.1px">0.63</div>
<div class="st" style="left:1783.0px;top:1831.6px">**</div>
<i class="q" style="left:1864.5px;top:1821.9px;width:20.7px;height:20.4px;background:#f4d6ca"></i>
<div class="v" style="left:1834.8px;top:1810.1px">0.21</div>
<i class="k" style="left:1108.5px;top:1891.5px;width:10px;height:2px"></i>
<div class="yl" style="left:797.3px;top:1880.5px">1_vs_2_18</div>
<i class="q" style="left:1124.0px;top:1858.0px;width:52.0px;height:51.0px;background:#fa4225"></i>
<div class="v" style="left:1110.3px;top:1861.1px">0.89</div>
<div class="st" style="left:1110.3px;top:1882.6px">**</div>
<i class="q" style="left:1228.0px;top:1858.0px;width:52.0px;height:51.0px;background:#fb3c20"></i>
<div class="v" style="left:1213.8px;top:1861.1px">0.91</div>
<div class="st" style="left:1213.8px;top:1882.6px">**</div>
<i class="q" style="left:1280.0px;top:1858.0px;width:51.0px;height:51.0px;background:#fd2812"></i>
<div class="v" style="left:1265.5px;top:1861.1px">0.97</div>
<div class="st" style="left:1265.5px;top:1882.6px">**</div>
<div class="v" style="left:1317.3px;top:1871.1px">NA</div>
<i class="q" style="left:1383.0px;top:1858.0px;width:52.0px;height:51.0px;background:#fc361b"></i>
<div class="v" style="left:1369.0px;top:1861.1px">0.93</div>
<div class="st" style="left:1369.0px;top:1882.6px">**</div>
<i class="q" style="left:1435.0px;top:1858.0px;width:52.0px;height:51.0px;background:#fc361b"></i>
<div class="v" style="left:1420.8px;top:1861.1px">0.93</div>
<div class="st" style="left:1420.8px;top:1882.6px">**</div>
<i class="q" style="left:1487.0px;top:1858.0px;width:51.0px;height:51.0px;background:#fc361b"></i>
<div class="v" style="left:1472.5px;top:1861.1px">0.93</div>
<div class="st" style="left:1472.5px;top:1882.6px">**</div>
<i class="q" style="left:1538.0px;top:1858.0px;width:52.0px;height:51.0px;background:#fc361b"></i>
<div class="v" style="left:1524.3px;top:1861.1px">0.93</div>
<div class="st" style="left:1524.3px;top:1882.6px">**</div>
<i class="q" style="left:1605.7px;top:1872.9px;width:20.7px;height:20.4px;background:#fbf4f0"></i>
<div class="v" style="left:1576.0px;top:1861.1px">0.06</div>
<div class="v" style="left:1627.8px;top:1871.1px">NA</div>
<i class="q" style="left:1709.2px;top:1872.9px;width:20.7px;height:20.4px;background:#e7dffc"></i>
<div class="v" style="left:1679.5px;top:1861.1px">–0.13</div>
<i class="q" style="left:1753.2px;top:1865.2px;width:36.2px;height:35.7px;background:#f1a28b"></i>
<div class="v" style="left:1731.3px;top:1861.1px">0.45</div>
<div class="st" style="left:1731.3px;top:1882.6px">*</div>
<i class="q" style="left:1797.0px;top:1858.0px;width:52.0px;height:51.0px;background:#f18367"></i>
<div class="v" style="left:1783.0px;top:1861.1px">0.6</div>
<div class="st" style="left:1783.0px;top:1882.6px">**</div>
<i class="q" style="left:1864.5px;top:1872.9px;width:20.7px;height:20.4px;background:#f4d4c7"></i>
<div class="v" style="left:1834.8px;top:1861.1px">0.22</div>
<i class="k" style="left:1108.5px;top:1943.2px;width:10px;height:2px"></i>
<div class="yl" style="left:797.3px;top:1932.2px">0_vs_1_18</div>
<i class="q" style="left:1176.0px;top:1909.0px;width:52.0px;height:51.0px;background:#fc3219"></i>
<div class="v" style="left:1162.0px;top:1912.1px">0.94</div>
<div class="st" style="left:1162.0px;top:1933.6px">**</div>
<i class="q" style="left:1228.0px;top:1909.0px;width:52.0px;height:51.0px;background:#fe2110"></i>
<div class="v" style="left:1213.8px;top:1912.1px">1</div>
<div class="st" style="left:1213.8px;top:1933.6px">**</div>
<i class="q" style="left:1280.0px;top:1909.0px;width:51.0px;height:51.0px;background:#fe2210"></i>
<div class="v" style="left:1265.5px;top:1912.1px">0.99</div>
<div class="st" style="left:1265.5px;top:1933.6px">**</div>
<div class="v" style="left:1317.3px;top:1922.1px">NA</div>
<i class="q" style="left:1383.0px;top:1909.0px;width:52.0px;height:51.0px;background:#fe2110"></i>
<div class="v" style="left:1369.0px;top:1912.1px">1</div>
<div class="st" style="left:1369.0px;top:1933.6px">**</div>
<i class="q" style="left:1435.0px;top:1909.0px;width:52.0px;height:51.0px;background:#fe2110"></i>
<div class="v" style="left:1420.8px;top:1912.1px">1</div>
<div class="st" style="left:1420.8px;top:1933.6px">**</div>
<i class="q" style="left:1487.0px;top:1909.0px;width:51.0px;height:51.0px;background:#fe2110"></i>
<div class="v" style="left:1472.5px;top:1912.1px">1</div>
<div class="st" style="left:1472.5px;top:1933.6px">**</div>
<i class="q" style="left:1538.0px;top:1909.0px;width:52.0px;height:51.0px;background:#fe2110"></i>
<div class="v" style="left:1524.3px;top:1912.1px">1</div>
<div class="st" style="left:1524.3px;top:1933.6px">**</div>
<i class="q" style="left:1605.7px;top:1923.9px;width:20.7px;height:20.4px;background:#fbfafe"></i>
<div class="v" style="left:1576.0px;top:1912.1px">–0.02</div>
<div class="v" style="left:1627.8px;top:1922.1px">NA</div>
<i class="q" style="left:1709.2px;top:1923.9px;width:20.7px;height:20.4px;background:#f0ecfc"></i>
<div class="v" style="left:1679.5px;top:1912.1px">–0.08</div>
<i class="q" style="left:1753.2px;top:1916.2px;width:36.2px;height:35.7px;background:#f1a28b"></i>
<div class="v" style="left:1731.3px;top:1912.1px">0.45</div>
<div class="st" style="left:1731.3px;top:1933.6px">*</div>
<i class="q" style="left:1797.0px;top:1909.0px;width:52.0px;height:51.0px;background:#f27c5e"></i>
<div class="v" style="left:1783.0px;top:1912.1px">0.64</div>
<div class="st" style="left:1783.0px;top:1933.6px">**</div>
<i class="q" style="left:1864.5px;top:1923.9px;width:20.7px;height:20.4px;background:#f4d6ca"></i>
<div class="v" style="left:1834.8px;top:1912.1px">0.21</div>
<i class="k" style="left:1118.0px;top:1188.0px;width:2px;height:777.3px"></i>
<i class="k" style="left:1118.0px;top:1963.3px;width:787.0px;height:2px"></i>
<i class="k" style="left:1149.3px;top:1964.3px;width:2px;height:9.5px"></i>
<i class="k" style="left:1201.0px;top:1964.3px;width:2px;height:9.5px"></i>
<i class="k" style="left:1252.8px;top:1964.3px;width:2px;height:9.5px"></i>
<i class="k" style="left:1304.5px;top:1964.3px;width:2px;height:9.5px"></i>
<i class="k" style="left:1356.3px;top:1964.3px;width:2px;height:9.5px"></i>
<i class="k" style="left:1408.0px;top:1964.3px;width:2px;height:9.5px"></i>
<i class="k" style="left:1459.8px;top:1964.3px;width:2px;height:9.5px"></i>
<i class="k" style="left:1511.5px;top:1964.3px;width:2px;height:9.5px"></i>
<i class="k" style="left:1563.3px;top:1964.3px;width:2px;height:9.5px"></i>
<i class="k" style="left:1615.0px;top:1964.3px;width:2px;height:9.5px"></i>
<i class="k" style="left:1666.8px;top:1964.3px;width:2px;height:9.5px"></i>
<i class="k" style="left:1718.5px;top:1964.3px;width:2px;height:9.5px"></i>
<i class="k" style="left:1770.3px;top:1964.3px;width:2px;height:9.5px"></i>
<i class="k" style="left:1822.0px;top:1964.3px;width:2px;height:9.5px"></i>
<i class="k" style="left:1873.8px;top:1964.3px;width:2px;height:9.5px"></i>
<div class="xl" style="left:1137.0px;top:2287.8px">0_vs_1_18</div>
<div class="xl" style="left:1188.8px;top:2287.8px">1_vs_2_18</div>
<div class="xl" style="left:1240.5px;top:2287.8px">0_vs_1</div>
<div class="xl" style="left:1292.2px;top:2287.8px">0_vs_2_18</div>
<div class="xl" style="left:1344.0px;top:2287.8px">w_hla</div>
<div class="xl" style="left:1395.8px;top:2287.8px">basic</div>
<div class="xl" style="left:1447.5px;top:2287.8px">no_blood</div>
<div class="xl" style="left:1499.2px;top:2287.8px">female</div>
<div class="xl" style="left:1551.0px;top:2287.8px">male</div>
<div class="xl" style="left:1602.8px;top:2287.8px">HHV-7</div>
<div class="xl" style="left:1654.5px;top:2287.8px">bmem</div>
<div class="xl" style="left:1706.2px;top:2287.8px">EBNA</div>
<div class="xl" style="left:1758.0px;top:2287.8px">ZEBRA</div>
<div class="xl" style="left:1809.8px;top:2287.8px">VCA-p18</div>
<div class="xl" style="left:1861.5px;top:2287.8px">EA</div>
<svg style="position:absolute;left:0;top:0" width="2083" height="2111" viewBox="0 0 2083 2111"><line x1="1119" y1="1964.3" x2="1905" y2="1190.3" stroke="#000" stroke-width="2"/></svg>
<div class="pl" style="left:1016.3px;top:1144.7px">c</div>
<div class="tt" style="left:1655.3px;top:1144.7px">non-MHC loci</div>
<div class="tt" style="left:1913.9px;top:1406.6px;transform-origin:0 0;transform:rotate(-90deg)">HLA-alleles</div>
<div style="position:absolute;left:1959.3px;top:1545.9px;width:56.5px;height:281.8px;background:linear-gradient(to bottom,#fe2110 2.5%,#fc3419 7.5%,#f94729 12.5%,#f65838 17.5%,#f56546 22.5%,#f37355 27.5%,#f27f63 32.5%,#f08b71 37.5%,#f09981 42.5%,#f1a790 47.5%,#f1b5a1 52.5%,#f2c2b2 57.5%,#f3cfc2 62.5%,#f5ddd4 67.5%,#f8eae4 72.5%,#fcf6f3 77.5%,#fcfcfe 82.5%,#f1edfc 87.5%,#e6ddfc 92.5%,#ddcdfc 97.5%)"></div>
<i class="t" style="left:1959.3px;top:1603.8px;width:11.3px"></i>
<i class="t" style="left:2004.5px;top:1603.8px;width:11.3px"></i>
<div class="ll" style="left:2034.5px;top:1592.8px">0.75</div>
<i class="t" style="left:1959.3px;top:1662.0px;width:11.3px"></i>
<i class="t" style="left:2004.5px;top:1662.0px;width:11.3px"></i>
<div class="ll" style="left:2034.5px;top:1651.0px">0.50</div>
<i class="t" style="left:1959.3px;top:1720.5px;width:11.3px"></i>
<i class="t" style="left:2004.5px;top:1720.5px;width:11.3px"></i>
<div class="ll" style="left:2034.5px;top:1709.5px">0.25</div>
<i class="t" style="left:1959.3px;top:1778.9px;width:11.3px"></i>
<i class="t" style="left:2004.5px;top:1778.9px;width:11.3px"></i>
<div class="ll" style="left:2034.5px;top:1767.9px">0.00</div>
<div class="rho" style="left:1964.7px;top:1496px">ρ</div>
</div></body></html>
